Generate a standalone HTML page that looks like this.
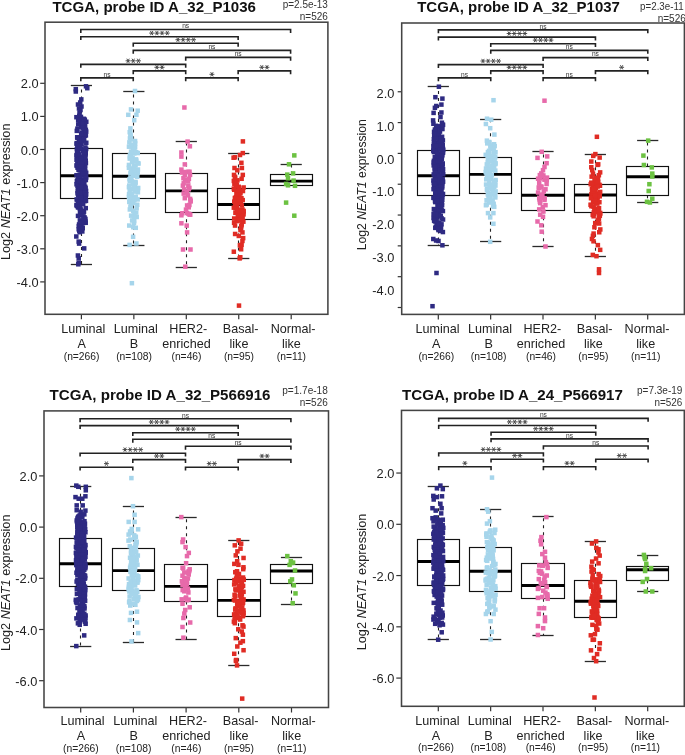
<!DOCTYPE html>
<html><head><meta charset="utf-8"><style>
html,body{margin:0;padding:0;background:#fff;}
body{width:685px;height:755px;overflow:hidden;}
svg{display:block;font-family:"Liberation Sans",sans-serif;filter:blur(0.3px);}
</style></head><body>
<svg width="685" height="755" viewBox="0 0 685 755">
<rect width="685" height="755" fill="#fff"/>
<line x1="40.2" y1="83.3" x2="45" y2="83.3" stroke="#333" stroke-width="1.2" />
<text x="38.6" y="88.3" font-size="12.8" text-anchor="end" fill="#222" >2.0</text>
<line x1="40.2" y1="116.4" x2="45" y2="116.4" stroke="#333" stroke-width="1.2" />
<text x="38.6" y="121.4" font-size="12.8" text-anchor="end" fill="#222" >1.0</text>
<line x1="40.2" y1="149.5" x2="45" y2="149.5" stroke="#333" stroke-width="1.2" />
<text x="38.6" y="154.5" font-size="12.8" text-anchor="end" fill="#222" >0.0</text>
<line x1="40.2" y1="182.6" x2="45" y2="182.6" stroke="#333" stroke-width="1.2" />
<text x="38.6" y="187.6" font-size="12.8" text-anchor="end" fill="#222" >-1.0</text>
<line x1="40.2" y1="215.7" x2="45" y2="215.7" stroke="#333" stroke-width="1.2" />
<text x="38.6" y="220.7" font-size="12.8" text-anchor="end" fill="#222" >-2.0</text>
<line x1="40.2" y1="248.8" x2="45" y2="248.8" stroke="#333" stroke-width="1.2" />
<text x="38.6" y="253.8" font-size="12.8" text-anchor="end" fill="#222" >-3.0</text>
<line x1="40.2" y1="281.9" x2="45" y2="281.9" stroke="#333" stroke-width="1.2" />
<text x="38.6" y="286.9" font-size="12.8" text-anchor="end" fill="#222" >-4.0</text>
<text transform="translate(10,191.8) rotate(-90)" font-size="12.3" text-anchor="middle" fill="#222" textLength="136.5" lengthAdjust="spacingAndGlyphs">Log2 <tspan font-style="italic">NEAT1</tspan> expression</text>
<line x1="81.4" y1="314.3" x2="81.4" y2="319.3" stroke="#333" stroke-width="1.2" />
<text x="83.3" y="332.9" font-size="12.6" text-anchor="middle" fill="#222" >Luminal</text>
<text x="81.6" y="348" font-size="12.6" text-anchor="middle" fill="#222" >A</text>
<text x="81.6" y="359.7" font-size="10.3" text-anchor="middle" fill="#222" >(n=266)</text>
<line x1="133.85" y1="314.3" x2="133.85" y2="319.3" stroke="#333" stroke-width="1.2" />
<text x="135.75" y="332.9" font-size="12.6" text-anchor="middle" fill="#222" >Luminal</text>
<text x="134.05" y="348" font-size="12.6" text-anchor="middle" fill="#222" >B</text>
<text x="134.05" y="359.7" font-size="10.3" text-anchor="middle" fill="#222" >(n=108)</text>
<line x1="186.3" y1="314.3" x2="186.3" y2="319.3" stroke="#333" stroke-width="1.2" />
<text x="188.2" y="332.9" font-size="12.6" text-anchor="middle" fill="#222" >HER2-</text>
<text x="186.5" y="348" font-size="12.6" text-anchor="middle" fill="#222" >enriched</text>
<text x="186.5" y="359.7" font-size="10.3" text-anchor="middle" fill="#222" >(n=46)</text>
<line x1="238.75" y1="314.3" x2="238.75" y2="319.3" stroke="#333" stroke-width="1.2" />
<text x="240.65" y="332.9" font-size="12.6" text-anchor="middle" fill="#222" >Basal-</text>
<text x="238.95" y="348" font-size="12.6" text-anchor="middle" fill="#222" >like</text>
<text x="238.95" y="359.7" font-size="10.3" text-anchor="middle" fill="#222" >(n=95)</text>
<line x1="291.2" y1="314.3" x2="291.2" y2="319.3" stroke="#333" stroke-width="1.2" />
<text x="293.1" y="332.9" font-size="12.6" text-anchor="middle" fill="#222" >Normal-</text>
<text x="291.4" y="348" font-size="12.6" text-anchor="middle" fill="#222" >like</text>
<text x="291.4" y="359.7" font-size="10.3" text-anchor="middle" fill="#222" >(n=11)</text>
<text x="52.4" y="11.8" font-size="14" text-anchor="start" font-weight="bold" fill="#111" textLength="203.6" lengthAdjust="spacingAndGlyphs" >TCGA, probe ID A_32_P1036</text>
<text x="327.9" y="7.6" font-size="10.6" text-anchor="end" fill="#333" textLength="45.2" lengthAdjust="spacingAndGlyphs" >p=2.5e-13</text>
<text x="327.9" y="19.6" font-size="10.6" text-anchor="end" fill="#333" textLength="28.1" lengthAdjust="spacingAndGlyphs" >n=526</text>
<path d="M80.8 32.9V29.5H290.6V32.9" fill="none" stroke="#222" stroke-width="1.6"/>
<text x="185.7" y="28.2" font-size="8" text-anchor="middle" fill="#333" textLength="7" lengthAdjust="spacingAndGlyphs" >ns</text>
<path d="M80.8 40.1V36.7H238.15V40.1" fill="none" stroke="#222" stroke-width="1.6"/>
<path d="M149.23 33.1H154.12M150.45 30.98L152.9 35.22M150.45 35.22L152.9 30.98M154.43 33.1H159.32M155.65 30.98L158.1 35.22M155.65 35.22L158.1 30.98M159.63 33.1H164.53M160.85 30.98L163.3 35.22M160.85 35.22L163.3 30.98M164.83 33.1H169.72M166.05 30.98L168.5 35.22M166.05 35.22L168.5 30.98" stroke="#444" stroke-width="0.95" fill="none"/>
<path d="M133.25 46.7V43.3H238.15V46.7" fill="none" stroke="#222" stroke-width="1.6"/>
<path d="M175.45 39.7H180.35M176.68 37.58L179.13 41.82M176.68 41.82L179.13 37.58M180.65 39.7H185.55M181.88 37.58L184.33 41.82M181.88 41.82L184.33 37.58M185.85 39.7H190.75M187.08 37.58L189.53 41.82M187.08 41.82L189.53 37.58M191.05 39.7H195.95M192.28 37.58L194.73 41.82M192.28 41.82L194.73 37.58" stroke="#444" stroke-width="0.95" fill="none"/>
<path d="M133.25 53.8V50.4H290.6V53.8" fill="none" stroke="#222" stroke-width="1.6"/>
<text x="211.93" y="49.1" font-size="8" text-anchor="middle" fill="#333" textLength="7" lengthAdjust="spacingAndGlyphs" >ns</text>
<path d="M185.7 60.8V57.4H290.6V60.8" fill="none" stroke="#222" stroke-width="1.6"/>
<text x="238.15" y="56.1" font-size="8" text-anchor="middle" fill="#333" textLength="7" lengthAdjust="spacingAndGlyphs" >ns</text>
<path d="M80.8 67.8V64.4H185.7V67.8" fill="none" stroke="#222" stroke-width="1.6"/>
<path d="M125.6 60.8H130.5M126.83 58.68L129.28 62.92M126.83 62.92L129.28 58.68M130.8 60.8H135.7M132.03 58.68L134.47 62.92M132.03 62.92L134.47 58.68M136 60.8H140.9M137.23 58.68L139.68 62.92M137.23 62.92L139.68 58.68" stroke="#444" stroke-width="0.95" fill="none"/>
<path d="M133.25 74.3V70.9H185.7V74.3" fill="none" stroke="#222" stroke-width="1.6"/>
<path d="M154.43 67.3H159.33M155.65 65.18L158.1 69.42M155.65 69.42L158.1 65.18M159.63 67.3H164.53M160.85 65.18L163.3 69.42M160.85 69.42L163.3 65.18" stroke="#444" stroke-width="0.95" fill="none"/>
<path d="M238.15 74.3V70.9H290.6V74.3" fill="none" stroke="#222" stroke-width="1.6"/>
<path d="M259.32 67.3H264.22M260.55 65.18L263 69.42M260.55 69.42L263 65.18M264.52 67.3H269.42M265.75 65.18L268.2 69.42M265.75 69.42L268.2 65.18" stroke="#444" stroke-width="0.95" fill="none"/>
<path d="M80.8 81.3V77.9H133.25V81.3" fill="none" stroke="#222" stroke-width="1.6"/>
<text x="107.03" y="76.6" font-size="8" text-anchor="middle" fill="#333" textLength="7" lengthAdjust="spacingAndGlyphs" >ns</text>
<path d="M185.7 81.3V77.9H238.15V81.3" fill="none" stroke="#222" stroke-width="1.6"/>
<path d="M209.48 74.3H214.38M210.7 72.18L213.15 76.42M210.7 76.42L213.15 72.18" stroke="#444" stroke-width="0.95" fill="none"/>
<line x1="81.5" y1="148.4" x2="81.5" y2="85.9" stroke="#222" stroke-width="1.1" stroke-dasharray="3 4"/>
<line x1="70.8" y1="85.5" x2="92" y2="85.5" stroke="#2a2a2a" stroke-width="1.3" />
<line x1="81.5" y1="198.1" x2="81.5" y2="264.4" stroke="#222" stroke-width="1.1" stroke-dasharray="3 4"/>
<line x1="70.8" y1="264.5" x2="92" y2="264.5" stroke="#2a2a2a" stroke-width="1.3" />
<rect x="60.5" y="148.5" width="42" height="50" fill="#fff" stroke="#111" stroke-width="1.15"/>
<line x1="60.5" y1="175.7" x2="102.5" y2="175.7" stroke="#000" stroke-width="2.9" />
<line x1="133.5" y1="153.4" x2="133.5" y2="91.5" stroke="#222" stroke-width="1.1" stroke-dasharray="3 4"/>
<line x1="123.25" y1="91.5" x2="144.45" y2="91.5" stroke="#2a2a2a" stroke-width="1.3" />
<line x1="133.5" y1="198.5" x2="133.5" y2="245.5" stroke="#222" stroke-width="1.1" stroke-dasharray="3 4"/>
<line x1="123.25" y1="245.5" x2="144.45" y2="245.5" stroke="#2a2a2a" stroke-width="1.3" />
<rect x="112.5" y="153.5" width="43" height="45" fill="#fff" stroke="#111" stroke-width="1.15"/>
<line x1="112.5" y1="176.2" x2="155.5" y2="176.2" stroke="#000" stroke-width="2.9" />
<line x1="186.5" y1="173.4" x2="186.5" y2="141.4" stroke="#222" stroke-width="1.1" stroke-dasharray="3 4"/>
<line x1="175.7" y1="141.5" x2="196.9" y2="141.5" stroke="#2a2a2a" stroke-width="1.3" />
<line x1="186.5" y1="212.2" x2="186.5" y2="267" stroke="#222" stroke-width="1.1" stroke-dasharray="3 4"/>
<line x1="175.7" y1="267.5" x2="196.9" y2="267.5" stroke="#2a2a2a" stroke-width="1.3" />
<rect x="165.5" y="173.5" width="42" height="39" fill="#fff" stroke="#111" stroke-width="1.15"/>
<line x1="165.5" y1="190.9" x2="207.5" y2="190.9" stroke="#000" stroke-width="2.9" />
<line x1="238.5" y1="188.6" x2="238.5" y2="153.8" stroke="#222" stroke-width="1.1" stroke-dasharray="3 4"/>
<line x1="228.15" y1="153.5" x2="249.35" y2="153.5" stroke="#2a2a2a" stroke-width="1.3" />
<line x1="238.5" y1="219.6" x2="238.5" y2="258.4" stroke="#222" stroke-width="1.1" stroke-dasharray="3 4"/>
<line x1="228.15" y1="258.5" x2="249.35" y2="258.5" stroke="#2a2a2a" stroke-width="1.3" />
<rect x="217.5" y="188.5" width="42" height="31" fill="#fff" stroke="#111" stroke-width="1.15"/>
<line x1="217.5" y1="204.5" x2="259.5" y2="204.5" stroke="#000" stroke-width="2.9" />
<line x1="291.5" y1="174.6" x2="291.5" y2="164.3" stroke="#222" stroke-width="1.1" stroke-dasharray="3 4"/>
<line x1="280.6" y1="164.5" x2="301.8" y2="164.5" stroke="#2a2a2a" stroke-width="1.3" />
<rect x="270.5" y="174.5" width="42" height="11" fill="#fff" stroke="#111" stroke-width="1.15"/>
<line x1="270.5" y1="181.1" x2="312.5" y2="181.1" stroke="#000" stroke-width="2.9" />
<g fill="#2e2a82">
<rect x="82.95" y="152.58" width="4.5" height="4.5"/>
<rect x="80.53" y="189.35" width="4.5" height="4.5"/>
<rect x="81.69" y="184.09" width="4.5" height="4.5"/>
<rect x="80.48" y="225.99" width="4.5" height="4.5"/>
<rect x="76.99" y="228.04" width="4.5" height="4.5"/>
<rect x="75.26" y="197.62" width="4.5" height="4.5"/>
<rect x="75.85" y="143.05" width="4.5" height="4.5"/>
<rect x="81.85" y="124.68" width="4.5" height="4.5"/>
<rect x="83.45" y="175.65" width="4.5" height="4.5"/>
<rect x="75.13" y="135.45" width="4.5" height="4.5"/>
<rect x="82.76" y="163.79" width="4.5" height="4.5"/>
<rect x="75.38" y="177.92" width="4.5" height="4.5"/>
<rect x="77.63" y="157.65" width="4.5" height="4.5"/>
<rect x="83.96" y="175.26" width="4.5" height="4.5"/>
<rect x="83.5" y="149.97" width="4.5" height="4.5"/>
<rect x="76.86" y="166.71" width="4.5" height="4.5"/>
<rect x="78.14" y="213.19" width="4.5" height="4.5"/>
<rect x="82.5" y="133.44" width="4.5" height="4.5"/>
<rect x="74.25" y="172.95" width="4.5" height="4.5"/>
<rect x="75.78" y="205.24" width="4.5" height="4.5"/>
<rect x="83.46" y="220.56" width="4.5" height="4.5"/>
<rect x="76.75" y="106.25" width="4.5" height="4.5"/>
<rect x="74.54" y="140.84" width="4.5" height="4.5"/>
<rect x="80.46" y="156.69" width="4.5" height="4.5"/>
<rect x="81.06" y="132.5" width="4.5" height="4.5"/>
<rect x="81.65" y="127.21" width="4.5" height="4.5"/>
<rect x="78.04" y="200.85" width="4.5" height="4.5"/>
<rect x="83.78" y="192.3" width="4.5" height="4.5"/>
<rect x="80.57" y="196.77" width="4.5" height="4.5"/>
<rect x="82.31" y="215.15" width="4.5" height="4.5"/>
<rect x="78.16" y="180.49" width="4.5" height="4.5"/>
<rect x="78.1" y="118.92" width="4.5" height="4.5"/>
<rect x="81.32" y="188.29" width="4.5" height="4.5"/>
<rect x="74.62" y="178.84" width="4.5" height="4.5"/>
<rect x="79.99" y="160.92" width="4.5" height="4.5"/>
<rect x="82.97" y="151.73" width="4.5" height="4.5"/>
<rect x="75.55" y="178.43" width="4.5" height="4.5"/>
<rect x="79.12" y="146.55" width="4.5" height="4.5"/>
<rect x="78.53" y="210.57" width="4.5" height="4.5"/>
<rect x="76.45" y="239.35" width="4.5" height="4.5"/>
<rect x="76.81" y="144.51" width="4.5" height="4.5"/>
<rect x="81.21" y="195.26" width="4.5" height="4.5"/>
<rect x="75.62" y="184.62" width="4.5" height="4.5"/>
<rect x="78.06" y="212.21" width="4.5" height="4.5"/>
<rect x="77.13" y="172.6" width="4.5" height="4.5"/>
<rect x="74.55" y="153.61" width="4.5" height="4.5"/>
<rect x="74.97" y="149.53" width="4.5" height="4.5"/>
<rect x="74.57" y="147.03" width="4.5" height="4.5"/>
<rect x="80.33" y="170.18" width="4.5" height="4.5"/>
<rect x="80.05" y="229.19" width="4.5" height="4.5"/>
<rect x="76.05" y="174.55" width="4.5" height="4.5"/>
<rect x="74.35" y="163.08" width="4.5" height="4.5"/>
<rect x="83.06" y="169.32" width="4.5" height="4.5"/>
<rect x="79.56" y="177.33" width="4.5" height="4.5"/>
<rect x="79.81" y="190.24" width="4.5" height="4.5"/>
<rect x="81.82" y="153.91" width="4.5" height="4.5"/>
<rect x="81.53" y="158.26" width="4.5" height="4.5"/>
<rect x="79.44" y="196.25" width="4.5" height="4.5"/>
<rect x="81.82" y="185.25" width="4.5" height="4.5"/>
<rect x="77.97" y="168.08" width="4.5" height="4.5"/>
<rect x="78.05" y="181.07" width="4.5" height="4.5"/>
<rect x="76.57" y="223.88" width="4.5" height="4.5"/>
<rect x="76.68" y="185.94" width="4.5" height="4.5"/>
<rect x="79.33" y="141.89" width="4.5" height="4.5"/>
<rect x="81.21" y="214.18" width="4.5" height="4.5"/>
<rect x="78.02" y="208.46" width="4.5" height="4.5"/>
<rect x="77.04" y="138.21" width="4.5" height="4.5"/>
<rect x="77.82" y="206.53" width="4.5" height="4.5"/>
<rect x="83.3" y="158.46" width="4.5" height="4.5"/>
<rect x="78.65" y="115.9" width="4.5" height="4.5"/>
<rect x="76.09" y="176.64" width="4.5" height="4.5"/>
<rect x="81.77" y="186.66" width="4.5" height="4.5"/>
<rect x="83.06" y="131.02" width="4.5" height="4.5"/>
<rect x="74.55" y="128.62" width="4.5" height="4.5"/>
<rect x="81.83" y="193.41" width="4.5" height="4.5"/>
<rect x="80.05" y="187.73" width="4.5" height="4.5"/>
<rect x="76.75" y="174.99" width="4.5" height="4.5"/>
<rect x="75.55" y="161.24" width="4.5" height="4.5"/>
<rect x="74.47" y="202.61" width="4.5" height="4.5"/>
<rect x="79.48" y="194.58" width="4.5" height="4.5"/>
<rect x="80.92" y="201.52" width="4.5" height="4.5"/>
<rect x="77.15" y="228.71" width="4.5" height="4.5"/>
<rect x="77.85" y="142.45" width="4.5" height="4.5"/>
<rect x="85.05" y="85.95" width="4.5" height="4.5"/>
<rect x="83.94" y="129.29" width="4.5" height="4.5"/>
<rect x="83.24" y="148.18" width="4.5" height="4.5"/>
<rect x="78.86" y="224.53" width="4.5" height="4.5"/>
<rect x="76.66" y="176.27" width="4.5" height="4.5"/>
<rect x="76.19" y="155.72" width="4.5" height="4.5"/>
<rect x="81.61" y="129.62" width="4.5" height="4.5"/>
<rect x="76.86" y="174.03" width="4.5" height="4.5"/>
<rect x="83.65" y="160.75" width="4.5" height="4.5"/>
<rect x="79.23" y="223.32" width="4.5" height="4.5"/>
<rect x="76.33" y="145.54" width="4.5" height="4.5"/>
<rect x="75.76" y="213.63" width="4.5" height="4.5"/>
<rect x="82.76" y="184.26" width="4.5" height="4.5"/>
<rect x="79.73" y="173.05" width="4.5" height="4.5"/>
<rect x="74.62" y="163.64" width="4.5" height="4.5"/>
<rect x="83.49" y="151.16" width="4.5" height="4.5"/>
<rect x="73.55" y="89.25" width="4.5" height="4.5"/>
<rect x="76.08" y="181.77" width="4.5" height="4.5"/>
<rect x="74.05" y="234.25" width="4.5" height="4.5"/>
<rect x="76.75" y="144.54" width="4.5" height="4.5"/>
<rect x="77.68" y="225.24" width="4.5" height="4.5"/>
<rect x="81.16" y="179.62" width="4.5" height="4.5"/>
<rect x="76.73" y="139.2" width="4.5" height="4.5"/>
<rect x="82.57" y="167.27" width="4.5" height="4.5"/>
<rect x="80.41" y="171.97" width="4.5" height="4.5"/>
<rect x="81.72" y="148.41" width="4.5" height="4.5"/>
<rect x="78.66" y="114.62" width="4.5" height="4.5"/>
<rect x="81.95" y="246.15" width="4.5" height="4.5"/>
<rect x="75.08" y="143.37" width="4.5" height="4.5"/>
<rect x="77.25" y="183.07" width="4.5" height="4.5"/>
<rect x="80.4" y="162.41" width="4.5" height="4.5"/>
<rect x="77.74" y="212.05" width="4.5" height="4.5"/>
<rect x="80.6" y="221.1" width="4.5" height="4.5"/>
<rect x="83.05" y="186.22" width="4.5" height="4.5"/>
<rect x="79.83" y="182.23" width="4.5" height="4.5"/>
<rect x="76.81" y="222.25" width="4.5" height="4.5"/>
<rect x="79.06" y="122.05" width="4.5" height="4.5"/>
<rect x="75.19" y="159.64" width="4.5" height="4.5"/>
<rect x="75.21" y="162.79" width="4.5" height="4.5"/>
<rect x="82.78" y="165.18" width="4.5" height="4.5"/>
<rect x="82.16" y="169.64" width="4.5" height="4.5"/>
<rect x="83.63" y="133.2" width="4.5" height="4.5"/>
<rect x="80.3" y="134.5" width="4.5" height="4.5"/>
<rect x="80.03" y="154.77" width="4.5" height="4.5"/>
<rect x="84.03" y="140.5" width="4.5" height="4.5"/>
<rect x="83.9" y="146.74" width="4.5" height="4.5"/>
<rect x="76.85" y="241.35" width="4.5" height="4.5"/>
<rect x="81.89" y="136.72" width="4.5" height="4.5"/>
<rect x="80.48" y="166.27" width="4.5" height="4.5"/>
<rect x="83.3" y="159.14" width="4.5" height="4.5"/>
<rect x="73.55" y="86.95" width="4.5" height="4.5"/>
<rect x="82.14" y="179.41" width="4.5" height="4.5"/>
<rect x="81.43" y="170.82" width="4.5" height="4.5"/>
<rect x="81.74" y="209.47" width="4.5" height="4.5"/>
<rect x="74.35" y="203.13" width="4.5" height="4.5"/>
<rect x="79.24" y="130.38" width="4.5" height="4.5"/>
<rect x="81.58" y="147.71" width="4.5" height="4.5"/>
<rect x="75.36" y="183.58" width="4.5" height="4.5"/>
<rect x="76.82" y="204.75" width="4.5" height="4.5"/>
<rect x="77.59" y="176.97" width="4.5" height="4.5"/>
<rect x="79.22" y="168.27" width="4.5" height="4.5"/>
<rect x="83.61" y="177.77" width="4.5" height="4.5"/>
<rect x="74.4" y="197.22" width="4.5" height="4.5"/>
<rect x="74.28" y="182.03" width="4.5" height="4.5"/>
<rect x="74.29" y="157.54" width="4.5" height="4.5"/>
<rect x="83.5" y="205.87" width="4.5" height="4.5"/>
<rect x="78.94" y="124.9" width="4.5" height="4.5"/>
<rect x="77.71" y="139.82" width="4.5" height="4.5"/>
<rect x="78.92" y="179.92" width="4.5" height="4.5"/>
<rect x="82.36" y="171.47" width="4.5" height="4.5"/>
<rect x="75.97" y="122.17" width="4.5" height="4.5"/>
<rect x="78.49" y="194.94" width="4.5" height="4.5"/>
<rect x="77.25" y="110.55" width="4.5" height="4.5"/>
<rect x="74.89" y="203.83" width="4.5" height="4.5"/>
<rect x="77.54" y="229.94" width="4.5" height="4.5"/>
<rect x="77.62" y="192.78" width="4.5" height="4.5"/>
<rect x="77.94" y="160.11" width="4.5" height="4.5"/>
<rect x="76.24" y="176.08" width="4.5" height="4.5"/>
<rect x="78.06" y="174.12" width="4.5" height="4.5"/>
<rect x="80.88" y="210.13" width="4.5" height="4.5"/>
<rect x="75.03" y="150.96" width="4.5" height="4.5"/>
<rect x="83.58" y="127.59" width="4.5" height="4.5"/>
<rect x="75.75" y="191.23" width="4.5" height="4.5"/>
<rect x="76.05" y="262.05" width="4.5" height="4.5"/>
<rect x="80.82" y="148.89" width="4.5" height="4.5"/>
<rect x="83.52" y="173.68" width="4.5" height="4.5"/>
<rect x="77.65" y="207.24" width="4.5" height="4.5"/>
<rect x="78.88" y="196.65" width="4.5" height="4.5"/>
<rect x="79.9" y="138.84" width="4.5" height="4.5"/>
<rect x="79.05" y="97.15" width="4.5" height="4.5"/>
<rect x="76.62" y="135.97" width="4.5" height="4.5"/>
<rect x="77.63" y="218.08" width="4.5" height="4.5"/>
<rect x="79.09" y="211.56" width="4.5" height="4.5"/>
<rect x="79.63" y="156.95" width="4.5" height="4.5"/>
<rect x="83.16" y="191.65" width="4.5" height="4.5"/>
<rect x="83.08" y="218.83" width="4.5" height="4.5"/>
<rect x="76.45" y="256.05" width="4.5" height="4.5"/>
<rect x="83.48" y="194.16" width="4.5" height="4.5"/>
<rect x="75.26" y="165.47" width="4.5" height="4.5"/>
<rect x="74.36" y="141.57" width="4.5" height="4.5"/>
<rect x="78.7" y="195.8" width="4.5" height="4.5"/>
<rect x="76.55" y="199.56" width="4.5" height="4.5"/>
<rect x="79.39" y="200.31" width="4.5" height="4.5"/>
<rect x="82.51" y="198.81" width="4.5" height="4.5"/>
<rect x="82.88" y="123.81" width="4.5" height="4.5"/>
<rect x="83.18" y="155.5" width="4.5" height="4.5"/>
<rect x="76.38" y="164.66" width="4.5" height="4.5"/>
<rect x="79.22" y="187.9" width="4.5" height="4.5"/>
<rect x="77.97" y="203.5" width="4.5" height="4.5"/>
<rect x="83.75" y="84.05" width="4.5" height="4.5"/>
<rect x="77.78" y="186.87" width="4.5" height="4.5"/>
<rect x="84.03" y="119.49" width="4.5" height="4.5"/>
<rect x="77.26" y="222.41" width="4.5" height="4.5"/>
<rect x="77.95" y="100.25" width="4.5" height="4.5"/>
<rect x="78.91" y="131.71" width="4.5" height="4.5"/>
<rect x="75.93" y="193.11" width="4.5" height="4.5"/>
<rect x="75.65" y="253.25" width="4.5" height="4.5"/>
<rect x="78.71" y="194.49" width="4.5" height="4.5"/>
<rect x="76.28" y="167.56" width="4.5" height="4.5"/>
<rect x="82.35" y="217.41" width="4.5" height="4.5"/>
<rect x="83.84" y="188.64" width="4.5" height="4.5"/>
<rect x="75.95" y="145.88" width="4.5" height="4.5"/>
<rect x="78.37" y="207.43" width="4.5" height="4.5"/>
<rect x="77.54" y="120.33" width="4.5" height="4.5"/>
<rect x="77.5" y="193.53" width="4.5" height="4.5"/>
<rect x="82.56" y="190.1" width="4.5" height="4.5"/>
<rect x="80.1" y="183.46" width="4.5" height="4.5"/>
<rect x="83.72" y="198.62" width="4.5" height="4.5"/>
<rect x="77.02" y="113.66" width="4.5" height="4.5"/>
<rect x="83.18" y="198.14" width="4.5" height="4.5"/>
<rect x="83.71" y="192.1" width="4.5" height="4.5"/>
<rect x="76.45" y="227.03" width="4.5" height="4.5"/>
<rect x="80.99" y="123.47" width="4.5" height="4.5"/>
<rect x="79.58" y="208.64" width="4.5" height="4.5"/>
<rect x="83.92" y="170.52" width="4.5" height="4.5"/>
<rect x="82.64" y="219.39" width="4.5" height="4.5"/>
<rect x="75.92" y="117.87" width="4.5" height="4.5"/>
<rect x="74.26" y="152.67" width="4.5" height="4.5"/>
<rect x="79.4" y="154.69" width="4.5" height="4.5"/>
<rect x="81.53" y="136.96" width="4.5" height="4.5"/>
<rect x="76.19" y="149.28" width="4.5" height="4.5"/>
<rect x="80" y="166.06" width="4.5" height="4.5"/>
<rect x="77.58" y="187.32" width="4.5" height="4.5"/>
<rect x="82.57" y="159.26" width="4.5" height="4.5"/>
<rect x="76.52" y="189.53" width="4.5" height="4.5"/>
<rect x="81.5" y="168.97" width="4.5" height="4.5"/>
<rect x="75.91" y="143.73" width="4.5" height="4.5"/>
<rect x="77.4" y="137.83" width="4.5" height="4.5"/>
<rect x="81.68" y="216.04" width="4.5" height="4.5"/>
<rect x="76.48" y="153.25" width="4.5" height="4.5"/>
<rect x="81.81" y="150.49" width="4.5" height="4.5"/>
<rect x="75.75" y="102.25" width="4.5" height="4.5"/>
<rect x="82.55" y="117.44" width="4.5" height="4.5"/>
<rect x="80.43" y="125.69" width="4.5" height="4.5"/>
<rect x="78.25" y="107.75" width="4.5" height="4.5"/>
<rect x="78.11" y="190.83" width="4.5" height="4.5"/>
<rect x="81.35" y="181.3" width="4.5" height="4.5"/>
<rect x="76.64" y="178.73" width="4.5" height="4.5"/>
<rect x="80.66" y="182.6" width="4.5" height="4.5"/>
<rect x="77.15" y="152.21" width="4.5" height="4.5"/>
<rect x="75.42" y="188.86" width="4.5" height="4.5"/>
<rect x="79.89" y="220.03" width="4.5" height="4.5"/>
<rect x="75.14" y="126.43" width="4.5" height="4.5"/>
<rect x="79.08" y="184.98" width="4.5" height="4.5"/>
<rect x="80.46" y="120.95" width="4.5" height="4.5"/>
<rect x="79.86" y="201.73" width="4.5" height="4.5"/>
<rect x="80.33" y="180.23" width="4.5" height="4.5"/>
<rect x="83.17" y="145.18" width="4.5" height="4.5"/>
<rect x="83.24" y="185.54" width="4.5" height="4.5"/>
<rect x="78.93" y="156.32" width="4.5" height="4.5"/>
<rect x="79.82" y="162" width="4.5" height="4.5"/>
<rect x="78.73" y="164.33" width="4.5" height="4.5"/>
<rect x="79.25" y="104.25" width="4.5" height="4.5"/>
<rect x="74.92" y="135.03" width="4.5" height="4.5"/>
<rect x="80.89" y="171.27" width="4.5" height="4.5"/>
<rect x="76.45" y="260.45" width="4.5" height="4.5"/>
<rect x="75.39" y="190.95" width="4.5" height="4.5"/>
<rect x="78.63" y="195.88" width="4.5" height="4.5"/>
<rect x="77.97" y="146.08" width="4.5" height="4.5"/>
<rect x="83.18" y="216.66" width="4.5" height="4.5"/>
<rect x="75.88" y="199.9" width="4.5" height="4.5"/>
<rect x="74.17" y="114.95" width="4.5" height="4.5"/>
<rect x="81.63" y="116.55" width="4.5" height="4.5"/>
</g>
<g fill="#a6d5eb">
<rect x="131.88" y="163.91" width="4.5" height="4.5"/>
<rect x="134.43" y="214.74" width="4.5" height="4.5"/>
<rect x="126.7" y="184.96" width="4.5" height="4.5"/>
<rect x="132.2" y="211.66" width="4.5" height="4.5"/>
<rect x="127.55" y="178.9" width="4.5" height="4.5"/>
<rect x="130.85" y="186.57" width="4.5" height="4.5"/>
<rect x="127.35" y="242.65" width="4.5" height="4.5"/>
<rect x="134.08" y="158.4" width="4.5" height="4.5"/>
<rect x="127.72" y="153.11" width="4.5" height="4.5"/>
<rect x="131.75" y="220.53" width="4.5" height="4.5"/>
<rect x="129.76" y="195.78" width="4.5" height="4.5"/>
<rect x="128.26" y="171.17" width="4.5" height="4.5"/>
<rect x="134.4" y="205.94" width="4.5" height="4.5"/>
<rect x="129.11" y="142.98" width="4.5" height="4.5"/>
<rect x="131.91" y="218.78" width="4.5" height="4.5"/>
<rect x="130.53" y="146.88" width="4.5" height="4.5"/>
<rect x="128.51" y="135.12" width="4.5" height="4.5"/>
<rect x="126.7" y="162.69" width="4.5" height="4.5"/>
<rect x="127.13" y="140.19" width="4.5" height="4.5"/>
<rect x="133.33" y="163.12" width="4.5" height="4.5"/>
<rect x="132.85" y="138.76" width="4.5" height="4.5"/>
<rect x="131.57" y="169.04" width="4.5" height="4.5"/>
<rect x="132.02" y="151.21" width="4.5" height="4.5"/>
<rect x="135.48" y="170.66" width="4.5" height="4.5"/>
<rect x="129.86" y="218.21" width="4.5" height="4.5"/>
<rect x="127.67" y="198.83" width="4.5" height="4.5"/>
<rect x="133.82" y="187.41" width="4.5" height="4.5"/>
<rect x="135.45" y="108.45" width="4.5" height="4.5"/>
<rect x="135.4" y="197.18" width="4.5" height="4.5"/>
<rect x="133.12" y="179.63" width="4.5" height="4.5"/>
<rect x="131.95" y="117.95" width="4.5" height="4.5"/>
<rect x="128.26" y="131.29" width="4.5" height="4.5"/>
<rect x="129.79" y="159.91" width="4.5" height="4.5"/>
<rect x="130.85" y="234.55" width="4.5" height="4.5"/>
<rect x="126.99" y="183.39" width="4.5" height="4.5"/>
<rect x="129.02" y="137.23" width="4.5" height="4.5"/>
<rect x="135.96" y="185.72" width="4.5" height="4.5"/>
<rect x="128.87" y="213.41" width="4.5" height="4.5"/>
<rect x="132.89" y="173.63" width="4.5" height="4.5"/>
<rect x="127.06" y="199.73" width="4.5" height="4.5"/>
<rect x="127.69" y="136.13" width="4.5" height="4.5"/>
<rect x="132.45" y="158.66" width="4.5" height="4.5"/>
<rect x="132.86" y="145.07" width="4.5" height="4.5"/>
<rect x="133.46" y="194.48" width="4.5" height="4.5"/>
<rect x="132.9" y="141.13" width="4.5" height="4.5"/>
<rect x="127.75" y="154.69" width="4.5" height="4.5"/>
<rect x="127.46" y="129.94" width="4.5" height="4.5"/>
<rect x="128.75" y="107.15" width="4.5" height="4.5"/>
<rect x="129.58" y="178.39" width="4.5" height="4.5"/>
<rect x="132.82" y="183.19" width="4.5" height="4.5"/>
<rect x="126.98" y="223.31" width="4.5" height="4.5"/>
<rect x="132.66" y="181.27" width="4.5" height="4.5"/>
<rect x="128.49" y="176.48" width="4.5" height="4.5"/>
<rect x="130.37" y="155.54" width="4.5" height="4.5"/>
<rect x="130.98" y="200.82" width="4.5" height="4.5"/>
<rect x="135.66" y="190.02" width="4.5" height="4.5"/>
<rect x="126.72" y="144.46" width="4.5" height="4.5"/>
<rect x="135.51" y="150.8" width="4.5" height="4.5"/>
<rect x="127.41" y="188.84" width="4.5" height="4.5"/>
<rect x="133.34" y="180.39" width="4.5" height="4.5"/>
<rect x="131.45" y="172.6" width="4.5" height="4.5"/>
<rect x="134.01" y="149.98" width="4.5" height="4.5"/>
<rect x="130.82" y="173.39" width="4.5" height="4.5"/>
<rect x="130.96" y="224.98" width="4.5" height="4.5"/>
<rect x="135" y="202.5" width="4.5" height="4.5"/>
<rect x="128.75" y="204.04" width="4.5" height="4.5"/>
<rect x="131.86" y="148.33" width="4.5" height="4.5"/>
<rect x="127.5" y="156.37" width="4.5" height="4.5"/>
<rect x="128.22" y="204.46" width="4.5" height="4.5"/>
<rect x="129.21" y="166.27" width="4.5" height="4.5"/>
<rect x="129.28" y="192.53" width="4.5" height="4.5"/>
<rect x="133.77" y="157.1" width="4.5" height="4.5"/>
<rect x="129.1" y="142.45" width="4.5" height="4.5"/>
<rect x="131.61" y="215.76" width="4.5" height="4.5"/>
<rect x="133.96" y="210.34" width="4.5" height="4.5"/>
<rect x="136.32" y="161.26" width="4.5" height="4.5"/>
<rect x="134.15" y="112.55" width="4.5" height="4.5"/>
<rect x="130.53" y="181.89" width="4.5" height="4.5"/>
<rect x="132.75" y="88.75" width="4.5" height="4.5"/>
<rect x="128.39" y="152.57" width="4.5" height="4.5"/>
<rect x="126.8" y="191.94" width="4.5" height="4.5"/>
<rect x="135.54" y="160.86" width="4.5" height="4.5"/>
<rect x="128.65" y="169.93" width="4.5" height="4.5"/>
<rect x="131.64" y="165.1" width="4.5" height="4.5"/>
<rect x="131.93" y="147.76" width="4.5" height="4.5"/>
<rect x="128.95" y="193.2" width="4.5" height="4.5"/>
<rect x="128.15" y="126.15" width="4.5" height="4.5"/>
<rect x="128.37" y="154.01" width="4.5" height="4.5"/>
<rect x="128.3" y="133.59" width="4.5" height="4.5"/>
<rect x="131.34" y="196.28" width="4.5" height="4.5"/>
<rect x="126.74" y="194.78" width="4.5" height="4.5"/>
<rect x="126.05" y="112.55" width="4.5" height="4.5"/>
<rect x="131.03" y="208.83" width="4.5" height="4.5"/>
<rect x="132.03" y="184.39" width="4.5" height="4.5"/>
<rect x="133.51" y="225.56" width="4.5" height="4.5"/>
<rect x="134.15" y="241.25" width="4.5" height="4.5"/>
<rect x="126.66" y="165.56" width="4.5" height="4.5"/>
<rect x="129.52" y="191.15" width="4.5" height="4.5"/>
<rect x="128.23" y="175.37" width="4.5" height="4.5"/>
<rect x="132.13" y="197.96" width="4.5" height="4.5"/>
<rect x="135.67" y="167.28" width="4.5" height="4.5"/>
<rect x="132.42" y="168.02" width="4.5" height="4.5"/>
<rect x="128.8" y="149.41" width="4.5" height="4.5"/>
<rect x="127.58" y="207.22" width="4.5" height="4.5"/>
<rect x="133.02" y="189.37" width="4.5" height="4.5"/>
<rect x="127.32" y="176.93" width="4.5" height="4.5"/>
<rect x="134.98" y="174.43" width="4.5" height="4.5"/>
<rect x="129.65" y="280.95" width="4.5" height="4.5"/>
</g>
<g fill="#e76aaa">
<rect x="182.15" y="105.25" width="4.5" height="4.5"/>
<rect x="187.98" y="212.43" width="4.5" height="4.5"/>
<rect x="184.85" y="210.75" width="4.5" height="4.5"/>
<rect x="184.61" y="189.4" width="4.5" height="4.5"/>
<rect x="187.79" y="172.63" width="4.5" height="4.5"/>
<rect x="182.89" y="177.72" width="4.5" height="4.5"/>
<rect x="184.85" y="230.15" width="4.5" height="4.5"/>
<rect x="187.65" y="144.05" width="4.5" height="4.5"/>
<rect x="186.65" y="176.55" width="4.5" height="4.5"/>
<rect x="181.45" y="191.35" width="4.5" height="4.5"/>
<rect x="187.94" y="196.66" width="4.5" height="4.5"/>
<rect x="187.15" y="202.75" width="4.5" height="4.5"/>
<rect x="179.15" y="167.35" width="4.5" height="4.5"/>
<rect x="179.15" y="221.05" width="4.5" height="4.5"/>
<rect x="179.15" y="213.05" width="4.5" height="4.5"/>
<rect x="186.5" y="205.08" width="4.5" height="4.5"/>
<rect x="187.29" y="169.52" width="4.5" height="4.5"/>
<rect x="186.45" y="187.03" width="4.5" height="4.5"/>
<rect x="186.05" y="183.35" width="4.5" height="4.5"/>
<rect x="188.42" y="199.14" width="4.5" height="4.5"/>
<rect x="186.51" y="211.6" width="4.5" height="4.5"/>
<rect x="184.45" y="223.35" width="4.5" height="4.5"/>
<rect x="182.55" y="173.05" width="4.5" height="4.5"/>
<rect x="180.09" y="211" width="4.5" height="4.5"/>
<rect x="179.74" y="170.28" width="4.5" height="4.5"/>
<rect x="185.74" y="193.09" width="4.5" height="4.5"/>
<rect x="181.19" y="175.93" width="4.5" height="4.5"/>
<rect x="185.35" y="139.35" width="4.5" height="4.5"/>
<rect x="183.05" y="264.45" width="4.5" height="4.5"/>
<rect x="187.01" y="212.09" width="4.5" height="4.5"/>
<rect x="187.15" y="185.65" width="4.5" height="4.5"/>
<rect x="181.92" y="187.13" width="4.5" height="4.5"/>
<rect x="184.85" y="203.19" width="4.5" height="4.5"/>
<rect x="182.55" y="195.95" width="4.5" height="4.5"/>
<rect x="182.55" y="162.15" width="4.5" height="4.5"/>
<rect x="179.15" y="154.35" width="4.5" height="4.5"/>
<rect x="183.75" y="207.35" width="4.5" height="4.5"/>
<rect x="185.87" y="179.05" width="4.5" height="4.5"/>
<rect x="179.15" y="150.25" width="4.5" height="4.5"/>
<rect x="188.25" y="198.25" width="4.5" height="4.5"/>
<rect x="186.05" y="169.65" width="4.5" height="4.5"/>
<rect x="180.63" y="183.4" width="4.5" height="4.5"/>
<rect x="181.45" y="181.05" width="4.5" height="4.5"/>
<rect x="180.75" y="247.25" width="4.5" height="4.5"/>
<rect x="183.02" y="169.76" width="4.5" height="4.5"/>
<rect x="188.25" y="247.25" width="4.5" height="4.5"/>
</g>
<g fill="#e02c24">
<rect x="237.7" y="211.24" width="4.5" height="4.5"/>
<rect x="234.97" y="206.87" width="4.5" height="4.5"/>
<rect x="238.87" y="247.01" width="4.5" height="4.5"/>
<rect x="238.68" y="217.44" width="4.5" height="4.5"/>
<rect x="234.6" y="189.12" width="4.5" height="4.5"/>
<rect x="238.27" y="207.85" width="4.5" height="4.5"/>
<rect x="232.25" y="165.75" width="4.5" height="4.5"/>
<rect x="240.18" y="238.71" width="4.5" height="4.5"/>
<rect x="238.73" y="218.2" width="4.5" height="4.5"/>
<rect x="233.4" y="206.21" width="4.5" height="4.5"/>
<rect x="237.9" y="189.9" width="4.5" height="4.5"/>
<rect x="233.27" y="198.99" width="4.5" height="4.5"/>
<rect x="235.85" y="193.5" width="4.5" height="4.5"/>
<rect x="232.86" y="175.6" width="4.5" height="4.5"/>
<rect x="233.18" y="210.56" width="4.5" height="4.5"/>
<rect x="239.58" y="203.19" width="4.5" height="4.5"/>
<rect x="240.37" y="215.32" width="4.5" height="4.5"/>
<rect x="237.07" y="193" width="4.5" height="4.5"/>
<rect x="238.21" y="227.86" width="4.5" height="4.5"/>
<rect x="235.8" y="217.38" width="4.5" height="4.5"/>
<rect x="236.51" y="217.68" width="4.5" height="4.5"/>
<rect x="232.63" y="195.78" width="4.5" height="4.5"/>
<rect x="237.39" y="256.15" width="4.5" height="4.5"/>
<rect x="235.2" y="178.12" width="4.5" height="4.5"/>
<rect x="237.75" y="152.75" width="4.5" height="4.5"/>
<rect x="231.96" y="187.53" width="4.5" height="4.5"/>
<rect x="236.55" y="212.61" width="4.5" height="4.5"/>
<rect x="239.6" y="214.11" width="4.5" height="4.5"/>
<rect x="232.99" y="204.23" width="4.5" height="4.5"/>
<rect x="232.8" y="223.31" width="4.5" height="4.5"/>
<rect x="239.46" y="222.26" width="4.5" height="4.5"/>
<rect x="239" y="223.86" width="4.5" height="4.5"/>
<rect x="233.54" y="203.32" width="4.5" height="4.5"/>
<rect x="232.13" y="181.63" width="4.5" height="4.5"/>
<rect x="233.49" y="183.55" width="4.5" height="4.5"/>
<rect x="236.9" y="186.11" width="4.5" height="4.5"/>
<rect x="234.41" y="204.74" width="4.5" height="4.5"/>
<rect x="240.48" y="197.86" width="4.5" height="4.5"/>
<rect x="234.69" y="217.04" width="4.5" height="4.5"/>
<rect x="234.51" y="218.87" width="4.5" height="4.5"/>
<rect x="236.55" y="233.7" width="4.5" height="4.5"/>
<rect x="236.97" y="197.71" width="4.5" height="4.5"/>
<rect x="234.42" y="194.39" width="4.5" height="4.5"/>
<rect x="240.92" y="235.88" width="4.5" height="4.5"/>
<rect x="236.49" y="184.57" width="4.5" height="4.5"/>
<rect x="240.2" y="230.16" width="4.5" height="4.5"/>
<rect x="234.47" y="202.55" width="4.5" height="4.5"/>
<rect x="231.58" y="186.38" width="4.5" height="4.5"/>
<rect x="240.55" y="172.65" width="4.5" height="4.5"/>
<rect x="235.58" y="213.01" width="4.5" height="4.5"/>
<rect x="231.75" y="172.65" width="4.5" height="4.5"/>
<rect x="241.09" y="209.83" width="4.5" height="4.5"/>
<rect x="241.31" y="212.14" width="4.5" height="4.5"/>
<rect x="238.77" y="214.56" width="4.5" height="4.5"/>
<rect x="239.37" y="242.51" width="4.5" height="4.5"/>
<rect x="239.2" y="195.99" width="4.5" height="4.5"/>
<rect x="231.6" y="205.4" width="4.5" height="4.5"/>
<rect x="237.66" y="243.07" width="4.5" height="4.5"/>
<rect x="241.14" y="219.42" width="4.5" height="4.5"/>
<rect x="234.62" y="182.88" width="4.5" height="4.5"/>
<rect x="239.44" y="215.48" width="4.5" height="4.5"/>
<rect x="233.29" y="179.54" width="4.5" height="4.5"/>
<rect x="231.57" y="249.46" width="4.5" height="4.5"/>
<rect x="236.76" y="200.18" width="4.5" height="4.5"/>
<rect x="238.84" y="225.9" width="4.5" height="4.5"/>
<rect x="239.37" y="176.54" width="4.5" height="4.5"/>
<rect x="232.75" y="155.05" width="4.5" height="4.5"/>
<rect x="238.6" y="200.87" width="4.5" height="4.5"/>
<rect x="238.18" y="191.1" width="4.5" height="4.5"/>
<rect x="233.65" y="195" width="4.5" height="4.5"/>
<rect x="233.16" y="201.24" width="4.5" height="4.5"/>
<rect x="231.95" y="216.26" width="4.5" height="4.5"/>
<rect x="236.37" y="190.45" width="4.5" height="4.5"/>
<rect x="237.44" y="217.93" width="4.5" height="4.5"/>
<rect x="234.23" y="192.02" width="4.5" height="4.5"/>
<rect x="240.7" y="188.78" width="4.5" height="4.5"/>
<rect x="240.55" y="150.85" width="4.5" height="4.5"/>
<rect x="231.84" y="220.59" width="4.5" height="4.5"/>
<rect x="238.04" y="255.02" width="4.5" height="4.5"/>
<rect x="234.19" y="180.95" width="4.5" height="4.5"/>
<rect x="239.65" y="165.75" width="4.5" height="4.5"/>
<rect x="235.9" y="209" width="4.5" height="4.5"/>
<rect x="239.15" y="160.55" width="4.5" height="4.5"/>
<rect x="241.38" y="185.24" width="4.5" height="4.5"/>
<rect x="231.58" y="178.69" width="4.5" height="4.5"/>
<rect x="240.21" y="207.28" width="4.5" height="4.5"/>
<rect x="231.35" y="155.45" width="4.5" height="4.5"/>
<rect x="235.72" y="188.21" width="4.5" height="4.5"/>
<rect x="232.72" y="174.55" width="4.5" height="4.5"/>
<rect x="235.05" y="168.05" width="4.5" height="4.5"/>
<rect x="236.91" y="196.68" width="4.5" height="4.5"/>
<rect x="232.86" y="231.72" width="4.5" height="4.5"/>
<rect x="232" y="199.37" width="4.5" height="4.5"/>
<rect x="241.41" y="208.71" width="4.5" height="4.5"/>
<rect x="240.65" y="139.15" width="4.5" height="4.5"/>
<rect x="236.75" y="303.35" width="4.5" height="4.5"/>
</g>
<g fill="#6cc242">
<rect x="292.05" y="153.15" width="4.5" height="4.5"/>
<rect x="286.75" y="162.05" width="4.5" height="4.5"/>
<rect x="285.05" y="172.35" width="4.5" height="4.5"/>
<rect x="290.85" y="171.15" width="4.5" height="4.5"/>
<rect x="285.75" y="176.05" width="4.5" height="4.5"/>
<rect x="291.35" y="178.35" width="4.5" height="4.5"/>
<rect x="283.85" y="181.65" width="4.5" height="4.5"/>
<rect x="285.75" y="183.05" width="4.5" height="4.5"/>
<rect x="292.75" y="183.55" width="4.5" height="4.5"/>
<rect x="283.85" y="200.35" width="4.5" height="4.5"/>
<rect x="292.05" y="213.45" width="4.5" height="4.5"/>
</g>
<rect x="45" y="22.2" width="282.9" height="292.1" fill="none" stroke="#444" stroke-width="1.55"/>
<line x1="397.7" y1="91.76" x2="401.7" y2="91.76" stroke="#333" stroke-width="1.2" />
<line x1="397.7" y1="122.58" x2="401.7" y2="122.58" stroke="#333" stroke-width="1.2" />
<line x1="397.7" y1="153.4" x2="401.7" y2="153.4" stroke="#333" stroke-width="1.2" />
<line x1="397.7" y1="184.22" x2="401.7" y2="184.22" stroke="#333" stroke-width="1.2" />
<line x1="397.7" y1="215.04" x2="401.7" y2="215.04" stroke="#333" stroke-width="1.2" />
<line x1="397.7" y1="245.86" x2="401.7" y2="245.86" stroke="#333" stroke-width="1.2" />
<line x1="397.7" y1="276.68" x2="401.7" y2="276.68" stroke="#333" stroke-width="1.2" />
<line x1="397.7" y1="307.5" x2="401.7" y2="307.5" stroke="#333" stroke-width="1.2" />
<text x="394.4" y="97.7" font-size="12.8" text-anchor="end" fill="#222" >2.0</text>
<text x="394.4" y="130.6" font-size="12.8" text-anchor="end" fill="#222" >1.0</text>
<text x="394.4" y="163.5" font-size="12.8" text-anchor="end" fill="#222" >0.0</text>
<text x="394.4" y="196.4" font-size="12.8" text-anchor="end" fill="#222" >-1.0</text>
<text x="394.4" y="229.3" font-size="12.8" text-anchor="end" fill="#222" >-2.0</text>
<text x="394.4" y="262.2" font-size="12.8" text-anchor="end" fill="#222" >-3.0</text>
<text x="394.4" y="295.1" font-size="12.8" text-anchor="end" fill="#222" >-4.0</text>
<text transform="translate(365.5,184.7) rotate(-90)" font-size="12.3" text-anchor="middle" fill="#222" textLength="131" lengthAdjust="spacingAndGlyphs">Log2 <tspan font-style="italic">NEAT1</tspan> expression</text>
<line x1="438.3" y1="314.4" x2="438.3" y2="319.4" stroke="#333" stroke-width="1.2" />
<text x="437.6" y="332.6" font-size="12.6" text-anchor="middle" fill="#222" >Luminal</text>
<text x="436.3" y="348" font-size="12.6" text-anchor="middle" fill="#222" >A</text>
<text x="436.3" y="359.8" font-size="10.3" text-anchor="middle" fill="#222" >(n=266)</text>
<line x1="490.65" y1="314.4" x2="490.65" y2="319.4" stroke="#333" stroke-width="1.2" />
<text x="489.95" y="332.6" font-size="12.6" text-anchor="middle" fill="#222" >Luminal</text>
<text x="488.65" y="348" font-size="12.6" text-anchor="middle" fill="#222" >B</text>
<text x="488.65" y="359.8" font-size="10.3" text-anchor="middle" fill="#222" >(n=108)</text>
<line x1="543" y1="314.4" x2="543" y2="319.4" stroke="#333" stroke-width="1.2" />
<text x="542.3" y="332.6" font-size="12.6" text-anchor="middle" fill="#222" >HER2-</text>
<text x="541" y="348" font-size="12.6" text-anchor="middle" fill="#222" >enriched</text>
<text x="541" y="359.8" font-size="10.3" text-anchor="middle" fill="#222" >(n=46)</text>
<line x1="595.35" y1="314.4" x2="595.35" y2="319.4" stroke="#333" stroke-width="1.2" />
<text x="594.65" y="332.6" font-size="12.6" text-anchor="middle" fill="#222" >Basal-</text>
<text x="593.35" y="348" font-size="12.6" text-anchor="middle" fill="#222" >like</text>
<text x="593.35" y="359.8" font-size="10.3" text-anchor="middle" fill="#222" >(n=95)</text>
<line x1="647.7" y1="314.4" x2="647.7" y2="319.4" stroke="#333" stroke-width="1.2" />
<text x="647" y="332.6" font-size="12.6" text-anchor="middle" fill="#222" >Normal-</text>
<text x="645.7" y="348" font-size="12.6" text-anchor="middle" fill="#222" >like</text>
<text x="645.7" y="359.8" font-size="10.3" text-anchor="middle" fill="#222" >(n=11)</text>
<text x="417.2" y="12.4" font-size="14" text-anchor="start" font-weight="bold" fill="#111" textLength="202.7" lengthAdjust="spacingAndGlyphs" >TCGA, probe ID A_32_P1037</text>
<text x="683.6" y="9.5" font-size="10.6" text-anchor="end" fill="#333" textLength="43.5" lengthAdjust="spacingAndGlyphs" >p=2.3e-11</text>
<text x="685.8" y="21.6" font-size="10.6" text-anchor="end" fill="#333" textLength="28.1" lengthAdjust="spacingAndGlyphs" >n=526</text>
<path d="M438.4 33.3V29.9H647.8V33.3" fill="none" stroke="#222" stroke-width="1.6"/>
<text x="543.1" y="28.6" font-size="8" text-anchor="middle" fill="#333" textLength="7" lengthAdjust="spacingAndGlyphs" >ns</text>
<path d="M438.4 40.5V37.1H595.45V40.5" fill="none" stroke="#222" stroke-width="1.6"/>
<path d="M506.68 33.5H511.58M507.9 31.38L510.35 35.62M507.9 35.62L510.35 31.38M511.88 33.5H516.78M513.1 31.38L515.55 35.62M513.1 35.62L515.55 31.38M517.08 33.5H521.98M518.3 31.38L520.75 35.62M518.3 35.62L520.75 31.38M522.27 33.5H527.18M523.5 31.38L525.95 35.62M523.5 35.62L525.95 31.38" stroke="#444" stroke-width="0.95" fill="none"/>
<path d="M490.75 47.1V43.7H595.45V47.1" fill="none" stroke="#222" stroke-width="1.6"/>
<path d="M532.85 40.1H537.75M534.08 37.98L536.53 42.22M534.08 42.22L536.53 37.98M538.05 40.1H542.95M539.28 37.98L541.73 42.22M539.28 42.22L541.73 37.98M543.25 40.1H548.15M544.48 37.98L546.93 42.22M544.48 42.22L546.93 37.98M548.45 40.1H553.35M549.68 37.98L552.13 42.22M549.68 42.22L552.13 37.98" stroke="#444" stroke-width="0.95" fill="none"/>
<path d="M490.75 53.8V50.4H647.8V53.8" fill="none" stroke="#222" stroke-width="1.6"/>
<text x="569.28" y="49.1" font-size="8" text-anchor="middle" fill="#333" textLength="7" lengthAdjust="spacingAndGlyphs" >ns</text>
<path d="M543.1 61V57.6H647.8V61" fill="none" stroke="#222" stroke-width="1.6"/>
<text x="595.45" y="56.3" font-size="8" text-anchor="middle" fill="#333" textLength="7" lengthAdjust="spacingAndGlyphs" >ns</text>
<path d="M438.4 68V64.6H543.1V68" fill="none" stroke="#222" stroke-width="1.6"/>
<path d="M480.5 61H485.4M481.72 58.88L484.18 63.12M481.72 63.12L484.18 58.88M485.7 61H490.6M486.92 58.88L489.38 63.12M486.92 63.12L489.38 58.88M490.9 61H495.8M492.12 58.88L494.57 63.12M492.12 63.12L494.57 58.88M496.1 61H501M497.32 58.88L499.78 63.12M497.32 63.12L499.78 58.88" stroke="#444" stroke-width="0.95" fill="none"/>
<path d="M490.75 74.3V70.9H543.1V74.3" fill="none" stroke="#222" stroke-width="1.6"/>
<path d="M506.68 67.3H511.58M507.9 65.18L510.35 69.42M507.9 69.42L510.35 65.18M511.88 67.3H516.78M513.1 65.18L515.55 69.42M513.1 69.42L515.55 65.18M517.08 67.3H521.98M518.3 65.18L520.75 69.42M518.3 69.42L520.75 65.18M522.27 67.3H527.18M523.5 65.18L525.95 69.42M523.5 69.42L525.95 65.18" stroke="#444" stroke-width="0.95" fill="none"/>
<path d="M595.45 74.3V70.9H647.8V74.3" fill="none" stroke="#222" stroke-width="1.6"/>
<path d="M619.17 67.3H624.08M620.4 65.18L622.85 69.42M620.4 69.42L622.85 65.18" stroke="#444" stroke-width="0.95" fill="none"/>
<path d="M438.4 81.3V77.9H490.75V81.3" fill="none" stroke="#222" stroke-width="1.6"/>
<text x="464.58" y="76.6" font-size="8" text-anchor="middle" fill="#333" textLength="7" lengthAdjust="spacingAndGlyphs" >ns</text>
<path d="M543.1 81.3V77.9H595.45V81.3" fill="none" stroke="#222" stroke-width="1.6"/>
<text x="569.28" y="76.6" font-size="8" text-anchor="middle" fill="#333" textLength="7" lengthAdjust="spacingAndGlyphs" >ns</text>
<line x1="438.5" y1="150" x2="438.5" y2="86.8" stroke="#222" stroke-width="1.1" stroke-dasharray="3 4"/>
<line x1="427.7" y1="86.5" x2="448.9" y2="86.5" stroke="#2a2a2a" stroke-width="1.3" />
<line x1="438.5" y1="195.5" x2="438.5" y2="245.1" stroke="#222" stroke-width="1.1" stroke-dasharray="3 4"/>
<line x1="427.7" y1="245.5" x2="448.9" y2="245.5" stroke="#2a2a2a" stroke-width="1.3" />
<rect x="417.5" y="150.5" width="42" height="45" fill="#fff" stroke="#111" stroke-width="1.15"/>
<line x1="417.5" y1="175.7" x2="459.5" y2="175.7" stroke="#000" stroke-width="2.9" />
<line x1="490.5" y1="157.3" x2="490.5" y2="119" stroke="#222" stroke-width="1.1" stroke-dasharray="3 4"/>
<line x1="480.05" y1="119.5" x2="501.25" y2="119.5" stroke="#2a2a2a" stroke-width="1.3" />
<line x1="490.5" y1="193.8" x2="490.5" y2="241.5" stroke="#222" stroke-width="1.1" stroke-dasharray="3 4"/>
<line x1="480.05" y1="241.5" x2="501.25" y2="241.5" stroke="#2a2a2a" stroke-width="1.3" />
<rect x="469.5" y="157.5" width="42" height="36" fill="#fff" stroke="#111" stroke-width="1.15"/>
<line x1="469.5" y1="174.4" x2="511.5" y2="174.4" stroke="#000" stroke-width="2.9" />
<line x1="543.5" y1="178.4" x2="543.5" y2="151.2" stroke="#222" stroke-width="1.1" stroke-dasharray="3 4"/>
<line x1="532.4" y1="151.5" x2="553.6" y2="151.5" stroke="#2a2a2a" stroke-width="1.3" />
<line x1="543.5" y1="210.3" x2="543.5" y2="246.7" stroke="#222" stroke-width="1.1" stroke-dasharray="3 4"/>
<line x1="532.4" y1="246.5" x2="553.6" y2="246.5" stroke="#2a2a2a" stroke-width="1.3" />
<rect x="521.5" y="178.5" width="43" height="32" fill="#fff" stroke="#111" stroke-width="1.15"/>
<line x1="521.5" y1="195.3" x2="564.5" y2="195.3" stroke="#000" stroke-width="2.9" />
<line x1="595.5" y1="184.2" x2="595.5" y2="154.1" stroke="#222" stroke-width="1.1" stroke-dasharray="3 4"/>
<line x1="584.75" y1="154.5" x2="605.95" y2="154.5" stroke="#2a2a2a" stroke-width="1.3" />
<line x1="595.5" y1="212.8" x2="595.5" y2="256.2" stroke="#222" stroke-width="1.1" stroke-dasharray="3 4"/>
<line x1="584.75" y1="256.5" x2="605.95" y2="256.5" stroke="#2a2a2a" stroke-width="1.3" />
<rect x="574.5" y="184.5" width="42" height="28" fill="#fff" stroke="#111" stroke-width="1.15"/>
<line x1="574.5" y1="195" x2="616.5" y2="195" stroke="#000" stroke-width="2.9" />
<line x1="647.5" y1="166.4" x2="647.5" y2="140.6" stroke="#222" stroke-width="1.1" stroke-dasharray="3 4"/>
<line x1="637.1" y1="140.5" x2="658.3" y2="140.5" stroke="#2a2a2a" stroke-width="1.3" />
<line x1="647.5" y1="195.3" x2="647.5" y2="202.5" stroke="#222" stroke-width="1.1" stroke-dasharray="3 4"/>
<line x1="637.1" y1="202.5" x2="658.3" y2="202.5" stroke="#2a2a2a" stroke-width="1.3" />
<rect x="626.5" y="166.5" width="42" height="29" fill="#fff" stroke="#111" stroke-width="1.15"/>
<line x1="626.5" y1="176.8" x2="668.5" y2="176.8" stroke="#000" stroke-width="2.9" />
<g fill="#2e2a82">
<rect x="436.57" y="133.82" width="4.5" height="4.5"/>
<rect x="435.41" y="193.26" width="4.5" height="4.5"/>
<rect x="431.05" y="236.75" width="4.5" height="4.5"/>
<rect x="438.77" y="225.24" width="4.5" height="4.5"/>
<rect x="435.2" y="194.48" width="4.5" height="4.5"/>
<rect x="436.25" y="238.75" width="4.5" height="4.5"/>
<rect x="433.27" y="192.29" width="4.5" height="4.5"/>
<rect x="432.57" y="218.89" width="4.5" height="4.5"/>
<rect x="439.58" y="156.65" width="4.5" height="4.5"/>
<rect x="439.71" y="138.98" width="4.5" height="4.5"/>
<rect x="438.32" y="146.82" width="4.5" height="4.5"/>
<rect x="439.14" y="201.15" width="4.5" height="4.5"/>
<rect x="437.92" y="197.29" width="4.5" height="4.5"/>
<rect x="432.53" y="175.53" width="4.5" height="4.5"/>
<rect x="438.21" y="222.98" width="4.5" height="4.5"/>
<rect x="437.89" y="146.19" width="4.5" height="4.5"/>
<rect x="435.7" y="170.03" width="4.5" height="4.5"/>
<rect x="435.25" y="203.48" width="4.5" height="4.5"/>
<rect x="438.67" y="141.62" width="4.5" height="4.5"/>
<rect x="432.33" y="195.73" width="4.5" height="4.5"/>
<rect x="433.32" y="161.96" width="4.5" height="4.5"/>
<rect x="436.65" y="84.45" width="4.5" height="4.5"/>
<rect x="431.17" y="195.6" width="4.5" height="4.5"/>
<rect x="437.81" y="173.33" width="4.5" height="4.5"/>
<rect x="438.6" y="155.96" width="4.5" height="4.5"/>
<rect x="439.97" y="152.41" width="4.5" height="4.5"/>
<rect x="437.58" y="178.82" width="4.5" height="4.5"/>
<rect x="438.01" y="124.38" width="4.5" height="4.5"/>
<rect x="434.68" y="185.83" width="4.5" height="4.5"/>
<rect x="431.5" y="148.59" width="4.5" height="4.5"/>
<rect x="440.4" y="161.54" width="4.5" height="4.5"/>
<rect x="436.64" y="133.2" width="4.5" height="4.5"/>
<rect x="431.35" y="110.65" width="4.5" height="4.5"/>
<rect x="440.76" y="191.69" width="4.5" height="4.5"/>
<rect x="433.37" y="164.85" width="4.5" height="4.5"/>
<rect x="430.85" y="118.15" width="4.5" height="4.5"/>
<rect x="440.42" y="176.65" width="4.5" height="4.5"/>
<rect x="436.86" y="210.43" width="4.5" height="4.5"/>
<rect x="434.24" y="178.88" width="4.5" height="4.5"/>
<rect x="432.49" y="211.13" width="4.5" height="4.5"/>
<rect x="437.41" y="202.6" width="4.5" height="4.5"/>
<rect x="436.34" y="135.52" width="4.5" height="4.5"/>
<rect x="440.05" y="163.46" width="4.5" height="4.5"/>
<rect x="435.6" y="172.5" width="4.5" height="4.5"/>
<rect x="436.76" y="205.85" width="4.5" height="4.5"/>
<rect x="436.31" y="152.72" width="4.5" height="4.5"/>
<rect x="434.44" y="166.52" width="4.5" height="4.5"/>
<rect x="438.43" y="182.21" width="4.5" height="4.5"/>
<rect x="434.02" y="157.49" width="4.5" height="4.5"/>
<rect x="438.97" y="182.81" width="4.5" height="4.5"/>
<rect x="439.62" y="178.06" width="4.5" height="4.5"/>
<rect x="436.82" y="160.64" width="4.5" height="4.5"/>
<rect x="436.14" y="214.08" width="4.5" height="4.5"/>
<rect x="433.91" y="123.55" width="4.5" height="4.5"/>
<rect x="440.21" y="122.45" width="4.5" height="4.5"/>
<rect x="433" y="193.08" width="4.5" height="4.5"/>
<rect x="432.48" y="168.54" width="4.5" height="4.5"/>
<rect x="440.67" y="208.81" width="4.5" height="4.5"/>
<rect x="435.59" y="140.35" width="4.5" height="4.5"/>
<rect x="440.49" y="142.92" width="4.5" height="4.5"/>
<rect x="432.98" y="191.43" width="4.5" height="4.5"/>
<rect x="440.43" y="150.56" width="4.5" height="4.5"/>
<rect x="431.92" y="133.42" width="4.5" height="4.5"/>
<rect x="438.06" y="204.13" width="4.5" height="4.5"/>
<rect x="440.15" y="126.8" width="4.5" height="4.5"/>
<rect x="436.21" y="145.47" width="4.5" height="4.5"/>
<rect x="436.31" y="227.86" width="4.5" height="4.5"/>
<rect x="433.31" y="214.99" width="4.5" height="4.5"/>
<rect x="432.24" y="132.3" width="4.5" height="4.5"/>
<rect x="437.49" y="151.39" width="4.5" height="4.5"/>
<rect x="436.92" y="163.82" width="4.5" height="4.5"/>
<rect x="431.62" y="180.54" width="4.5" height="4.5"/>
<rect x="431.71" y="186.6" width="4.5" height="4.5"/>
<rect x="431.81" y="139.75" width="4.5" height="4.5"/>
<rect x="436.55" y="173.85" width="4.5" height="4.5"/>
<rect x="440.79" y="217.27" width="4.5" height="4.5"/>
<rect x="439.29" y="222.07" width="4.5" height="4.5"/>
<rect x="433.8" y="207.63" width="4.5" height="4.5"/>
<rect x="435.2" y="211.97" width="4.5" height="4.5"/>
<rect x="433.85" y="238.25" width="4.5" height="4.5"/>
<rect x="436.36" y="158.15" width="4.5" height="4.5"/>
<rect x="433.46" y="172.77" width="4.5" height="4.5"/>
<rect x="440.76" y="146.67" width="4.5" height="4.5"/>
<rect x="433.44" y="165.56" width="4.5" height="4.5"/>
<rect x="435.17" y="169.53" width="4.5" height="4.5"/>
<rect x="439.81" y="185.3" width="4.5" height="4.5"/>
<rect x="434.47" y="221.36" width="4.5" height="4.5"/>
<rect x="439.84" y="134.56" width="4.5" height="4.5"/>
<rect x="440.64" y="229.81" width="4.5" height="4.5"/>
<rect x="437.65" y="177.27" width="4.5" height="4.5"/>
<rect x="440.25" y="145.2" width="4.5" height="4.5"/>
<rect x="436.22" y="162.86" width="4.5" height="4.5"/>
<rect x="436.35" y="144.6" width="4.5" height="4.5"/>
<rect x="440.63" y="138.14" width="4.5" height="4.5"/>
<rect x="433.25" y="175.83" width="4.5" height="4.5"/>
<rect x="431.16" y="121.52" width="4.5" height="4.5"/>
<rect x="435.51" y="181.88" width="4.5" height="4.5"/>
<rect x="436.34" y="220.39" width="4.5" height="4.5"/>
<rect x="435.44" y="171.21" width="4.5" height="4.5"/>
<rect x="434.36" y="216.64" width="4.5" height="4.5"/>
<rect x="435.52" y="174.84" width="4.5" height="4.5"/>
<rect x="432.76" y="130.13" width="4.5" height="4.5"/>
<rect x="438.83" y="153.13" width="4.5" height="4.5"/>
<rect x="437.2" y="196.96" width="4.5" height="4.5"/>
<rect x="431.46" y="160.17" width="4.5" height="4.5"/>
<rect x="433.64" y="224.54" width="4.5" height="4.5"/>
<rect x="439.62" y="200.46" width="4.5" height="4.5"/>
<rect x="431.89" y="184.55" width="4.5" height="4.5"/>
<rect x="439.78" y="195.1" width="4.5" height="4.5"/>
<rect x="439.79" y="193.72" width="4.5" height="4.5"/>
<rect x="435.02" y="146" width="4.5" height="4.5"/>
<rect x="437.97" y="191.96" width="4.5" height="4.5"/>
<rect x="431.48" y="148.16" width="4.5" height="4.5"/>
<rect x="433.9" y="209.63" width="4.5" height="4.5"/>
<rect x="440.24" y="162.27" width="4.5" height="4.5"/>
<rect x="435.5" y="193.83" width="4.5" height="4.5"/>
<rect x="437.84" y="176.36" width="4.5" height="4.5"/>
<rect x="433.04" y="225.62" width="4.5" height="4.5"/>
<rect x="437.9" y="186.3" width="4.5" height="4.5"/>
<rect x="440.91" y="147.74" width="4.5" height="4.5"/>
<rect x="436.78" y="124.13" width="4.5" height="4.5"/>
<rect x="437.94" y="180.79" width="4.5" height="4.5"/>
<rect x="436.26" y="227.09" width="4.5" height="4.5"/>
<rect x="436.98" y="151.98" width="4.5" height="4.5"/>
<rect x="432.41" y="142.44" width="4.5" height="4.5"/>
<rect x="433.79" y="168.99" width="4.5" height="4.5"/>
<rect x="440.56" y="170.45" width="4.5" height="4.5"/>
<rect x="434.1" y="155.53" width="4.5" height="4.5"/>
<rect x="439.01" y="165.19" width="4.5" height="4.5"/>
<rect x="439.89" y="181.26" width="4.5" height="4.5"/>
<rect x="432.77" y="198.85" width="4.5" height="4.5"/>
<rect x="440.85" y="150.24" width="4.5" height="4.5"/>
<rect x="434.05" y="103.75" width="4.5" height="4.5"/>
<rect x="431.46" y="172.17" width="4.5" height="4.5"/>
<rect x="434.38" y="155.56" width="4.5" height="4.5"/>
<rect x="431.96" y="149.44" width="4.5" height="4.5"/>
<rect x="431.69" y="141.91" width="4.5" height="4.5"/>
<rect x="432.24" y="183.4" width="4.5" height="4.5"/>
<rect x="435.28" y="188.64" width="4.5" height="4.5"/>
<rect x="439.64" y="144.84" width="4.5" height="4.5"/>
<rect x="433.74" y="170.85" width="4.5" height="4.5"/>
<rect x="438.18" y="159.58" width="4.5" height="4.5"/>
<rect x="432.84" y="182.71" width="4.5" height="4.5"/>
<rect x="434.51" y="187.69" width="4.5" height="4.5"/>
<rect x="435.69" y="188.15" width="4.5" height="4.5"/>
<rect x="434.51" y="184.24" width="4.5" height="4.5"/>
<rect x="437.42" y="190.45" width="4.5" height="4.5"/>
<rect x="437.68" y="192.51" width="4.5" height="4.5"/>
<rect x="438.1" y="187.54" width="4.5" height="4.5"/>
<rect x="440.98" y="171.87" width="4.5" height="4.5"/>
<rect x="434.27" y="128.9" width="4.5" height="4.5"/>
<rect x="435.74" y="154.8" width="4.5" height="4.5"/>
<rect x="437.7" y="189.15" width="4.5" height="4.5"/>
<rect x="436.01" y="201.71" width="4.5" height="4.5"/>
<rect x="440.27" y="169.56" width="4.5" height="4.5"/>
<rect x="437.43" y="167.51" width="4.5" height="4.5"/>
<rect x="437.82" y="174.45" width="4.5" height="4.5"/>
<rect x="437.74" y="188.33" width="4.5" height="4.5"/>
<rect x="431.43" y="163.15" width="4.5" height="4.5"/>
<rect x="437.88" y="184.64" width="4.5" height="4.5"/>
<rect x="432.56" y="154.68" width="4.5" height="4.5"/>
<rect x="435.2" y="223.66" width="4.5" height="4.5"/>
<rect x="431.61" y="149.76" width="4.5" height="4.5"/>
<rect x="434.69" y="174.14" width="4.5" height="4.5"/>
<rect x="431.8" y="129.57" width="4.5" height="4.5"/>
<rect x="435.89" y="200.91" width="4.5" height="4.5"/>
<rect x="436.4" y="176.88" width="4.5" height="4.5"/>
<rect x="436.46" y="141.17" width="4.5" height="4.5"/>
<rect x="439.28" y="189.62" width="4.5" height="4.5"/>
<rect x="438.78" y="125.87" width="4.5" height="4.5"/>
<rect x="439.48" y="208.2" width="4.5" height="4.5"/>
<rect x="439.06" y="205.33" width="4.5" height="4.5"/>
<rect x="434.47" y="175.21" width="4.5" height="4.5"/>
<rect x="435.22" y="165.77" width="4.5" height="4.5"/>
<rect x="435.73" y="207.32" width="4.5" height="4.5"/>
<rect x="439.63" y="168.1" width="4.5" height="4.5"/>
<rect x="431.63" y="206.82" width="4.5" height="4.5"/>
<rect x="440.29" y="192.66" width="4.5" height="4.5"/>
<rect x="431.16" y="143.93" width="4.5" height="4.5"/>
<rect x="439.35" y="139.91" width="4.5" height="4.5"/>
<rect x="433.15" y="94.95" width="4.5" height="4.5"/>
<rect x="431.29" y="215.8" width="4.5" height="4.5"/>
<rect x="435.06" y="175.88" width="4.5" height="4.5"/>
<rect x="436.05" y="132.13" width="4.5" height="4.5"/>
<rect x="436.74" y="177.81" width="4.5" height="4.5"/>
<rect x="439.68" y="126.49" width="4.5" height="4.5"/>
<rect x="435.44" y="154.31" width="4.5" height="4.5"/>
<rect x="440.15" y="243.05" width="4.5" height="4.5"/>
<rect x="439.75" y="185.06" width="4.5" height="4.5"/>
<rect x="433.26" y="219.22" width="4.5" height="4.5"/>
<rect x="439.81" y="183.67" width="4.5" height="4.5"/>
<rect x="435.3" y="131.03" width="4.5" height="4.5"/>
<rect x="439.89" y="153.62" width="4.5" height="4.5"/>
<rect x="438.25" y="114.85" width="4.5" height="4.5"/>
<rect x="440.22" y="147.37" width="4.5" height="4.5"/>
<rect x="433.06" y="199.85" width="4.5" height="4.5"/>
<rect x="436.51" y="173.71" width="4.5" height="4.5"/>
<rect x="434.55" y="125.14" width="4.5" height="4.5"/>
<rect x="433.92" y="135.08" width="4.5" height="4.5"/>
<rect x="431.73" y="181.15" width="4.5" height="4.5"/>
<rect x="438.68" y="137.53" width="4.5" height="4.5"/>
<rect x="438.52" y="213.53" width="4.5" height="4.5"/>
<rect x="436.89" y="136.53" width="4.5" height="4.5"/>
<rect x="438.61" y="153.3" width="4.5" height="4.5"/>
<rect x="439.3" y="216.05" width="4.5" height="4.5"/>
<rect x="432.65" y="105.55" width="4.5" height="4.5"/>
<rect x="439.84" y="202.87" width="4.5" height="4.5"/>
<rect x="431.65" y="158.6" width="4.5" height="4.5"/>
<rect x="438.75" y="191.12" width="4.5" height="4.5"/>
<rect x="431.08" y="148.12" width="4.5" height="4.5"/>
<rect x="435.8" y="185.55" width="4.5" height="4.5"/>
<rect x="440.8" y="122.58" width="4.5" height="4.5"/>
<rect x="436.69" y="187.25" width="4.5" height="4.5"/>
<rect x="434.76" y="149.05" width="4.5" height="4.5"/>
<rect x="433.15" y="194.42" width="4.5" height="4.5"/>
<rect x="432.52" y="166.16" width="4.5" height="4.5"/>
<rect x="437.28" y="143.14" width="4.5" height="4.5"/>
<rect x="440.15" y="96.35" width="4.5" height="4.5"/>
<rect x="435.11" y="196.35" width="4.5" height="4.5"/>
<rect x="434.7" y="198.99" width="4.5" height="4.5"/>
<rect x="440.36" y="161.25" width="4.5" height="4.5"/>
<rect x="433.09" y="179.67" width="4.5" height="4.5"/>
<rect x="436.63" y="156.94" width="4.5" height="4.5"/>
<rect x="438.54" y="228.68" width="4.5" height="4.5"/>
<rect x="432.34" y="160.41" width="4.5" height="4.5"/>
<rect x="433.35" y="128.25" width="4.5" height="4.5"/>
<rect x="431.4" y="186.9" width="4.5" height="4.5"/>
<rect x="434.74" y="150.99" width="4.5" height="4.5"/>
<rect x="431.17" y="178.28" width="4.5" height="4.5"/>
<rect x="438.79" y="183.14" width="4.5" height="4.5"/>
<rect x="433.44" y="177.41" width="4.5" height="4.5"/>
<rect x="439.15" y="110.25" width="4.5" height="4.5"/>
<rect x="437.43" y="204.48" width="4.5" height="4.5"/>
<rect x="434.09" y="189.82" width="4.5" height="4.5"/>
<rect x="439.28" y="198.39" width="4.5" height="4.5"/>
<rect x="436.85" y="220.8" width="4.5" height="4.5"/>
<rect x="439.15" y="102.35" width="4.5" height="4.5"/>
<rect x="431.6" y="136.95" width="4.5" height="4.5"/>
<rect x="438.28" y="157.39" width="4.5" height="4.5"/>
<rect x="439.3" y="180.27" width="4.5" height="4.5"/>
<rect x="435.94" y="226.3" width="4.5" height="4.5"/>
<rect x="435.77" y="190.74" width="4.5" height="4.5"/>
<rect x="435.08" y="158.66" width="4.5" height="4.5"/>
<rect x="435" y="188.79" width="4.5" height="4.5"/>
<rect x="438.19" y="138.46" width="4.5" height="4.5"/>
<rect x="432.64" y="127.27" width="4.5" height="4.5"/>
<rect x="433.91" y="143.53" width="4.5" height="4.5"/>
<rect x="431.86" y="218.44" width="4.5" height="4.5"/>
<rect x="432.63" y="164.42" width="4.5" height="4.5"/>
<rect x="440.86" y="179.42" width="4.5" height="4.5"/>
<rect x="432.46" y="131.5" width="4.5" height="4.5"/>
<rect x="437.74" y="129.32" width="4.5" height="4.5"/>
<rect x="433.88" y="212.7" width="4.5" height="4.5"/>
<rect x="440" y="197.57" width="4.5" height="4.5"/>
<rect x="433.13" y="190.13" width="4.5" height="4.5"/>
<rect x="439.65" y="120.45" width="4.5" height="4.5"/>
<rect x="437.07" y="159.05" width="4.5" height="4.5"/>
<rect x="440.42" y="180.02" width="4.5" height="4.5"/>
<rect x="437.97" y="167.97" width="4.5" height="4.5"/>
<rect x="433.6" y="136.39" width="4.5" height="4.5"/>
<rect x="437.93" y="147.28" width="4.5" height="4.5"/>
<rect x="440.82" y="166.95" width="4.5" height="4.5"/>
<rect x="432.44" y="181.58" width="4.5" height="4.5"/>
<rect x="431.33" y="211.65" width="4.5" height="4.5"/>
<rect x="434.25" y="270.75" width="4.5" height="4.5"/>
<rect x="430.25" y="303.95" width="4.5" height="4.5"/>
</g>
<g fill="#a6d5eb">
<rect x="491.69" y="165.31" width="4.5" height="4.5"/>
<rect x="491.78" y="156.73" width="4.5" height="4.5"/>
<rect x="483.49" y="152.57" width="4.5" height="4.5"/>
<rect x="489.7" y="153.5" width="4.5" height="4.5"/>
<rect x="492.73" y="192.71" width="4.5" height="4.5"/>
<rect x="483.98" y="177.11" width="4.5" height="4.5"/>
<rect x="491.78" y="164.39" width="4.5" height="4.5"/>
<rect x="489.29" y="167.95" width="4.5" height="4.5"/>
<rect x="489.56" y="172.68" width="4.5" height="4.5"/>
<rect x="489.63" y="163.21" width="4.5" height="4.5"/>
<rect x="493.22" y="149.9" width="4.5" height="4.5"/>
<rect x="486.75" y="150.96" width="4.5" height="4.5"/>
<rect x="492.93" y="154.36" width="4.5" height="4.5"/>
<rect x="493.37" y="177.76" width="4.5" height="4.5"/>
<rect x="483.7" y="202.99" width="4.5" height="4.5"/>
<rect x="489.33" y="186.67" width="4.5" height="4.5"/>
<rect x="493.18" y="183.25" width="4.5" height="4.5"/>
<rect x="486.93" y="139.74" width="4.5" height="4.5"/>
<rect x="491.94" y="179.38" width="4.5" height="4.5"/>
<rect x="485.33" y="153.82" width="4.5" height="4.5"/>
<rect x="492" y="184.55" width="4.5" height="4.5"/>
<rect x="487.95" y="239.55" width="4.5" height="4.5"/>
<rect x="488.95" y="117.45" width="4.5" height="4.5"/>
<rect x="485.67" y="149.85" width="4.5" height="4.5"/>
<rect x="487.95" y="215.15" width="4.5" height="4.5"/>
<rect x="491.18" y="165.89" width="4.5" height="4.5"/>
<rect x="491.81" y="141.97" width="4.5" height="4.5"/>
<rect x="485.75" y="210.85" width="4.5" height="4.5"/>
<rect x="487.44" y="172" width="4.5" height="4.5"/>
<rect x="484.65" y="138.4" width="4.5" height="4.5"/>
<rect x="487.95" y="125.95" width="4.5" height="4.5"/>
<rect x="493.32" y="189.17" width="4.5" height="4.5"/>
<rect x="487.86" y="197.23" width="4.5" height="4.5"/>
<rect x="488.55" y="144.97" width="4.5" height="4.5"/>
<rect x="491.23" y="160.13" width="4.5" height="4.5"/>
<rect x="487.15" y="178.63" width="4.5" height="4.5"/>
<rect x="487.04" y="140.65" width="4.5" height="4.5"/>
<rect x="488.48" y="173.69" width="4.5" height="4.5"/>
<rect x="485.62" y="159.36" width="4.5" height="4.5"/>
<rect x="483.65" y="121.75" width="4.5" height="4.5"/>
<rect x="484.94" y="175.55" width="4.5" height="4.5"/>
<rect x="489.07" y="176.48" width="4.5" height="4.5"/>
<rect x="491.99" y="204.57" width="4.5" height="4.5"/>
<rect x="486.01" y="154.89" width="4.5" height="4.5"/>
<rect x="485.6" y="192.2" width="4.5" height="4.5"/>
<rect x="486.12" y="155.5" width="4.5" height="4.5"/>
<rect x="490.31" y="164.08" width="4.5" height="4.5"/>
<rect x="487.15" y="181.63" width="4.5" height="4.5"/>
<rect x="493.04" y="179.73" width="4.5" height="4.5"/>
<rect x="484.45" y="202.3" width="4.5" height="4.5"/>
<rect x="487.53" y="192.58" width="4.5" height="4.5"/>
<rect x="484.91" y="186.53" width="4.5" height="4.5"/>
<rect x="492.15" y="132.35" width="4.5" height="4.5"/>
<rect x="490.38" y="198.23" width="4.5" height="4.5"/>
<rect x="487.33" y="174.26" width="4.5" height="4.5"/>
<rect x="483.98" y="168.86" width="4.5" height="4.5"/>
<rect x="491.49" y="191.19" width="4.5" height="4.5"/>
<rect x="484.57" y="171.26" width="4.5" height="4.5"/>
<rect x="485.74" y="159.76" width="4.5" height="4.5"/>
<rect x="487.78" y="166.94" width="4.5" height="4.5"/>
<rect x="484.72" y="187.47" width="4.5" height="4.5"/>
<rect x="487.19" y="194.51" width="4.5" height="4.5"/>
<rect x="487.27" y="200.29" width="4.5" height="4.5"/>
<rect x="488.18" y="143.21" width="4.5" height="4.5"/>
<rect x="493.06" y="168.34" width="4.5" height="4.5"/>
<rect x="489.16" y="145.58" width="4.5" height="4.5"/>
<rect x="491.41" y="201.54" width="4.5" height="4.5"/>
<rect x="489.49" y="158.47" width="4.5" height="4.5"/>
<rect x="492.19" y="157.31" width="4.5" height="4.5"/>
<rect x="488.33" y="146.54" width="4.5" height="4.5"/>
<rect x="489.52" y="199.53" width="4.5" height="4.5"/>
<rect x="486.23" y="193.75" width="4.5" height="4.5"/>
<rect x="493.29" y="160.96" width="4.5" height="4.5"/>
<rect x="492.42" y="143.88" width="4.5" height="4.5"/>
<rect x="483.75" y="166.29" width="4.5" height="4.5"/>
<rect x="487.95" y="196.66" width="4.5" height="4.5"/>
<rect x="486.8" y="148.54" width="4.5" height="4.5"/>
<rect x="486.15" y="190.78" width="4.5" height="4.5"/>
<rect x="484.75" y="116.45" width="4.5" height="4.5"/>
<rect x="489.78" y="191.58" width="4.5" height="4.5"/>
<rect x="491.15" y="210.85" width="4.5" height="4.5"/>
<rect x="492.84" y="189.8" width="4.5" height="4.5"/>
<rect x="491.38" y="151.91" width="4.5" height="4.5"/>
<rect x="490.58" y="188.32" width="4.5" height="4.5"/>
<rect x="486.65" y="170.3" width="4.5" height="4.5"/>
<rect x="487.01" y="199.32" width="4.5" height="4.5"/>
<rect x="485.06" y="175.12" width="4.5" height="4.5"/>
<rect x="487.91" y="195.88" width="4.5" height="4.5"/>
<rect x="484.55" y="162.13" width="4.5" height="4.5"/>
<rect x="491.44" y="148.02" width="4.5" height="4.5"/>
<rect x="485.46" y="163.1" width="4.5" height="4.5"/>
<rect x="483.84" y="182.3" width="4.5" height="4.5"/>
<rect x="488.59" y="182.87" width="4.5" height="4.5"/>
<rect x="485" y="141.12" width="4.5" height="4.5"/>
<rect x="492.76" y="155.89" width="4.5" height="4.5"/>
<rect x="483.47" y="169.85" width="4.5" height="4.5"/>
<rect x="493.12" y="161.79" width="4.5" height="4.5"/>
<rect x="492.04" y="180.53" width="4.5" height="4.5"/>
<rect x="488.21" y="193.27" width="4.5" height="4.5"/>
<rect x="487.59" y="184.11" width="4.5" height="4.5"/>
<rect x="484.37" y="171.17" width="4.5" height="4.5"/>
<rect x="489.02" y="185.34" width="4.5" height="4.5"/>
<rect x="493.07" y="195.21" width="4.5" height="4.5"/>
<rect x="487.97" y="158.07" width="4.5" height="4.5"/>
<rect x="484.35" y="197.94" width="4.5" height="4.5"/>
<rect x="491.15" y="221.55" width="4.5" height="4.5"/>
<rect x="490.83" y="203.96" width="4.5" height="4.5"/>
<rect x="491.25" y="97.95" width="4.5" height="4.5"/>
</g>
<g fill="#e76aaa">
<rect x="537.95" y="212.45" width="4.5" height="4.5"/>
<rect x="540.75" y="214.55" width="4.5" height="4.5"/>
<rect x="544.35" y="181.75" width="4.5" height="4.5"/>
<rect x="540.75" y="167.95" width="4.5" height="4.5"/>
<rect x="537.64" y="199.38" width="4.5" height="4.5"/>
<rect x="542.36" y="196.03" width="4.5" height="4.5"/>
<rect x="535.85" y="176.45" width="4.5" height="4.5"/>
<rect x="540.58" y="204.96" width="4.5" height="4.5"/>
<rect x="536.65" y="185.09" width="4.5" height="4.5"/>
<rect x="541.53" y="189.12" width="4.5" height="4.5"/>
<rect x="538.99" y="184.21" width="4.5" height="4.5"/>
<rect x="542.25" y="98.45" width="4.5" height="4.5"/>
<rect x="535.25" y="155.65" width="4.5" height="4.5"/>
<rect x="539.2" y="173.43" width="4.5" height="4.5"/>
<rect x="536.95" y="180.65" width="4.5" height="4.5"/>
<rect x="537.59" y="172.87" width="4.5" height="4.5"/>
<rect x="537.28" y="197.18" width="4.5" height="4.5"/>
<rect x="543.25" y="244.25" width="4.5" height="4.5"/>
<rect x="544.52" y="177.84" width="4.5" height="4.5"/>
<rect x="538.91" y="195.42" width="4.5" height="4.5"/>
<rect x="536.95" y="195.55" width="4.5" height="4.5"/>
<rect x="536.7" y="185.66" width="4.5" height="4.5"/>
<rect x="543.25" y="202.95" width="4.5" height="4.5"/>
<rect x="541.15" y="209.25" width="4.5" height="4.5"/>
<rect x="542.25" y="177.45" width="4.5" height="4.5"/>
<rect x="539.05" y="184.95" width="4.5" height="4.5"/>
<rect x="542.25" y="164.75" width="4.5" height="4.5"/>
<rect x="544.77" y="175.36" width="4.5" height="4.5"/>
<rect x="543.25" y="187.05" width="4.5" height="4.5"/>
<rect x="539.45" y="229.45" width="4.5" height="4.5"/>
<rect x="539.45" y="149.55" width="4.5" height="4.5"/>
<rect x="535.25" y="219.25" width="4.5" height="4.5"/>
<rect x="536.95" y="207.15" width="4.5" height="4.5"/>
<rect x="542.25" y="197.65" width="4.5" height="4.5"/>
<rect x="541.15" y="173.25" width="4.5" height="4.5"/>
<rect x="544.95" y="154.15" width="4.5" height="4.5"/>
<rect x="544.35" y="160.95" width="4.5" height="4.5"/>
<rect x="539.05" y="223.05" width="4.5" height="4.5"/>
<rect x="540.15" y="192.35" width="4.5" height="4.5"/>
<rect x="539.58" y="173.41" width="4.5" height="4.5"/>
<rect x="537.95" y="200.85" width="4.5" height="4.5"/>
<rect x="539.13" y="192.82" width="4.5" height="4.5"/>
<rect x="538.08" y="176.24" width="4.5" height="4.5"/>
<rect x="535.85" y="190.25" width="4.5" height="4.5"/>
<rect x="539.05" y="171.15" width="4.5" height="4.5"/>
</g>
<g fill="#e02c24">
<rect x="597.94" y="211.57" width="4.5" height="4.5"/>
<rect x="596.64" y="216.68" width="4.5" height="4.5"/>
<rect x="595.29" y="196.92" width="4.5" height="4.5"/>
<rect x="588.36" y="202.48" width="4.5" height="4.5"/>
<rect x="595.86" y="179.8" width="4.5" height="4.5"/>
<rect x="590" y="167.91" width="4.5" height="4.5"/>
<rect x="591.26" y="239.06" width="4.5" height="4.5"/>
<rect x="590.18" y="190.12" width="4.5" height="4.5"/>
<rect x="594.74" y="207.01" width="4.5" height="4.5"/>
<rect x="597.9" y="170.13" width="4.5" height="4.5"/>
<rect x="595.63" y="242.87" width="4.5" height="4.5"/>
<rect x="595.3" y="181.62" width="4.5" height="4.5"/>
<rect x="596.65" y="172.96" width="4.5" height="4.5"/>
<rect x="590.87" y="189.05" width="4.5" height="4.5"/>
<rect x="589.22" y="204.02" width="4.5" height="4.5"/>
<rect x="595.29" y="162.63" width="4.5" height="4.5"/>
<rect x="597.74" y="183.5" width="4.5" height="4.5"/>
<rect x="590.8" y="199.65" width="4.5" height="4.5"/>
<rect x="592.8" y="181.51" width="4.5" height="4.5"/>
<rect x="593.48" y="175.52" width="4.5" height="4.5"/>
<rect x="596.06" y="209.57" width="4.5" height="4.5"/>
<rect x="591.4" y="214.03" width="4.5" height="4.5"/>
<rect x="592.95" y="220.84" width="4.5" height="4.5"/>
<rect x="594.48" y="198.11" width="4.5" height="4.5"/>
<rect x="590.78" y="171.49" width="4.5" height="4.5"/>
<rect x="589.18" y="191.73" width="4.5" height="4.5"/>
<rect x="595.22" y="194.67" width="4.5" height="4.5"/>
<rect x="594.1" y="191.33" width="4.5" height="4.5"/>
<rect x="590.72" y="182.35" width="4.5" height="4.5"/>
<rect x="597" y="230" width="4.5" height="4.5"/>
<rect x="591.61" y="184.54" width="4.5" height="4.5"/>
<rect x="597.47" y="194.04" width="4.5" height="4.5"/>
<rect x="596.03" y="207.71" width="4.5" height="4.5"/>
<rect x="595.75" y="176.07" width="4.5" height="4.5"/>
<rect x="591.5" y="188.27" width="4.5" height="4.5"/>
<rect x="597.08" y="182.53" width="4.5" height="4.5"/>
<rect x="591.86" y="211.14" width="4.5" height="4.5"/>
<rect x="592.55" y="195.82" width="4.5" height="4.5"/>
<rect x="591" y="153.66" width="4.5" height="4.5"/>
<rect x="593.87" y="200.67" width="4.5" height="4.5"/>
<rect x="597" y="191.93" width="4.5" height="4.5"/>
<rect x="591.36" y="231.32" width="4.5" height="4.5"/>
<rect x="590.99" y="181.25" width="4.5" height="4.5"/>
<rect x="591.34" y="204.45" width="4.5" height="4.5"/>
<rect x="596.69" y="183.33" width="4.5" height="4.5"/>
<rect x="588.47" y="181.91" width="4.5" height="4.5"/>
<rect x="590.55" y="252.65" width="4.5" height="4.5"/>
<rect x="590.05" y="190.53" width="4.5" height="4.5"/>
<rect x="592.11" y="206.14" width="4.5" height="4.5"/>
<rect x="596.78" y="205.88" width="4.5" height="4.5"/>
<rect x="592.82" y="198.85" width="4.5" height="4.5"/>
<rect x="588.76" y="195.98" width="4.5" height="4.5"/>
<rect x="591.93" y="210.69" width="4.5" height="4.5"/>
<rect x="594.48" y="178.54" width="4.5" height="4.5"/>
<rect x="589.69" y="186.39" width="4.5" height="4.5"/>
<rect x="597.82" y="210.58" width="4.5" height="4.5"/>
<rect x="596.62" y="215.14" width="4.5" height="4.5"/>
<rect x="592.3" y="177.58" width="4.5" height="4.5"/>
<rect x="595.59" y="218.11" width="4.5" height="4.5"/>
<rect x="596.78" y="210.87" width="4.5" height="4.5"/>
<rect x="593.11" y="151.85" width="4.5" height="4.5"/>
<rect x="591.46" y="184.8" width="4.5" height="4.5"/>
<rect x="589.4" y="174.38" width="4.5" height="4.5"/>
<rect x="597.21" y="192.43" width="4.5" height="4.5"/>
<rect x="596.91" y="221.27" width="4.5" height="4.5"/>
<rect x="588.87" y="202.86" width="4.5" height="4.5"/>
<rect x="590.49" y="212.64" width="4.5" height="4.5"/>
<rect x="589.03" y="180.41" width="4.5" height="4.5"/>
<rect x="591.66" y="209.98" width="4.5" height="4.5"/>
<rect x="598.05" y="227.2" width="4.5" height="4.5"/>
<rect x="593.26" y="187.84" width="4.5" height="4.5"/>
<rect x="591.32" y="186.92" width="4.5" height="4.5"/>
<rect x="594.23" y="253.95" width="4.5" height="4.5"/>
<rect x="590.65" y="233.55" width="4.5" height="4.5"/>
<rect x="595.99" y="162.09" width="4.5" height="4.5"/>
<rect x="597.16" y="199.96" width="4.5" height="4.5"/>
<rect x="594.86" y="181.93" width="4.5" height="4.5"/>
<rect x="589.04" y="159.29" width="4.5" height="4.5"/>
<rect x="590.54" y="188.96" width="4.5" height="4.5"/>
<rect x="593.59" y="185.33" width="4.5" height="4.5"/>
<rect x="596.01" y="208.39" width="4.5" height="4.5"/>
<rect x="592.16" y="225.02" width="4.5" height="4.5"/>
<rect x="597.91" y="189.65" width="4.5" height="4.5"/>
<rect x="593.26" y="185.93" width="4.5" height="4.5"/>
<rect x="597.93" y="247.61" width="4.5" height="4.5"/>
<rect x="597.41" y="155.33" width="4.5" height="4.5"/>
<rect x="595.69" y="179.49" width="4.5" height="4.5"/>
<rect x="592.99" y="193.11" width="4.5" height="4.5"/>
<rect x="595.34" y="184.3" width="4.5" height="4.5"/>
<rect x="591.64" y="187.16" width="4.5" height="4.5"/>
<rect x="589.03" y="165.01" width="4.5" height="4.5"/>
<rect x="589.71" y="236.72" width="4.5" height="4.5"/>
<rect x="595.07" y="201.37" width="4.5" height="4.5"/>
<rect x="597.57" y="213.5" width="4.5" height="4.5"/>
<rect x="594.65" y="134.55" width="4.5" height="4.5"/>
<rect x="596.75" y="267.05" width="4.5" height="4.5"/>
<rect x="596.75" y="270.75" width="4.5" height="4.5"/>
</g>
<g fill="#6cc242">
<rect x="645.95" y="138.35" width="4.5" height="4.5"/>
<rect x="641.15" y="153.35" width="4.5" height="4.5"/>
<rect x="641.65" y="162.75" width="4.5" height="4.5"/>
<rect x="649.55" y="165.15" width="4.5" height="4.5"/>
<rect x="650.05" y="171.35" width="4.5" height="4.5"/>
<rect x="650.05" y="174.25" width="4.5" height="4.5"/>
<rect x="647.15" y="181.95" width="4.5" height="4.5"/>
<rect x="646.45" y="188.75" width="4.5" height="4.5"/>
<rect x="650.05" y="196.45" width="4.5" height="4.5"/>
<rect x="644.75" y="199.55" width="4.5" height="4.5"/>
<rect x="647.65" y="200.25" width="4.5" height="4.5"/>
</g>
<rect x="401.7" y="23" width="282.7" height="291.4" fill="none" stroke="#444" stroke-width="1.55"/>
<line x1="39.1" y1="475.9" x2="44" y2="475.9" stroke="#333" stroke-width="1.2" />
<text x="37.4" y="480.9" font-size="12.8" text-anchor="end" fill="#222" >2.0</text>
<line x1="39.1" y1="527.1" x2="44" y2="527.1" stroke="#333" stroke-width="1.2" />
<text x="37.4" y="532.1" font-size="12.8" text-anchor="end" fill="#222" >0.0</text>
<line x1="39.1" y1="578.3" x2="44" y2="578.3" stroke="#333" stroke-width="1.2" />
<text x="37.4" y="583.3" font-size="12.8" text-anchor="end" fill="#222" >-2.0</text>
<line x1="39.1" y1="629.5" x2="44" y2="629.5" stroke="#333" stroke-width="1.2" />
<text x="37.4" y="634.5" font-size="12.8" text-anchor="end" fill="#222" >-4.0</text>
<line x1="39.1" y1="680.7" x2="44" y2="680.7" stroke="#333" stroke-width="1.2" />
<text x="37.4" y="685.7" font-size="12.8" text-anchor="end" fill="#222" >-6.0</text>
<text transform="translate(10,582.8) rotate(-90)" font-size="12.3" text-anchor="middle" fill="#222" textLength="136.5" lengthAdjust="spacingAndGlyphs">Log2 <tspan font-style="italic">NEAT1</tspan> expression</text>
<line x1="80.7" y1="707.5" x2="80.7" y2="712.5" stroke="#333" stroke-width="1.2" />
<text x="82.6" y="724.9" font-size="12.6" text-anchor="middle" fill="#222" >Luminal</text>
<text x="80.9" y="740.3" font-size="12.6" text-anchor="middle" fill="#222" >A</text>
<text x="80.9" y="751.9" font-size="10.3" text-anchor="middle" fill="#222" >(n=266)</text>
<line x1="133.4" y1="707.5" x2="133.4" y2="712.5" stroke="#333" stroke-width="1.2" />
<text x="135.3" y="724.9" font-size="12.6" text-anchor="middle" fill="#222" >Luminal</text>
<text x="133.6" y="740.3" font-size="12.6" text-anchor="middle" fill="#222" >B</text>
<text x="133.6" y="751.9" font-size="10.3" text-anchor="middle" fill="#222" >(n=108)</text>
<line x1="186.1" y1="707.5" x2="186.1" y2="712.5" stroke="#333" stroke-width="1.2" />
<text x="188" y="724.9" font-size="12.6" text-anchor="middle" fill="#222" >HER2-</text>
<text x="186.3" y="740.3" font-size="12.6" text-anchor="middle" fill="#222" >enriched</text>
<text x="186.3" y="751.9" font-size="10.3" text-anchor="middle" fill="#222" >(n=46)</text>
<line x1="238.8" y1="707.5" x2="238.8" y2="712.5" stroke="#333" stroke-width="1.2" />
<text x="240.7" y="724.9" font-size="12.6" text-anchor="middle" fill="#222" >Basal-</text>
<text x="239" y="740.3" font-size="12.6" text-anchor="middle" fill="#222" >like</text>
<text x="239" y="751.9" font-size="10.3" text-anchor="middle" fill="#222" >(n=95)</text>
<line x1="291.5" y1="707.5" x2="291.5" y2="712.5" stroke="#333" stroke-width="1.2" />
<text x="293.4" y="724.9" font-size="12.6" text-anchor="middle" fill="#222" >Normal-</text>
<text x="291.7" y="740.3" font-size="12.6" text-anchor="middle" fill="#222" >like</text>
<text x="291.7" y="751.9" font-size="10.3" text-anchor="middle" fill="#222" >(n=11)</text>
<text x="49.6" y="400.1" font-size="14" text-anchor="start" font-weight="bold" fill="#111" textLength="220.9" lengthAdjust="spacingAndGlyphs" >TCGA, probe ID A_32_P566916</text>
<text x="327.8" y="394.4" font-size="10.6" text-anchor="end" fill="#333" textLength="45.6" lengthAdjust="spacingAndGlyphs" >p=1.7e-18</text>
<text x="327.8" y="406.2" font-size="10.6" text-anchor="end" fill="#333" textLength="28.1" lengthAdjust="spacingAndGlyphs" >n=526</text>
<path d="M80.1 422.2V418.8H290.9V422.2" fill="none" stroke="#222" stroke-width="1.6"/>
<text x="185.5" y="417.5" font-size="8" text-anchor="middle" fill="#333" textLength="7" lengthAdjust="spacingAndGlyphs" >ns</text>
<path d="M80.1 429V425.6H238.2V429" fill="none" stroke="#222" stroke-width="1.6"/>
<path d="M148.9 422H153.8M150.12 419.88L152.57 424.12M150.12 424.12L152.57 419.88M154.1 422H159M155.32 419.88L157.77 424.12M155.32 424.12L157.77 419.88M159.3 422H164.2M160.53 419.88L162.97 424.12M160.53 424.12L162.97 419.88M164.5 422H169.4M165.72 419.88L168.17 424.12M165.72 424.12L168.17 419.88" stroke="#444" stroke-width="0.95" fill="none"/>
<path d="M132.8 436.1V432.7H238.2V436.1" fill="none" stroke="#222" stroke-width="1.6"/>
<path d="M175.25 429.1H180.15M176.47 426.98L178.92 431.22M176.47 431.22L178.92 426.98M180.45 429.1H185.35M181.67 426.98L184.12 431.22M181.67 431.22L184.12 426.98M185.65 429.1H190.55M186.88 426.98L189.32 431.22M186.88 431.22L189.32 426.98M190.85 429.1H195.75M192.07 426.98L194.52 431.22M192.07 431.22L194.52 426.98" stroke="#444" stroke-width="0.95" fill="none"/>
<path d="M132.8 442.7V439.3H290.9V442.7" fill="none" stroke="#222" stroke-width="1.6"/>
<text x="211.85" y="438" font-size="8" text-anchor="middle" fill="#333" textLength="7" lengthAdjust="spacingAndGlyphs" >ns</text>
<path d="M185.5 449.7V446.3H290.9V449.7" fill="none" stroke="#222" stroke-width="1.6"/>
<text x="238.2" y="445" font-size="8" text-anchor="middle" fill="#333" textLength="7" lengthAdjust="spacingAndGlyphs" >ns</text>
<path d="M80.1 456.6V453.2H185.5V456.6" fill="none" stroke="#222" stroke-width="1.6"/>
<path d="M122.55 449.6H127.45M123.78 447.48L126.23 451.72M123.78 451.72L126.23 447.48M127.75 449.6H132.65M128.98 447.48L131.43 451.72M128.98 451.72L131.43 447.48M132.95 449.6H137.85M134.18 447.48L136.62 451.72M134.18 451.72L136.62 447.48M138.15 449.6H143.05M139.38 447.48L141.83 451.72M139.38 451.72L141.83 447.48" stroke="#444" stroke-width="0.95" fill="none"/>
<path d="M132.8 463V459.6H185.5V463" fill="none" stroke="#222" stroke-width="1.6"/>
<path d="M154.1 456H159M155.33 453.88L157.78 458.12M155.33 458.12L157.78 453.88M159.3 456H164.2M160.53 453.88L162.98 458.12M160.53 458.12L162.98 453.88" stroke="#444" stroke-width="0.95" fill="none"/>
<path d="M238.2 463V459.6H290.9V463" fill="none" stroke="#222" stroke-width="1.6"/>
<path d="M259.5 456H264.4M260.72 453.88L263.18 458.12M260.72 458.12L263.18 453.88M264.7 456H269.6M265.92 453.88L268.38 458.12M265.92 458.12L268.38 453.88" stroke="#444" stroke-width="0.95" fill="none"/>
<path d="M80.1 470.6V467.2H132.8V470.6" fill="none" stroke="#222" stroke-width="1.6"/>
<path d="M104 463.6H108.9M105.23 461.48L107.68 465.72M105.23 465.72L107.68 461.48" stroke="#444" stroke-width="0.95" fill="none"/>
<path d="M185.5 470.6V467.2H238.2V470.6" fill="none" stroke="#222" stroke-width="1.6"/>
<path d="M206.8 463.6H211.7M208.03 461.48L210.48 465.72M208.03 465.72L210.48 461.48M212 463.6H216.9M213.23 461.48L215.68 465.72M213.23 465.72L215.68 461.48" stroke="#444" stroke-width="0.95" fill="none"/>
<line x1="80.5" y1="538.8" x2="80.5" y2="486.3" stroke="#222" stroke-width="1.1" stroke-dasharray="3 4"/>
<line x1="70.1" y1="486.5" x2="91.3" y2="486.5" stroke="#2a2a2a" stroke-width="1.3" />
<line x1="80.5" y1="586.4" x2="80.5" y2="646.1" stroke="#222" stroke-width="1.1" stroke-dasharray="3 4"/>
<line x1="70.1" y1="646.5" x2="91.3" y2="646.5" stroke="#2a2a2a" stroke-width="1.3" />
<rect x="59.5" y="538.5" width="42" height="48" fill="#fff" stroke="#111" stroke-width="1.15"/>
<line x1="59.5" y1="563.7" x2="101.5" y2="563.7" stroke="#000" stroke-width="2.9" />
<line x1="133.5" y1="548.6" x2="133.5" y2="506.1" stroke="#222" stroke-width="1.1" stroke-dasharray="3 4"/>
<line x1="122.8" y1="506.5" x2="144" y2="506.5" stroke="#2a2a2a" stroke-width="1.3" />
<line x1="133.5" y1="590.1" x2="133.5" y2="642.3" stroke="#222" stroke-width="1.1" stroke-dasharray="3 4"/>
<line x1="122.8" y1="642.5" x2="144" y2="642.5" stroke="#2a2a2a" stroke-width="1.3" />
<rect x="112.5" y="548.5" width="42" height="42" fill="#fff" stroke="#111" stroke-width="1.15"/>
<line x1="112.5" y1="570.6" x2="154.5" y2="570.6" stroke="#000" stroke-width="2.9" />
<line x1="186.5" y1="564.2" x2="186.5" y2="517.1" stroke="#222" stroke-width="1.1" stroke-dasharray="3 4"/>
<line x1="175.5" y1="517.5" x2="196.7" y2="517.5" stroke="#2a2a2a" stroke-width="1.3" />
<line x1="186.5" y1="601.6" x2="186.5" y2="639.3" stroke="#222" stroke-width="1.1" stroke-dasharray="3 4"/>
<line x1="175.5" y1="639.5" x2="196.7" y2="639.5" stroke="#2a2a2a" stroke-width="1.3" />
<rect x="164.5" y="564.5" width="43" height="37" fill="#fff" stroke="#111" stroke-width="1.15"/>
<line x1="164.5" y1="586.4" x2="207.5" y2="586.4" stroke="#000" stroke-width="2.9" />
<line x1="238.5" y1="579.9" x2="238.5" y2="540.4" stroke="#222" stroke-width="1.1" stroke-dasharray="3 4"/>
<line x1="228.2" y1="540.5" x2="249.4" y2="540.5" stroke="#2a2a2a" stroke-width="1.3" />
<line x1="238.5" y1="616.2" x2="238.5" y2="665.4" stroke="#222" stroke-width="1.1" stroke-dasharray="3 4"/>
<line x1="228.2" y1="665.5" x2="249.4" y2="665.5" stroke="#2a2a2a" stroke-width="1.3" />
<rect x="217.5" y="579.5" width="43" height="37" fill="#fff" stroke="#111" stroke-width="1.15"/>
<line x1="217.5" y1="600.4" x2="260.5" y2="600.4" stroke="#000" stroke-width="2.9" />
<line x1="291.5" y1="564.2" x2="291.5" y2="557.4" stroke="#222" stroke-width="1.1" stroke-dasharray="3 4"/>
<line x1="280.9" y1="557.5" x2="302.1" y2="557.5" stroke="#2a2a2a" stroke-width="1.3" />
<line x1="291.5" y1="583.4" x2="291.5" y2="604" stroke="#222" stroke-width="1.1" stroke-dasharray="3 4"/>
<line x1="280.9" y1="604.5" x2="302.1" y2="604.5" stroke="#2a2a2a" stroke-width="1.3" />
<rect x="270.5" y="564.5" width="42" height="19" fill="#fff" stroke="#111" stroke-width="1.15"/>
<line x1="270.5" y1="571" x2="312.5" y2="571" stroke="#000" stroke-width="2.9" />
<g fill="#2e2a82">
<rect x="74.67" y="591.66" width="4.5" height="4.5"/>
<rect x="81.24" y="523.67" width="4.5" height="4.5"/>
<rect x="81.59" y="547.05" width="4.5" height="4.5"/>
<rect x="74.26" y="570.52" width="4.5" height="4.5"/>
<rect x="74.25" y="600.2" width="4.5" height="4.5"/>
<rect x="77.19" y="535.1" width="4.5" height="4.5"/>
<rect x="74.51" y="518.18" width="4.5" height="4.5"/>
<rect x="78.26" y="594.42" width="4.5" height="4.5"/>
<rect x="80.72" y="563.22" width="4.5" height="4.5"/>
<rect x="76.34" y="514.13" width="4.5" height="4.5"/>
<rect x="78.98" y="556.26" width="4.5" height="4.5"/>
<rect x="75.25" y="528.09" width="4.5" height="4.5"/>
<rect x="82.76" y="592.11" width="4.5" height="4.5"/>
<rect x="74.05" y="643.85" width="4.5" height="4.5"/>
<rect x="75.05" y="524.71" width="4.5" height="4.5"/>
<rect x="82.03" y="572.94" width="4.5" height="4.5"/>
<rect x="74.12" y="555.08" width="4.5" height="4.5"/>
<rect x="76.63" y="569.44" width="4.5" height="4.5"/>
<rect x="76.69" y="517.75" width="4.5" height="4.5"/>
<rect x="81.3" y="539.49" width="4.5" height="4.5"/>
<rect x="83.38" y="621.54" width="4.5" height="4.5"/>
<rect x="79.34" y="577.64" width="4.5" height="4.5"/>
<rect x="78.82" y="541.38" width="4.5" height="4.5"/>
<rect x="80.28" y="575.05" width="4.5" height="4.5"/>
<rect x="81.58" y="541.6" width="4.5" height="4.5"/>
<rect x="82.67" y="585.4" width="4.5" height="4.5"/>
<rect x="77.99" y="560.74" width="4.5" height="4.5"/>
<rect x="80.88" y="568.46" width="4.5" height="4.5"/>
<rect x="80.05" y="602.05" width="4.5" height="4.5"/>
<rect x="80.02" y="608.96" width="4.5" height="4.5"/>
<rect x="82.03" y="545.52" width="4.5" height="4.5"/>
<rect x="81.01" y="586.38" width="4.5" height="4.5"/>
<rect x="81.89" y="605.48" width="4.5" height="4.5"/>
<rect x="79.41" y="535.79" width="4.5" height="4.5"/>
<rect x="80.39" y="584.96" width="4.5" height="4.5"/>
<rect x="80.82" y="601.03" width="4.5" height="4.5"/>
<rect x="80.8" y="581.82" width="4.5" height="4.5"/>
<rect x="79.97" y="610.91" width="4.5" height="4.5"/>
<rect x="82.17" y="606.28" width="4.5" height="4.5"/>
<rect x="77.27" y="609.82" width="4.5" height="4.5"/>
<rect x="74.96" y="569.88" width="4.5" height="4.5"/>
<rect x="83.16" y="530.01" width="4.5" height="4.5"/>
<rect x="75.77" y="514.96" width="4.5" height="4.5"/>
<rect x="79.71" y="575.53" width="4.5" height="4.5"/>
<rect x="75.72" y="581.65" width="4.5" height="4.5"/>
<rect x="78.02" y="520.48" width="4.5" height="4.5"/>
<rect x="74.3" y="546.11" width="4.5" height="4.5"/>
<rect x="83.12" y="565.91" width="4.5" height="4.5"/>
<rect x="80.34" y="543.31" width="4.5" height="4.5"/>
<rect x="82.11" y="604" width="4.5" height="4.5"/>
<rect x="73.84" y="535.34" width="4.5" height="4.5"/>
<rect x="79.33" y="595.53" width="4.5" height="4.5"/>
<rect x="79.65" y="596.6" width="4.5" height="4.5"/>
<rect x="75.46" y="521.28" width="4.5" height="4.5"/>
<rect x="75.87" y="532.75" width="4.5" height="4.5"/>
<rect x="77.69" y="603.07" width="4.5" height="4.5"/>
<rect x="76.83" y="585.91" width="4.5" height="4.5"/>
<rect x="81.55" y="581.4" width="4.5" height="4.5"/>
<rect x="82.09" y="512.13" width="4.5" height="4.5"/>
<rect x="78.68" y="540.61" width="4.5" height="4.5"/>
<rect x="74.05" y="562.85" width="4.5" height="4.5"/>
<rect x="78.75" y="580.35" width="4.5" height="4.5"/>
<rect x="75.58" y="571.63" width="4.5" height="4.5"/>
<rect x="79.63" y="512.9" width="4.5" height="4.5"/>
<rect x="80.08" y="571.46" width="4.5" height="4.5"/>
<rect x="78.25" y="570.89" width="4.5" height="4.5"/>
<rect x="80.96" y="555.84" width="4.5" height="4.5"/>
<rect x="73.59" y="597.57" width="4.5" height="4.5"/>
<rect x="77.68" y="614.81" width="4.5" height="4.5"/>
<rect x="83.13" y="615.45" width="4.5" height="4.5"/>
<rect x="79.54" y="580.87" width="4.5" height="4.5"/>
<rect x="77.35" y="566.26" width="4.5" height="4.5"/>
<rect x="82.48" y="557.26" width="4.5" height="4.5"/>
<rect x="80.05" y="496.45" width="4.5" height="4.5"/>
<rect x="80.88" y="574.87" width="4.5" height="4.5"/>
<rect x="82.87" y="587.93" width="4.5" height="4.5"/>
<rect x="81.79" y="524.98" width="4.5" height="4.5"/>
<rect x="75.12" y="577.74" width="4.5" height="4.5"/>
<rect x="78.29" y="559.25" width="4.5" height="4.5"/>
<rect x="74.82" y="600.8" width="4.5" height="4.5"/>
<rect x="80.15" y="579.53" width="4.5" height="4.5"/>
<rect x="75.16" y="541.91" width="4.5" height="4.5"/>
<rect x="80.18" y="614.21" width="4.5" height="4.5"/>
<rect x="77.13" y="533.66" width="4.5" height="4.5"/>
<rect x="77.33" y="532.15" width="4.5" height="4.5"/>
<rect x="76.45" y="496.45" width="4.5" height="4.5"/>
<rect x="82.86" y="617.78" width="4.5" height="4.5"/>
<rect x="77.09" y="620.41" width="4.5" height="4.5"/>
<rect x="79.64" y="534.11" width="4.5" height="4.5"/>
<rect x="81.58" y="548.3" width="4.5" height="4.5"/>
<rect x="83.05" y="564.26" width="4.5" height="4.5"/>
<rect x="77.78" y="577.16" width="4.5" height="4.5"/>
<rect x="80.82" y="538.08" width="4.5" height="4.5"/>
<rect x="76.05" y="484.55" width="4.5" height="4.5"/>
<rect x="77.3" y="536.85" width="4.5" height="4.5"/>
<rect x="79.47" y="524.16" width="4.5" height="4.5"/>
<rect x="77.6" y="571.2" width="4.5" height="4.5"/>
<rect x="82.72" y="521.43" width="4.5" height="4.5"/>
<rect x="78.65" y="582.25" width="4.5" height="4.5"/>
<rect x="76.74" y="529.54" width="4.5" height="4.5"/>
<rect x="77.59" y="569" width="4.5" height="4.5"/>
<rect x="82.82" y="619.54" width="4.5" height="4.5"/>
<rect x="77.43" y="578.24" width="4.5" height="4.5"/>
<rect x="80.05" y="514.54" width="4.5" height="4.5"/>
<rect x="76.42" y="597.14" width="4.5" height="4.5"/>
<rect x="76.77" y="536.39" width="4.5" height="4.5"/>
<rect x="80.69" y="537.06" width="4.5" height="4.5"/>
<rect x="78.26" y="593.21" width="4.5" height="4.5"/>
<rect x="75.85" y="552.92" width="4.5" height="4.5"/>
<rect x="81.74" y="529.2" width="4.5" height="4.5"/>
<rect x="82.02" y="538.64" width="4.5" height="4.5"/>
<rect x="79.23" y="607.09" width="4.5" height="4.5"/>
<rect x="78.73" y="573.66" width="4.5" height="4.5"/>
<rect x="79.79" y="546.27" width="4.5" height="4.5"/>
<rect x="81.38" y="592.84" width="4.5" height="4.5"/>
<rect x="79.28" y="560.33" width="4.5" height="4.5"/>
<rect x="78.33" y="604.7" width="4.5" height="4.5"/>
<rect x="76.74" y="515.51" width="4.5" height="4.5"/>
<rect x="77.29" y="572.33" width="4.5" height="4.5"/>
<rect x="77.94" y="618.8" width="4.5" height="4.5"/>
<rect x="82.6" y="546.7" width="4.5" height="4.5"/>
<rect x="83" y="561.49" width="4.5" height="4.5"/>
<rect x="83.55" y="484.55" width="4.5" height="4.5"/>
<rect x="78.1" y="568.16" width="4.5" height="4.5"/>
<rect x="79.21" y="617.35" width="4.5" height="4.5"/>
<rect x="74.37" y="579.32" width="4.5" height="4.5"/>
<rect x="82.34" y="576.47" width="4.5" height="4.5"/>
<rect x="81" y="558.57" width="4.5" height="4.5"/>
<rect x="74.59" y="586.94" width="4.5" height="4.5"/>
<rect x="79.61" y="584.1" width="4.5" height="4.5"/>
<rect x="82.6" y="574.46" width="4.5" height="4.5"/>
<rect x="73.63" y="550.67" width="4.5" height="4.5"/>
<rect x="74.45" y="503.15" width="4.5" height="4.5"/>
<rect x="79.11" y="582.92" width="4.5" height="4.5"/>
<rect x="74.45" y="507.95" width="4.5" height="4.5"/>
<rect x="80.95" y="589.48" width="4.5" height="4.5"/>
<rect x="79.84" y="576.08" width="4.5" height="4.5"/>
<rect x="74.18" y="616.12" width="4.5" height="4.5"/>
<rect x="75.14" y="530.18" width="4.5" height="4.5"/>
<rect x="77.34" y="585.24" width="4.5" height="4.5"/>
<rect x="82.34" y="588.21" width="4.5" height="4.5"/>
<rect x="74.79" y="561.32" width="4.5" height="4.5"/>
<rect x="77.29" y="583.27" width="4.5" height="4.5"/>
<rect x="75.33" y="568.82" width="4.5" height="4.5"/>
<rect x="79.46" y="527.05" width="4.5" height="4.5"/>
<rect x="73.79" y="599.25" width="4.5" height="4.5"/>
<rect x="80.29" y="572.21" width="4.5" height="4.5"/>
<rect x="75.28" y="605.77" width="4.5" height="4.5"/>
<rect x="75" y="536.18" width="4.5" height="4.5"/>
<rect x="82.46" y="527.42" width="4.5" height="4.5"/>
<rect x="82.49" y="590.41" width="4.5" height="4.5"/>
<rect x="75.9" y="542.23" width="4.5" height="4.5"/>
<rect x="75.86" y="526.35" width="4.5" height="4.5"/>
<rect x="78.16" y="557.51" width="4.5" height="4.5"/>
<rect x="77.03" y="553.47" width="4.5" height="4.5"/>
<rect x="74.34" y="551.53" width="4.5" height="4.5"/>
<rect x="75.72" y="566.99" width="4.5" height="4.5"/>
<rect x="79.66" y="580.04" width="4.5" height="4.5"/>
<rect x="81.75" y="567.61" width="4.5" height="4.5"/>
<rect x="80.96" y="520.12" width="4.5" height="4.5"/>
<rect x="81.88" y="567.39" width="4.5" height="4.5"/>
<rect x="75.03" y="532.56" width="4.5" height="4.5"/>
<rect x="76.84" y="553.97" width="4.5" height="4.5"/>
<rect x="78.27" y="561.92" width="4.5" height="4.5"/>
<rect x="79.91" y="613" width="4.5" height="4.5"/>
<rect x="76.28" y="540.85" width="4.5" height="4.5"/>
<rect x="75.06" y="522.64" width="4.5" height="4.5"/>
<rect x="81.94" y="588.71" width="4.5" height="4.5"/>
<rect x="76.19" y="563.54" width="4.5" height="4.5"/>
<rect x="83.23" y="554.69" width="4.5" height="4.5"/>
<rect x="83.15" y="494.05" width="4.5" height="4.5"/>
<rect x="78.17" y="549.54" width="4.5" height="4.5"/>
<rect x="77.36" y="548.87" width="4.5" height="4.5"/>
<rect x="75.5" y="552.72" width="4.5" height="4.5"/>
<rect x="80.03" y="607.99" width="4.5" height="4.5"/>
<rect x="81.66" y="543.73" width="4.5" height="4.5"/>
<rect x="83.17" y="549.73" width="4.5" height="4.5"/>
<rect x="78.16" y="539.12" width="4.5" height="4.5"/>
<rect x="82.22" y="518.95" width="4.5" height="4.5"/>
<rect x="82.93" y="575.86" width="4.5" height="4.5"/>
<rect x="83.34" y="549.99" width="4.5" height="4.5"/>
<rect x="77.94" y="548.65" width="4.5" height="4.5"/>
<rect x="82.83" y="573.51" width="4.5" height="4.5"/>
<rect x="77.94" y="590.69" width="4.5" height="4.5"/>
<rect x="73.76" y="558.12" width="4.5" height="4.5"/>
<rect x="83.37" y="613.23" width="4.5" height="4.5"/>
<rect x="80.87" y="534.28" width="4.5" height="4.5"/>
<rect x="76.7" y="537.93" width="4.5" height="4.5"/>
<rect x="81.52" y="531.33" width="4.5" height="4.5"/>
<rect x="82.67" y="564.6" width="4.5" height="4.5"/>
<rect x="82.75" y="544.82" width="4.5" height="4.5"/>
<rect x="77.35" y="517.07" width="4.5" height="4.5"/>
<rect x="81.95" y="633.15" width="4.5" height="4.5"/>
<rect x="78.79" y="574.11" width="4.5" height="4.5"/>
<rect x="75.14" y="522" width="4.5" height="4.5"/>
<rect x="80.58" y="583.75" width="4.5" height="4.5"/>
<rect x="78.32" y="552.03" width="4.5" height="4.5"/>
<rect x="78.46" y="580.61" width="4.5" height="4.5"/>
<rect x="81.97" y="591.04" width="4.5" height="4.5"/>
<rect x="80.79" y="530.94" width="4.5" height="4.5"/>
<rect x="78.45" y="509.55" width="4.5" height="4.5"/>
<rect x="81.99" y="584.25" width="4.5" height="4.5"/>
<rect x="82.66" y="542.7" width="4.5" height="4.5"/>
<rect x="80.45" y="503.15" width="4.5" height="4.5"/>
<rect x="75.52" y="555.26" width="4.5" height="4.5"/>
<rect x="80.35" y="552.49" width="4.5" height="4.5"/>
<rect x="78.47" y="536.14" width="4.5" height="4.5"/>
<rect x="78.2" y="563.94" width="4.5" height="4.5"/>
<rect x="74.12" y="558.87" width="4.5" height="4.5"/>
<rect x="79.01" y="557.92" width="4.5" height="4.5"/>
<rect x="80.39" y="556.22" width="4.5" height="4.5"/>
<rect x="82.24" y="528.67" width="4.5" height="4.5"/>
<rect x="77.86" y="576.85" width="4.5" height="4.5"/>
<rect x="75.21" y="516.21" width="4.5" height="4.5"/>
<rect x="79.01" y="559.86" width="4.5" height="4.5"/>
<rect x="82.59" y="595.37" width="4.5" height="4.5"/>
<rect x="75.17" y="572.99" width="4.5" height="4.5"/>
<rect x="74.95" y="570.13" width="4.5" height="4.5"/>
<rect x="83.4" y="550.5" width="4.5" height="4.5"/>
<rect x="74.83" y="560.61" width="4.5" height="4.5"/>
<rect x="78.75" y="582.78" width="4.5" height="4.5"/>
<rect x="77.46" y="622.55" width="4.5" height="4.5"/>
<rect x="82.93" y="526.57" width="4.5" height="4.5"/>
<rect x="77.96" y="562.42" width="4.5" height="4.5"/>
<rect x="74.05" y="483.35" width="4.5" height="4.5"/>
<rect x="73.25" y="494.85" width="4.5" height="4.5"/>
<rect x="75.66" y="621.08" width="4.5" height="4.5"/>
<rect x="82.29" y="554.3" width="4.5" height="4.5"/>
<rect x="80.93" y="578.56" width="4.5" height="4.5"/>
<rect x="78.55" y="537.36" width="4.5" height="4.5"/>
<rect x="82.86" y="587.37" width="4.5" height="4.5"/>
<rect x="80.33" y="551.4" width="4.5" height="4.5"/>
<rect x="77.76" y="609.12" width="4.5" height="4.5"/>
<rect x="75.64" y="544.29" width="4.5" height="4.5"/>
<rect x="82.08" y="611.53" width="4.5" height="4.5"/>
<rect x="80.62" y="602.76" width="4.5" height="4.5"/>
<rect x="75.97" y="612.5" width="4.5" height="4.5"/>
<rect x="78.14" y="565.54" width="4.5" height="4.5"/>
<rect x="81.49" y="547.58" width="4.5" height="4.5"/>
<rect x="83.55" y="488.05" width="4.5" height="4.5"/>
<rect x="73.69" y="544.65" width="4.5" height="4.5"/>
<rect x="83.17" y="542.88" width="4.5" height="4.5"/>
<rect x="76.76" y="517" width="4.5" height="4.5"/>
<rect x="80.46" y="556.66" width="4.5" height="4.5"/>
<rect x="83.15" y="508.35" width="4.5" height="4.5"/>
<rect x="82.38" y="523.21" width="4.5" height="4.5"/>
<rect x="75.15" y="566.84" width="4.5" height="4.5"/>
<rect x="79.94" y="565.1" width="4.5" height="4.5"/>
<rect x="79.9" y="531.85" width="4.5" height="4.5"/>
<rect x="77.63" y="525.59" width="4.5" height="4.5"/>
<rect x="81.89" y="534.62" width="4.5" height="4.5"/>
<rect x="76.1" y="545.14" width="4.5" height="4.5"/>
<rect x="74.76" y="519.6" width="4.5" height="4.5"/>
<rect x="80.24" y="539.75" width="4.5" height="4.5"/>
<rect x="79.08" y="598.38" width="4.5" height="4.5"/>
<rect x="76.21" y="565.51" width="4.5" height="4.5"/>
<rect x="82.72" y="584.62" width="4.5" height="4.5"/>
<rect x="79.94" y="533.38" width="4.5" height="4.5"/>
<rect x="74.42" y="540.14" width="4.5" height="4.5"/>
<rect x="82.95" y="562.74" width="4.5" height="4.5"/>
<rect x="75.76" y="547.71" width="4.5" height="4.5"/>
<rect x="77.2" y="589.41" width="4.5" height="4.5"/>
<rect x="82.86" y="598.61" width="4.5" height="4.5"/>
<rect x="77.39" y="513.2" width="4.5" height="4.5"/>
<rect x="80.33" y="578.96" width="4.5" height="4.5"/>
<rect x="81.17" y="594.16" width="4.5" height="4.5"/>
</g>
<g fill="#a6d5eb">
<rect x="132.44" y="596.1" width="4.5" height="4.5"/>
<rect x="134.29" y="540.08" width="4.5" height="4.5"/>
<rect x="131.52" y="596.86" width="4.5" height="4.5"/>
<rect x="131.64" y="559.97" width="4.5" height="4.5"/>
<rect x="132.86" y="590.93" width="4.5" height="4.5"/>
<rect x="129.23" y="528.81" width="4.5" height="4.5"/>
<rect x="127.15" y="589.3" width="4.5" height="4.5"/>
<rect x="132.91" y="566.15" width="4.5" height="4.5"/>
<rect x="133.92" y="549.94" width="4.5" height="4.5"/>
<rect x="135.15" y="580.44" width="4.5" height="4.5"/>
<rect x="128.88" y="530.68" width="4.5" height="4.5"/>
<rect x="128.88" y="548.87" width="4.5" height="4.5"/>
<rect x="134.24" y="588.08" width="4.5" height="4.5"/>
<rect x="133.59" y="544.63" width="4.5" height="4.5"/>
<rect x="130.39" y="551.42" width="4.5" height="4.5"/>
<rect x="134.75" y="620.15" width="4.5" height="4.5"/>
<rect x="130.29" y="560.98" width="4.5" height="4.5"/>
<rect x="126.79" y="585.63" width="4.5" height="4.5"/>
<rect x="127.86" y="565.44" width="4.5" height="4.5"/>
<rect x="128.75" y="610.65" width="4.5" height="4.5"/>
<rect x="126.72" y="584.39" width="4.5" height="4.5"/>
<rect x="136" y="577.89" width="4.5" height="4.5"/>
<rect x="135.05" y="579.63" width="4.5" height="4.5"/>
<rect x="136.13" y="594.73" width="4.5" height="4.5"/>
<rect x="129.53" y="571.69" width="4.5" height="4.5"/>
<rect x="126.26" y="538.37" width="4.5" height="4.5"/>
<rect x="129.72" y="548.33" width="4.5" height="4.5"/>
<rect x="132.49" y="567.35" width="4.5" height="4.5"/>
<rect x="128" y="603.29" width="4.5" height="4.5"/>
<rect x="135.59" y="553.31" width="4.5" height="4.5"/>
<rect x="135.68" y="574" width="4.5" height="4.5"/>
<rect x="134.38" y="573.21" width="4.5" height="4.5"/>
<rect x="133.82" y="562.11" width="4.5" height="4.5"/>
<rect x="131.08" y="552.13" width="4.5" height="4.5"/>
<rect x="132.6" y="545.29" width="4.5" height="4.5"/>
<rect x="134.42" y="557.96" width="4.5" height="4.5"/>
<rect x="131.89" y="570.91" width="4.5" height="4.5"/>
<rect x="134.75" y="609.45" width="4.5" height="4.5"/>
<rect x="130.91" y="575.44" width="4.5" height="4.5"/>
<rect x="132.89" y="583.28" width="4.5" height="4.5"/>
<rect x="131.45" y="558.37" width="4.5" height="4.5"/>
<rect x="127.39" y="594.28" width="4.5" height="4.5"/>
<rect x="135.88" y="527.08" width="4.5" height="4.5"/>
<rect x="133.67" y="541.39" width="4.5" height="4.5"/>
<rect x="135.75" y="597.3" width="4.5" height="4.5"/>
<rect x="128.77" y="550.54" width="4.5" height="4.5"/>
<rect x="129.92" y="588.44" width="4.5" height="4.5"/>
<rect x="130.95" y="576.9" width="4.5" height="4.5"/>
<rect x="131.66" y="563.99" width="4.5" height="4.5"/>
<rect x="130.67" y="590" width="4.5" height="4.5"/>
<rect x="129.35" y="553.93" width="4.5" height="4.5"/>
<rect x="135.95" y="630.85" width="4.5" height="4.5"/>
<rect x="126.42" y="587.26" width="4.5" height="4.5"/>
<rect x="126.39" y="576.2" width="4.5" height="4.5"/>
<rect x="127.56" y="543.9" width="4.5" height="4.5"/>
<rect x="131.07" y="601.41" width="4.5" height="4.5"/>
<rect x="133.3" y="542.95" width="4.5" height="4.5"/>
<rect x="129.5" y="526.7" width="4.5" height="4.5"/>
<rect x="126.36" y="532.34" width="4.5" height="4.5"/>
<rect x="132.26" y="568.59" width="4.5" height="4.5"/>
<rect x="128.85" y="559.54" width="4.5" height="4.5"/>
<rect x="130.75" y="503.95" width="4.5" height="4.5"/>
<rect x="133.59" y="534.6" width="4.5" height="4.5"/>
<rect x="130.12" y="582.62" width="4.5" height="4.5"/>
<rect x="129.12" y="592.03" width="4.5" height="4.5"/>
<rect x="132.35" y="519.65" width="4.5" height="4.5"/>
<rect x="127.81" y="555.47" width="4.5" height="4.5"/>
<rect x="129.26" y="545.91" width="4.5" height="4.5"/>
<rect x="129.49" y="556.51" width="4.5" height="4.5"/>
<rect x="132.1" y="535.77" width="4.5" height="4.5"/>
<rect x="131.33" y="566.68" width="4.5" height="4.5"/>
<rect x="133.16" y="602.55" width="4.5" height="4.5"/>
<rect x="128.07" y="537.26" width="4.5" height="4.5"/>
<rect x="127.65" y="617.75" width="4.5" height="4.5"/>
<rect x="132.91" y="545.92" width="4.5" height="4.5"/>
<rect x="131.97" y="533.07" width="4.5" height="4.5"/>
<rect x="132.03" y="578.31" width="4.5" height="4.5"/>
<rect x="131.62" y="581.27" width="4.5" height="4.5"/>
<rect x="127.8" y="529.24" width="4.5" height="4.5"/>
<rect x="128.22" y="569.63" width="4.5" height="4.5"/>
<rect x="134.26" y="539.46" width="4.5" height="4.5"/>
<rect x="126.85" y="600.1" width="4.5" height="4.5"/>
<rect x="134.69" y="598.69" width="4.5" height="4.5"/>
<rect x="131.54" y="570.62" width="4.5" height="4.5"/>
<rect x="132.35" y="512.55" width="4.5" height="4.5"/>
<rect x="133.88" y="592.59" width="4.5" height="4.5"/>
<rect x="135.05" y="589.58" width="4.5" height="4.5"/>
<rect x="129.94" y="572.69" width="4.5" height="4.5"/>
<rect x="136.03" y="574.48" width="4.5" height="4.5"/>
<rect x="126.45" y="519.65" width="4.5" height="4.5"/>
<rect x="133.05" y="593.22" width="4.5" height="4.5"/>
<rect x="128.95" y="584.26" width="4.5" height="4.5"/>
<rect x="130.37" y="547.06" width="4.5" height="4.5"/>
<rect x="126.78" y="585.97" width="4.5" height="4.5"/>
<rect x="129.11" y="587.08" width="4.5" height="4.5"/>
<rect x="135.18" y="562.54" width="4.5" height="4.5"/>
<rect x="133.84" y="554.68" width="4.5" height="4.5"/>
<rect x="130.25" y="569.02" width="4.5" height="4.5"/>
<rect x="126.77" y="581.89" width="4.5" height="4.5"/>
<rect x="131.02" y="556.89" width="4.5" height="4.5"/>
<rect x="133.82" y="541.66" width="4.5" height="4.5"/>
<rect x="128.38" y="563.5" width="4.5" height="4.5"/>
<rect x="127.22" y="599.02" width="4.5" height="4.5"/>
<rect x="128.43" y="579.3" width="4.5" height="4.5"/>
<rect x="133.06" y="534.65" width="4.5" height="4.5"/>
<rect x="129.25" y="639.15" width="4.5" height="4.5"/>
<rect x="132.56" y="547.56" width="4.5" height="4.5"/>
<rect x="129.15" y="475.85" width="4.5" height="4.5"/>
</g>
<g fill="#e76aaa">
<rect x="186.4" y="597.33" width="4.5" height="4.5"/>
<rect x="180.32" y="565.49" width="4.5" height="4.5"/>
<rect x="183.46" y="596.16" width="4.5" height="4.5"/>
<rect x="183.85" y="560.95" width="4.5" height="4.5"/>
<rect x="180.25" y="601.55" width="4.5" height="4.5"/>
<rect x="180.25" y="582.75" width="4.5" height="4.5"/>
<rect x="187.45" y="605.05" width="4.5" height="4.5"/>
<rect x="186.09" y="570.46" width="4.5" height="4.5"/>
<rect x="183.17" y="584.87" width="4.5" height="4.5"/>
<rect x="183.85" y="595.25" width="4.5" height="4.5"/>
<rect x="182.05" y="570.25" width="4.5" height="4.5"/>
<rect x="179.44" y="597.08" width="4.5" height="4.5"/>
<rect x="186.3" y="569.13" width="4.5" height="4.5"/>
<rect x="184.75" y="597.95" width="4.5" height="4.5"/>
<rect x="183.35" y="544.85" width="4.5" height="4.5"/>
<rect x="181.9" y="581.08" width="4.5" height="4.5"/>
<rect x="184.75" y="580.05" width="4.5" height="4.5"/>
<rect x="180.25" y="624.75" width="4.5" height="4.5"/>
<rect x="186.15" y="590.25" width="4.5" height="4.5"/>
<rect x="186.49" y="570.88" width="4.5" height="4.5"/>
<rect x="180.25" y="539.85" width="4.5" height="4.5"/>
<rect x="187" y="568.86" width="4.5" height="4.5"/>
<rect x="182.95" y="607.75" width="4.5" height="4.5"/>
<rect x="182.05" y="575.65" width="4.5" height="4.5"/>
<rect x="179.66" y="579" width="4.5" height="4.5"/>
<rect x="186.55" y="550.65" width="4.5" height="4.5"/>
<rect x="179.05" y="514.85" width="4.5" height="4.5"/>
<rect x="183.47" y="579" width="4.5" height="4.5"/>
<rect x="180.41" y="587.86" width="4.5" height="4.5"/>
<rect x="180.25" y="573.45" width="4.5" height="4.5"/>
<rect x="181.15" y="635.45" width="4.5" height="4.5"/>
<rect x="186.5" y="572.21" width="4.5" height="4.5"/>
<rect x="181.15" y="615.75" width="4.5" height="4.5"/>
<rect x="182.05" y="611.35" width="4.5" height="4.5"/>
<rect x="184.75" y="553.85" width="4.5" height="4.5"/>
<rect x="182.95" y="584.55" width="4.5" height="4.5"/>
<rect x="187.95" y="620.25" width="4.5" height="4.5"/>
<rect x="185.65" y="586.35" width="4.5" height="4.5"/>
<rect x="180.96" y="566.19" width="4.5" height="4.5"/>
<rect x="182.9" y="586.91" width="4.5" height="4.5"/>
<rect x="185.66" y="576.23" width="4.5" height="4.5"/>
<rect x="184.62" y="581.94" width="4.5" height="4.5"/>
<rect x="187.45" y="567.05" width="4.5" height="4.5"/>
<rect x="183.14" y="577.84" width="4.5" height="4.5"/>
<rect x="182.05" y="589.05" width="4.5" height="4.5"/>
<rect x="180.85" y="537.25" width="4.5" height="4.5"/>
</g>
<g fill="#e02c24">
<rect x="234.89" y="613.64" width="4.5" height="4.5"/>
<rect x="235.17" y="549.12" width="4.5" height="4.5"/>
<rect x="238.45" y="586.07" width="4.5" height="4.5"/>
<rect x="234.77" y="569.04" width="4.5" height="4.5"/>
<rect x="233.53" y="611.53" width="4.5" height="4.5"/>
<rect x="238.25" y="546.41" width="4.5" height="4.5"/>
<rect x="232.58" y="620.94" width="4.5" height="4.5"/>
<rect x="231.98" y="651.54" width="4.5" height="4.5"/>
<rect x="234.92" y="558.94" width="4.5" height="4.5"/>
<rect x="241.47" y="577.47" width="4.5" height="4.5"/>
<rect x="240.62" y="638.92" width="4.5" height="4.5"/>
<rect x="238.53" y="594.74" width="4.5" height="4.5"/>
<rect x="238.91" y="541.47" width="4.5" height="4.5"/>
<rect x="239.59" y="592.12" width="4.5" height="4.5"/>
<rect x="239.4" y="607.72" width="4.5" height="4.5"/>
<rect x="239.55" y="629.31" width="4.5" height="4.5"/>
<rect x="241.19" y="577.63" width="4.5" height="4.5"/>
<rect x="237.26" y="602.85" width="4.5" height="4.5"/>
<rect x="237.08" y="579.11" width="4.5" height="4.5"/>
<rect x="233.88" y="576.4" width="4.5" height="4.5"/>
<rect x="240.82" y="575.28" width="4.5" height="4.5"/>
<rect x="233.82" y="588.17" width="4.5" height="4.5"/>
<rect x="235.77" y="609.45" width="4.5" height="4.5"/>
<rect x="241.2" y="608.13" width="4.5" height="4.5"/>
<rect x="235.61" y="603.61" width="4.5" height="4.5"/>
<rect x="241.26" y="589.56" width="4.5" height="4.5"/>
<rect x="236.35" y="615.83" width="4.5" height="4.5"/>
<rect x="237.91" y="617.3" width="4.5" height="4.5"/>
<rect x="237.98" y="590.34" width="4.5" height="4.5"/>
<rect x="239.58" y="585.11" width="4.5" height="4.5"/>
<rect x="232.61" y="618.03" width="4.5" height="4.5"/>
<rect x="236.56" y="604.36" width="4.5" height="4.5"/>
<rect x="241.23" y="624.37" width="4.5" height="4.5"/>
<rect x="234.27" y="615.49" width="4.5" height="4.5"/>
<rect x="233.49" y="580.47" width="4.5" height="4.5"/>
<rect x="241.34" y="597.19" width="4.5" height="4.5"/>
<rect x="232.31" y="592.59" width="4.5" height="4.5"/>
<rect x="236.72" y="571.71" width="4.5" height="4.5"/>
<rect x="233.03" y="569.94" width="4.5" height="4.5"/>
<rect x="236.02" y="627.04" width="4.5" height="4.5"/>
<rect x="236.41" y="583.53" width="4.5" height="4.5"/>
<rect x="235.04" y="644.23" width="4.5" height="4.5"/>
<rect x="240.22" y="601.32" width="4.5" height="4.5"/>
<rect x="240.27" y="623.04" width="4.5" height="4.5"/>
<rect x="233.28" y="606.1" width="4.5" height="4.5"/>
<rect x="233.07" y="593.9" width="4.5" height="4.5"/>
<rect x="237.66" y="576.11" width="4.5" height="4.5"/>
<rect x="232.07" y="561.64" width="4.5" height="4.5"/>
<rect x="240.83" y="600.4" width="4.5" height="4.5"/>
<rect x="232.54" y="543.09" width="4.5" height="4.5"/>
<rect x="237.7" y="593.26" width="4.5" height="4.5"/>
<rect x="233.14" y="587.07" width="4.5" height="4.5"/>
<rect x="239.99" y="605.35" width="4.5" height="4.5"/>
<rect x="240.98" y="566.93" width="4.5" height="4.5"/>
<rect x="234.58" y="572.77" width="4.5" height="4.5"/>
<rect x="241.28" y="610.62" width="4.5" height="4.5"/>
<rect x="240.63" y="632.45" width="4.5" height="4.5"/>
<rect x="239.18" y="599.71" width="4.5" height="4.5"/>
<rect x="241.17" y="612.72" width="4.5" height="4.5"/>
<rect x="233.52" y="635.87" width="4.5" height="4.5"/>
<rect x="239.63" y="579.58" width="4.5" height="4.5"/>
<rect x="235.05" y="574.64" width="4.5" height="4.5"/>
<rect x="232.14" y="577.85" width="4.5" height="4.5"/>
<rect x="241.29" y="555.72" width="4.5" height="4.5"/>
<rect x="241.22" y="565.04" width="4.5" height="4.5"/>
<rect x="233.36" y="614.4" width="4.5" height="4.5"/>
<rect x="238.12" y="640.45" width="4.5" height="4.5"/>
<rect x="232.79" y="598.25" width="4.5" height="4.5"/>
<rect x="232.94" y="607.3" width="4.5" height="4.5"/>
<rect x="235" y="608.99" width="4.5" height="4.5"/>
<rect x="240.93" y="577.26" width="4.5" height="4.5"/>
<rect x="234.94" y="601.82" width="4.5" height="4.5"/>
<rect x="234.78" y="663.15" width="4.5" height="4.5"/>
<rect x="233.52" y="553.11" width="4.5" height="4.5"/>
<rect x="238.4" y="591.17" width="4.5" height="4.5"/>
<rect x="239.32" y="581.91" width="4.5" height="4.5"/>
<rect x="237.42" y="586.64" width="4.5" height="4.5"/>
<rect x="239.63" y="596.42" width="4.5" height="4.5"/>
<rect x="231.64" y="597.62" width="4.5" height="4.5"/>
<rect x="236.18" y="562.58" width="4.5" height="4.5"/>
<rect x="231.64" y="619.36" width="4.5" height="4.5"/>
<rect x="235.83" y="602.25" width="4.5" height="4.5"/>
<rect x="239.77" y="610.95" width="4.5" height="4.5"/>
<rect x="231.86" y="612.16" width="4.5" height="4.5"/>
<rect x="234.49" y="577.07" width="4.5" height="4.5"/>
<rect x="232.44" y="614.74" width="4.5" height="4.5"/>
<rect x="231.91" y="582.19" width="4.5" height="4.5"/>
<rect x="240.54" y="613.97" width="4.5" height="4.5"/>
<rect x="233.68" y="658.64" width="4.5" height="4.5"/>
<rect x="233.85" y="657.73" width="4.5" height="4.5"/>
<rect x="236.37" y="538.15" width="4.5" height="4.5"/>
<rect x="241.3" y="647.98" width="4.5" height="4.5"/>
<rect x="240.86" y="583.65" width="4.5" height="4.5"/>
<rect x="236.55" y="599.09" width="4.5" height="4.5"/>
<rect x="238.86" y="605.57" width="4.5" height="4.5"/>
<rect x="235.38" y="614.04" width="4.5" height="4.5"/>
<rect x="239.95" y="696.35" width="4.5" height="4.5"/>
</g>
<g fill="#6cc242">
<rect x="285.05" y="553.85" width="4.5" height="4.5"/>
<rect x="288.55" y="558.95" width="4.5" height="4.5"/>
<rect x="290.85" y="560.35" width="4.5" height="4.5"/>
<rect x="287.35" y="562.65" width="4.5" height="4.5"/>
<rect x="292.75" y="568.25" width="4.5" height="4.5"/>
<rect x="289.75" y="577.15" width="4.5" height="4.5"/>
<rect x="288.05" y="579.05" width="4.5" height="4.5"/>
<rect x="291.55" y="583.05" width="4.5" height="4.5"/>
<rect x="293.25" y="591.15" width="4.5" height="4.5"/>
<rect x="290.45" y="600.95" width="4.5" height="4.5"/>
<rect x="289.05" y="560.75" width="4.5" height="4.5"/>
</g>
<rect x="44" y="410.9" width="284.5" height="296.6" fill="none" stroke="#444" stroke-width="1.55"/>
<line x1="396.3" y1="473.04" x2="401.5" y2="473.04" stroke="#333" stroke-width="1.2" />
<text x="394.4" y="478.04" font-size="12.8" text-anchor="end" fill="#222" >2.0</text>
<line x1="396.3" y1="524.3" x2="401.5" y2="524.3" stroke="#333" stroke-width="1.2" />
<text x="394.4" y="529.3" font-size="12.8" text-anchor="end" fill="#222" >0.0</text>
<line x1="396.3" y1="575.56" x2="401.5" y2="575.56" stroke="#333" stroke-width="1.2" />
<text x="394.4" y="580.56" font-size="12.8" text-anchor="end" fill="#222" >-2.0</text>
<line x1="396.3" y1="626.82" x2="401.5" y2="626.82" stroke="#333" stroke-width="1.2" />
<text x="394.4" y="631.82" font-size="12.8" text-anchor="end" fill="#222" >-4.0</text>
<line x1="396.3" y1="678.08" x2="401.5" y2="678.08" stroke="#333" stroke-width="1.2" />
<text x="394.4" y="683.08" font-size="12.8" text-anchor="end" fill="#222" >-6.0</text>
<text transform="translate(366,582) rotate(-90)" font-size="12.3" text-anchor="middle" fill="#222" textLength="136.5" lengthAdjust="spacingAndGlyphs">Log2 <tspan font-style="italic">NEAT1</tspan> expression</text>
<line x1="438.3" y1="706.3" x2="438.3" y2="711.3" stroke="#333" stroke-width="1.2" />
<text x="437.4" y="725.1" font-size="12.6" text-anchor="middle" fill="#222" >Luminal</text>
<text x="436" y="740.1" font-size="12.6" text-anchor="middle" fill="#222" >A</text>
<text x="436" y="751.3" font-size="10.3" text-anchor="middle" fill="#222" >(n=266)</text>
<line x1="490.65" y1="706.3" x2="490.65" y2="711.3" stroke="#333" stroke-width="1.2" />
<text x="489.75" y="725.1" font-size="12.6" text-anchor="middle" fill="#222" >Luminal</text>
<text x="488.35" y="740.1" font-size="12.6" text-anchor="middle" fill="#222" >B</text>
<text x="488.35" y="751.3" font-size="10.3" text-anchor="middle" fill="#222" >(n=108)</text>
<line x1="543" y1="706.3" x2="543" y2="711.3" stroke="#333" stroke-width="1.2" />
<text x="542.1" y="725.1" font-size="12.6" text-anchor="middle" fill="#222" >HER2-</text>
<text x="540.7" y="740.1" font-size="12.6" text-anchor="middle" fill="#222" >enriched</text>
<text x="540.7" y="751.3" font-size="10.3" text-anchor="middle" fill="#222" >(n=46)</text>
<line x1="595.35" y1="706.3" x2="595.35" y2="711.3" stroke="#333" stroke-width="1.2" />
<text x="594.45" y="725.1" font-size="12.6" text-anchor="middle" fill="#222" >Basal-</text>
<text x="593.05" y="740.1" font-size="12.6" text-anchor="middle" fill="#222" >like</text>
<text x="593.05" y="751.3" font-size="10.3" text-anchor="middle" fill="#222" >(n=95)</text>
<line x1="647.7" y1="706.3" x2="647.7" y2="711.3" stroke="#333" stroke-width="1.2" />
<text x="646.8" y="725.1" font-size="12.6" text-anchor="middle" fill="#222" >Normal-</text>
<text x="645.4" y="740.1" font-size="12.6" text-anchor="middle" fill="#222" >like</text>
<text x="645.4" y="751.3" font-size="10.3" text-anchor="middle" fill="#222" >(n=11)</text>
<text x="402.1" y="400.1" font-size="14" text-anchor="start" font-weight="bold" fill="#111" textLength="220.8" lengthAdjust="spacingAndGlyphs" >TCGA, probe ID A_24_P566917</text>
<text x="682.4" y="394.4" font-size="10.6" text-anchor="end" fill="#333" textLength="45.4" lengthAdjust="spacingAndGlyphs" >p=7.3e-19</text>
<text x="682.2" y="406.2" font-size="10.6" text-anchor="end" fill="#333" textLength="27.8" lengthAdjust="spacingAndGlyphs" >n=526</text>
<path d="M438.7 421.8V418.4H648.1V421.8" fill="none" stroke="#222" stroke-width="1.6"/>
<text x="543.4" y="417.1" font-size="8" text-anchor="middle" fill="#333" textLength="7" lengthAdjust="spacingAndGlyphs" >ns</text>
<path d="M438.7 428.9V425.5H595.75V428.9" fill="none" stroke="#222" stroke-width="1.6"/>
<path d="M506.98 421.9H511.88M508.2 419.78L510.65 424.02M508.2 424.02L510.65 419.78M512.17 421.9H517.08M513.4 419.78L515.85 424.02M513.4 424.02L515.85 419.78M517.38 421.9H522.28M518.6 419.78L521.05 424.02M518.6 424.02L521.05 419.78M522.57 421.9H527.48M523.8 419.78L526.25 424.02M523.8 424.02L526.25 419.78" stroke="#444" stroke-width="0.95" fill="none"/>
<path d="M491.05 435.7V432.3H595.75V435.7" fill="none" stroke="#222" stroke-width="1.6"/>
<path d="M533.15 428.7H538.05M534.38 426.58L536.83 430.82M534.38 430.82L536.83 426.58M538.35 428.7H543.25M539.58 426.58L542.03 430.82M539.58 430.82L542.03 426.58M543.55 428.7H548.45M544.77 426.58L547.23 430.82M544.77 430.82L547.23 426.58M548.75 428.7H553.65M549.98 426.58L552.43 430.82M549.98 430.82L552.43 426.58" stroke="#444" stroke-width="0.95" fill="none"/>
<path d="M491.05 442.3V438.9H648.1V442.3" fill="none" stroke="#222" stroke-width="1.6"/>
<text x="569.58" y="437.6" font-size="8" text-anchor="middle" fill="#333" textLength="7" lengthAdjust="spacingAndGlyphs" >ns</text>
<path d="M543.4 449.4V446H648.1V449.4" fill="none" stroke="#222" stroke-width="1.6"/>
<text x="595.75" y="444.7" font-size="8" text-anchor="middle" fill="#333" textLength="7" lengthAdjust="spacingAndGlyphs" >ns</text>
<path d="M438.7 456.4V453H543.4V456.4" fill="none" stroke="#222" stroke-width="1.6"/>
<path d="M480.8 449.4H485.7M482.02 447.28L484.47 451.52M482.02 451.52L484.47 447.28M486 449.4H490.9M487.22 447.28L489.67 451.52M487.22 451.52L489.67 447.28M491.2 449.4H496.1M492.42 447.28L494.87 451.52M492.42 451.52L494.87 447.28M496.4 449.4H501.3M497.62 447.28L500.07 451.52M497.62 451.52L500.07 447.28" stroke="#444" stroke-width="0.95" fill="none"/>
<path d="M491.05 462.6V459.2H543.4V462.6" fill="none" stroke="#222" stroke-width="1.6"/>
<path d="M512.17 455.6H517.08M513.4 453.48L515.85 457.72M513.4 457.72L515.85 453.48M517.38 455.6H522.28M518.6 453.48L521.05 457.72M518.6 457.72L521.05 453.48" stroke="#444" stroke-width="0.95" fill="none"/>
<path d="M595.75 462.6V459.2H648.1V462.6" fill="none" stroke="#222" stroke-width="1.6"/>
<path d="M616.87 455.6H621.77M618.1 453.48L620.55 457.72M618.1 457.72L620.55 453.48M622.07 455.6H626.98M623.3 453.48L625.75 457.72M623.3 457.72L625.75 453.48" stroke="#444" stroke-width="0.95" fill="none"/>
<path d="M438.7 470.2V466.8H491.05V470.2" fill="none" stroke="#222" stroke-width="1.6"/>
<path d="M462.43 463.2H467.32M463.65 461.08L466.1 465.32M463.65 465.32L466.1 461.08" stroke="#444" stroke-width="0.95" fill="none"/>
<path d="M543.4 470.2V466.8H595.75V470.2" fill="none" stroke="#222" stroke-width="1.6"/>
<path d="M564.52 463.2H569.43M565.75 461.08L568.2 465.32M565.75 465.32L568.2 461.08M569.73 463.2H574.63M570.95 461.08L573.4 465.32M570.95 465.32L573.4 461.08" stroke="#444" stroke-width="0.95" fill="none"/>
<line x1="438.5" y1="539.2" x2="438.5" y2="486.3" stroke="#222" stroke-width="1.1" stroke-dasharray="3 4"/>
<line x1="427.7" y1="486.5" x2="448.9" y2="486.5" stroke="#2a2a2a" stroke-width="1.3" />
<line x1="438.5" y1="585.5" x2="438.5" y2="639.7" stroke="#222" stroke-width="1.1" stroke-dasharray="3 4"/>
<line x1="427.7" y1="639.5" x2="448.9" y2="639.5" stroke="#2a2a2a" stroke-width="1.3" />
<rect x="417.5" y="539.5" width="42" height="46" fill="#fff" stroke="#111" stroke-width="1.15"/>
<line x1="417.5" y1="561.5" x2="459.5" y2="561.5" stroke="#000" stroke-width="2.9" />
<line x1="490.5" y1="547.6" x2="490.5" y2="509.4" stroke="#222" stroke-width="1.1" stroke-dasharray="3 4"/>
<line x1="480.05" y1="509.5" x2="501.25" y2="509.5" stroke="#2a2a2a" stroke-width="1.3" />
<line x1="490.5" y1="591.2" x2="490.5" y2="639.7" stroke="#222" stroke-width="1.1" stroke-dasharray="3 4"/>
<line x1="480.05" y1="639.5" x2="501.25" y2="639.5" stroke="#2a2a2a" stroke-width="1.3" />
<rect x="469.5" y="547.5" width="42" height="44" fill="#fff" stroke="#111" stroke-width="1.15"/>
<line x1="469.5" y1="571.3" x2="511.5" y2="571.3" stroke="#000" stroke-width="2.9" />
<line x1="543.5" y1="563.3" x2="543.5" y2="516.9" stroke="#222" stroke-width="1.1" stroke-dasharray="3 4"/>
<line x1="532.4" y1="516.5" x2="553.6" y2="516.5" stroke="#2a2a2a" stroke-width="1.3" />
<line x1="543.5" y1="598.7" x2="543.5" y2="635.6" stroke="#222" stroke-width="1.1" stroke-dasharray="3 4"/>
<line x1="532.4" y1="635.5" x2="553.6" y2="635.5" stroke="#2a2a2a" stroke-width="1.3" />
<rect x="521.5" y="563.5" width="43" height="35" fill="#fff" stroke="#111" stroke-width="1.15"/>
<line x1="521.5" y1="585.5" x2="564.5" y2="585.5" stroke="#000" stroke-width="2.9" />
<line x1="595.5" y1="580.7" x2="595.5" y2="541.4" stroke="#222" stroke-width="1.1" stroke-dasharray="3 4"/>
<line x1="584.75" y1="541.5" x2="605.95" y2="541.5" stroke="#2a2a2a" stroke-width="1.3" />
<line x1="595.5" y1="617.1" x2="595.5" y2="661.2" stroke="#222" stroke-width="1.1" stroke-dasharray="3 4"/>
<line x1="584.75" y1="661.5" x2="605.95" y2="661.5" stroke="#2a2a2a" stroke-width="1.3" />
<rect x="574.5" y="580.5" width="42" height="37" fill="#fff" stroke="#111" stroke-width="1.15"/>
<line x1="574.5" y1="601.2" x2="616.5" y2="601.2" stroke="#000" stroke-width="2.9" />
<line x1="647.5" y1="566.2" x2="647.5" y2="555.9" stroke="#222" stroke-width="1.1" stroke-dasharray="3 4"/>
<line x1="637.1" y1="555.5" x2="658.3" y2="555.5" stroke="#2a2a2a" stroke-width="1.3" />
<line x1="647.5" y1="580.2" x2="647.5" y2="591.5" stroke="#222" stroke-width="1.1" stroke-dasharray="3 4"/>
<line x1="637.1" y1="591.5" x2="658.3" y2="591.5" stroke="#2a2a2a" stroke-width="1.3" />
<rect x="626.5" y="566.5" width="42" height="14" fill="#fff" stroke="#111" stroke-width="1.15"/>
<line x1="626.5" y1="569.8" x2="668.5" y2="569.8" stroke="#000" stroke-width="2.9" />
<g fill="#2e2a82">
<rect x="438.52" y="527.48" width="4.5" height="4.5"/>
<rect x="432.12" y="554.28" width="4.5" height="4.5"/>
<rect x="440.68" y="587.78" width="4.5" height="4.5"/>
<rect x="431.05" y="493.65" width="4.5" height="4.5"/>
<rect x="436.19" y="555.04" width="4.5" height="4.5"/>
<rect x="438.23" y="521.19" width="4.5" height="4.5"/>
<rect x="432.02" y="574.32" width="4.5" height="4.5"/>
<rect x="437.12" y="551.94" width="4.5" height="4.5"/>
<rect x="437.41" y="546.61" width="4.5" height="4.5"/>
<rect x="440.66" y="530.6" width="4.5" height="4.5"/>
<rect x="435.53" y="538.24" width="4.5" height="4.5"/>
<rect x="436.46" y="517.84" width="4.5" height="4.5"/>
<rect x="434.68" y="567.07" width="4.5" height="4.5"/>
<rect x="437.57" y="539.68" width="4.5" height="4.5"/>
<rect x="432.83" y="525.89" width="4.5" height="4.5"/>
<rect x="438.4" y="582.63" width="4.5" height="4.5"/>
<rect x="438.5" y="546.33" width="4.5" height="4.5"/>
<rect x="439.48" y="523.09" width="4.5" height="4.5"/>
<rect x="434.77" y="612.15" width="4.5" height="4.5"/>
<rect x="431.51" y="600.63" width="4.5" height="4.5"/>
<rect x="437.08" y="539.37" width="4.5" height="4.5"/>
<rect x="434.91" y="569.91" width="4.5" height="4.5"/>
<rect x="435.7" y="599.59" width="4.5" height="4.5"/>
<rect x="440.55" y="486.85" width="4.5" height="4.5"/>
<rect x="435.17" y="547.02" width="4.5" height="4.5"/>
<rect x="435.95" y="637.45" width="4.5" height="4.5"/>
<rect x="434.91" y="533.97" width="4.5" height="4.5"/>
<rect x="432.27" y="581.96" width="4.5" height="4.5"/>
<rect x="433.39" y="524.87" width="4.5" height="4.5"/>
<rect x="438.82" y="540.64" width="4.5" height="4.5"/>
<rect x="434.66" y="544.09" width="4.5" height="4.5"/>
<rect x="437.02" y="572.31" width="4.5" height="4.5"/>
<rect x="431.1" y="531.56" width="4.5" height="4.5"/>
<rect x="431.48" y="544.72" width="4.5" height="4.5"/>
<rect x="439.2" y="601.89" width="4.5" height="4.5"/>
<rect x="435.82" y="569.14" width="4.5" height="4.5"/>
<rect x="437.58" y="533.32" width="4.5" height="4.5"/>
<rect x="436.83" y="528.92" width="4.5" height="4.5"/>
<rect x="431.27" y="552.83" width="4.5" height="4.5"/>
<rect x="439.76" y="566.19" width="4.5" height="4.5"/>
<rect x="436.92" y="521.03" width="4.5" height="4.5"/>
<rect x="439.1" y="557" width="4.5" height="4.5"/>
<rect x="438.49" y="539.19" width="4.5" height="4.5"/>
<rect x="438.32" y="608.3" width="4.5" height="4.5"/>
<rect x="431.53" y="537.25" width="4.5" height="4.5"/>
<rect x="439.37" y="587.57" width="4.5" height="4.5"/>
<rect x="437.63" y="545.95" width="4.5" height="4.5"/>
<rect x="433.51" y="556.84" width="4.5" height="4.5"/>
<rect x="431.68" y="533.09" width="4.5" height="4.5"/>
<rect x="438.78" y="586.99" width="4.5" height="4.5"/>
<rect x="433.05" y="535" width="4.5" height="4.5"/>
<rect x="437.86" y="561.08" width="4.5" height="4.5"/>
<rect x="432.69" y="517.3" width="4.5" height="4.5"/>
<rect x="439.54" y="567.96" width="4.5" height="4.5"/>
<rect x="431.24" y="560.15" width="4.5" height="4.5"/>
<rect x="437.18" y="554.16" width="4.5" height="4.5"/>
<rect x="437.44" y="518.48" width="4.5" height="4.5"/>
<rect x="437.51" y="569.43" width="4.5" height="4.5"/>
<rect x="439.8" y="593.32" width="4.5" height="4.5"/>
<rect x="436.5" y="593.02" width="4.5" height="4.5"/>
<rect x="432.35" y="592.69" width="4.5" height="4.5"/>
<rect x="434.28" y="606.04" width="4.5" height="4.5"/>
<rect x="432.7" y="588.56" width="4.5" height="4.5"/>
<rect x="439.87" y="564.97" width="4.5" height="4.5"/>
<rect x="440.51" y="613.22" width="4.5" height="4.5"/>
<rect x="438.01" y="535.26" width="4.5" height="4.5"/>
<rect x="439.73" y="541.87" width="4.5" height="4.5"/>
<rect x="437.82" y="559.44" width="4.5" height="4.5"/>
<rect x="435.8" y="603.57" width="4.5" height="4.5"/>
<rect x="440.69" y="622.35" width="4.5" height="4.5"/>
<rect x="433.67" y="543.93" width="4.5" height="4.5"/>
<rect x="431.38" y="566.48" width="4.5" height="4.5"/>
<rect x="433.79" y="550.36" width="4.5" height="4.5"/>
<rect x="438.89" y="557.3" width="4.5" height="4.5"/>
<rect x="432.68" y="564.4" width="4.5" height="4.5"/>
<rect x="438.13" y="575.9" width="4.5" height="4.5"/>
<rect x="437.03" y="583.49" width="4.5" height="4.5"/>
<rect x="435.66" y="544.6" width="4.5" height="4.5"/>
<rect x="435.66" y="553.28" width="4.5" height="4.5"/>
<rect x="433.03" y="551.47" width="4.5" height="4.5"/>
<rect x="439.75" y="494.05" width="4.5" height="4.5"/>
<rect x="438.15" y="483.35" width="4.5" height="4.5"/>
<rect x="431.45" y="497.25" width="4.5" height="4.5"/>
<rect x="434.62" y="551.82" width="4.5" height="4.5"/>
<rect x="438.42" y="535.84" width="4.5" height="4.5"/>
<rect x="434.74" y="578.15" width="4.5" height="4.5"/>
<rect x="435.87" y="575.62" width="4.5" height="4.5"/>
<rect x="435.25" y="575.32" width="4.5" height="4.5"/>
<rect x="438.77" y="573.02" width="4.5" height="4.5"/>
<rect x="432.03" y="589.54" width="4.5" height="4.5"/>
<rect x="432.59" y="527" width="4.5" height="4.5"/>
<rect x="441.04" y="525.58" width="4.5" height="4.5"/>
<rect x="433.98" y="542.2" width="4.5" height="4.5"/>
<rect x="440.91" y="576.72" width="4.5" height="4.5"/>
<rect x="435.52" y="607.8" width="4.5" height="4.5"/>
<rect x="435.53" y="603.74" width="4.5" height="4.5"/>
<rect x="436.53" y="604.43" width="4.5" height="4.5"/>
<rect x="433.41" y="540.51" width="4.5" height="4.5"/>
<rect x="435.74" y="619.28" width="4.5" height="4.5"/>
<rect x="438.29" y="598.26" width="4.5" height="4.5"/>
<rect x="438.33" y="522.31" width="4.5" height="4.5"/>
<rect x="437.27" y="570.15" width="4.5" height="4.5"/>
<rect x="432.12" y="580.3" width="4.5" height="4.5"/>
<rect x="435.05" y="620.25" width="4.5" height="4.5"/>
<rect x="433.45" y="515.15" width="4.5" height="4.5"/>
<rect x="432.66" y="584.17" width="4.5" height="4.5"/>
<rect x="440.85" y="567.65" width="4.5" height="4.5"/>
<rect x="439.45" y="630.05" width="4.5" height="4.5"/>
<rect x="439.25" y="548.09" width="4.5" height="4.5"/>
<rect x="435.51" y="540.1" width="4.5" height="4.5"/>
<rect x="431.62" y="589.09" width="4.5" height="4.5"/>
<rect x="436.49" y="537.46" width="4.5" height="4.5"/>
<rect x="439.77" y="560.85" width="4.5" height="4.5"/>
<rect x="431.15" y="617.3" width="4.5" height="4.5"/>
<rect x="437.07" y="591.9" width="4.5" height="4.5"/>
<rect x="436.71" y="529.49" width="4.5" height="4.5"/>
<rect x="435.61" y="582.9" width="4.5" height="4.5"/>
<rect x="437.48" y="601.52" width="4.5" height="4.5"/>
<rect x="435.14" y="579.6" width="4.5" height="4.5"/>
<rect x="440.11" y="610.42" width="4.5" height="4.5"/>
<rect x="437.46" y="547.7" width="4.5" height="4.5"/>
<rect x="438.73" y="556.44" width="4.5" height="4.5"/>
<rect x="435.82" y="555.73" width="4.5" height="4.5"/>
<rect x="434.42" y="536.52" width="4.5" height="4.5"/>
<rect x="440.74" y="586.38" width="4.5" height="4.5"/>
<rect x="439.44" y="620.69" width="4.5" height="4.5"/>
<rect x="438.8" y="561.71" width="4.5" height="4.5"/>
<rect x="433.8" y="531.91" width="4.5" height="4.5"/>
<rect x="439.95" y="581.68" width="4.5" height="4.5"/>
<rect x="432.15" y="545.51" width="4.5" height="4.5"/>
<rect x="440.16" y="526.46" width="4.5" height="4.5"/>
<rect x="437.42" y="538.62" width="4.5" height="4.5"/>
<rect x="434.24" y="536.94" width="4.5" height="4.5"/>
<rect x="433.57" y="563.08" width="4.5" height="4.5"/>
<rect x="438.71" y="583.38" width="4.5" height="4.5"/>
<rect x="438.62" y="555.99" width="4.5" height="4.5"/>
<rect x="435.69" y="540.99" width="4.5" height="4.5"/>
<rect x="433.97" y="572.61" width="4.5" height="4.5"/>
<rect x="435.8" y="577.3" width="4.5" height="4.5"/>
<rect x="430.25" y="515.95" width="4.5" height="4.5"/>
<rect x="433.91" y="563.6" width="4.5" height="4.5"/>
<rect x="431.72" y="565.11" width="4.5" height="4.5"/>
<rect x="435.08" y="532.34" width="4.5" height="4.5"/>
<rect x="436.54" y="595.59" width="4.5" height="4.5"/>
<rect x="433.45" y="508.35" width="4.5" height="4.5"/>
<rect x="436.12" y="617.79" width="4.5" height="4.5"/>
<rect x="439.95" y="602.41" width="4.5" height="4.5"/>
<rect x="435.25" y="561.83" width="4.5" height="4.5"/>
<rect x="436.28" y="579.98" width="4.5" height="4.5"/>
<rect x="431.83" y="582.46" width="4.5" height="4.5"/>
<rect x="440.84" y="554.68" width="4.5" height="4.5"/>
<rect x="439.35" y="505.95" width="4.5" height="4.5"/>
<rect x="433.27" y="581.07" width="4.5" height="4.5"/>
<rect x="440.51" y="577.67" width="4.5" height="4.5"/>
<rect x="435.5" y="571.41" width="4.5" height="4.5"/>
<rect x="436.39" y="606.87" width="4.5" height="4.5"/>
<rect x="438.64" y="590.88" width="4.5" height="4.5"/>
<rect x="437.67" y="548.44" width="4.5" height="4.5"/>
<rect x="432.92" y="585.51" width="4.5" height="4.5"/>
<rect x="431.94" y="530.05" width="4.5" height="4.5"/>
<rect x="437.87" y="565.72" width="4.5" height="4.5"/>
<rect x="439.24" y="572" width="4.5" height="4.5"/>
<rect x="438.84" y="591.51" width="4.5" height="4.5"/>
<rect x="440.25" y="567.38" width="4.5" height="4.5"/>
<rect x="431.43" y="524.38" width="4.5" height="4.5"/>
<rect x="440" y="576.13" width="4.5" height="4.5"/>
<rect x="438.3" y="543.31" width="4.5" height="4.5"/>
<rect x="437.38" y="524.02" width="4.5" height="4.5"/>
<rect x="438.54" y="571.63" width="4.5" height="4.5"/>
<rect x="434.45" y="594.32" width="4.5" height="4.5"/>
<rect x="436.27" y="552.33" width="4.5" height="4.5"/>
<rect x="435.31" y="545.62" width="4.5" height="4.5"/>
<rect x="436.11" y="529.36" width="4.5" height="4.5"/>
<rect x="431.3" y="580.45" width="4.5" height="4.5"/>
<rect x="433.86" y="577.07" width="4.5" height="4.5"/>
<rect x="439.44" y="598.35" width="4.5" height="4.5"/>
<rect x="435.59" y="550.82" width="4.5" height="4.5"/>
<rect x="432.47" y="547.59" width="4.5" height="4.5"/>
<rect x="435.05" y="562.65" width="4.5" height="4.5"/>
<rect x="440.4" y="536.16" width="4.5" height="4.5"/>
<rect x="440.7" y="548.83" width="4.5" height="4.5"/>
<rect x="436.34" y="557.61" width="4.5" height="4.5"/>
<rect x="436.59" y="568.8" width="4.5" height="4.5"/>
<rect x="433.75" y="543" width="4.5" height="4.5"/>
<rect x="440.61" y="542.51" width="4.5" height="4.5"/>
<rect x="431.26" y="519.08" width="4.5" height="4.5"/>
<rect x="437.71" y="549.82" width="4.5" height="4.5"/>
<rect x="434.81" y="528.49" width="4.5" height="4.5"/>
<rect x="440.39" y="522.75" width="4.5" height="4.5"/>
<rect x="433.47" y="559.85" width="4.5" height="4.5"/>
<rect x="436.12" y="585.34" width="4.5" height="4.5"/>
<rect x="437.01" y="520.4" width="4.5" height="4.5"/>
<rect x="440.55" y="517.45" width="4.5" height="4.5"/>
<rect x="436.16" y="586.04" width="4.5" height="4.5"/>
<rect x="437.75" y="549.23" width="4.5" height="4.5"/>
<rect x="438.95" y="511.15" width="4.5" height="4.5"/>
<rect x="434.37" y="565.57" width="4.5" height="4.5"/>
<rect x="436.48" y="570.4" width="4.5" height="4.5"/>
<rect x="434.1" y="527.94" width="4.5" height="4.5"/>
<rect x="438.28" y="579.05" width="4.5" height="4.5"/>
<rect x="436.42" y="608.72" width="4.5" height="4.5"/>
<rect x="433.94" y="564.11" width="4.5" height="4.5"/>
<rect x="435.09" y="521.69" width="4.5" height="4.5"/>
<rect x="434.71" y="534.47" width="4.5" height="4.5"/>
<rect x="437.28" y="623.02" width="4.5" height="4.5"/>
<rect x="438.15" y="501.55" width="4.5" height="4.5"/>
<rect x="434.74" y="532.78" width="4.5" height="4.5"/>
<rect x="434.65" y="494.85" width="4.5" height="4.5"/>
<rect x="430.25" y="505.95" width="4.5" height="4.5"/>
<rect x="437.01" y="612.44" width="4.5" height="4.5"/>
<rect x="438.68" y="596.44" width="4.5" height="4.5"/>
<rect x="439.99" y="545.19" width="4.5" height="4.5"/>
<rect x="438.49" y="563.29" width="4.5" height="4.5"/>
<rect x="431.57" y="553" width="4.5" height="4.5"/>
<rect x="438.05" y="574" width="4.5" height="4.5"/>
<rect x="438.32" y="537.75" width="4.5" height="4.5"/>
<rect x="434.29" y="550.12" width="4.5" height="4.5"/>
<rect x="439.93" y="615.23" width="4.5" height="4.5"/>
<rect x="438.06" y="520.14" width="4.5" height="4.5"/>
<rect x="437.72" y="555.52" width="4.5" height="4.5"/>
<rect x="435.12" y="618.91" width="4.5" height="4.5"/>
<rect x="436.1" y="596.3" width="4.5" height="4.5"/>
<rect x="432.92" y="621.55" width="4.5" height="4.5"/>
<rect x="434.1" y="611.49" width="4.5" height="4.5"/>
<rect x="432.05" y="574.92" width="4.5" height="4.5"/>
<rect x="433.43" y="535.84" width="4.5" height="4.5"/>
<rect x="432.24" y="581.15" width="4.5" height="4.5"/>
<rect x="438.91" y="578.8" width="4.5" height="4.5"/>
<rect x="432.43" y="534.16" width="4.5" height="4.5"/>
<rect x="434.33" y="568.32" width="4.5" height="4.5"/>
<rect x="437.65" y="615.35" width="4.5" height="4.5"/>
<rect x="433.66" y="558.96" width="4.5" height="4.5"/>
<rect x="431.57" y="558.21" width="4.5" height="4.5"/>
<rect x="436.25" y="605.15" width="4.5" height="4.5"/>
<rect x="435.05" y="549.56" width="4.5" height="4.5"/>
<rect x="440.92" y="573.22" width="4.5" height="4.5"/>
<rect x="438.42" y="519.48" width="4.5" height="4.5"/>
<rect x="431.14" y="560.35" width="4.5" height="4.5"/>
<rect x="438.18" y="526.6" width="4.5" height="4.5"/>
<rect x="436.77" y="597.17" width="4.5" height="4.5"/>
<rect x="435.08" y="517.18" width="4.5" height="4.5"/>
<rect x="433.38" y="538.38" width="4.5" height="4.5"/>
<rect x="431.37" y="614.42" width="4.5" height="4.5"/>
<rect x="439.02" y="531.4" width="4.5" height="4.5"/>
<rect x="436.33" y="583.9" width="4.5" height="4.5"/>
<rect x="435.55" y="589.88" width="4.5" height="4.5"/>
<rect x="433.89" y="553.7" width="4.5" height="4.5"/>
<rect x="434.65" y="486.05" width="4.5" height="4.5"/>
<rect x="437.52" y="571.05" width="4.5" height="4.5"/>
<rect x="432.48" y="536.76" width="4.5" height="4.5"/>
<rect x="436" y="609.46" width="4.5" height="4.5"/>
<rect x="440.13" y="523.48" width="4.5" height="4.5"/>
<rect x="432.64" y="616.42" width="4.5" height="4.5"/>
<rect x="441.04" y="558.91" width="4.5" height="4.5"/>
<rect x="434.09" y="530.74" width="4.5" height="4.5"/>
<rect x="436.96" y="541.38" width="4.5" height="4.5"/>
<rect x="435.9" y="573.9" width="4.5" height="4.5"/>
<rect x="435.82" y="595.01" width="4.5" height="4.5"/>
<rect x="434.46" y="584.77" width="4.5" height="4.5"/>
<rect x="439.32" y="578.39" width="4.5" height="4.5"/>
<rect x="432.03" y="534.88" width="4.5" height="4.5"/>
<rect x="434.33" y="562.26" width="4.5" height="4.5"/>
<rect x="437.55" y="551.23" width="4.5" height="4.5"/>
<rect x="436.55" y="558.32" width="4.5" height="4.5"/>
<rect x="435.69" y="599.78" width="4.5" height="4.5"/>
<rect x="433.02" y="542.72" width="4.5" height="4.5"/>
</g>
<g fill="#a6d5eb">
<rect x="492.67" y="597.07" width="4.5" height="4.5"/>
<rect x="485.16" y="565.83" width="4.5" height="4.5"/>
<rect x="490.22" y="537.2" width="4.5" height="4.5"/>
<rect x="484.26" y="534.51" width="4.5" height="4.5"/>
<rect x="488.39" y="589.23" width="4.5" height="4.5"/>
<rect x="490.38" y="552.36" width="4.5" height="4.5"/>
<rect x="486.66" y="556.29" width="4.5" height="4.5"/>
<rect x="491.43" y="585.19" width="4.5" height="4.5"/>
<rect x="491.08" y="559.49" width="4.5" height="4.5"/>
<rect x="489.22" y="589.71" width="4.5" height="4.5"/>
<rect x="489.93" y="587.49" width="4.5" height="4.5"/>
<rect x="490.5" y="544.32" width="4.5" height="4.5"/>
<rect x="493.18" y="607.37" width="4.5" height="4.5"/>
<rect x="485.07" y="609.64" width="4.5" height="4.5"/>
<rect x="487.4" y="568.07" width="4.5" height="4.5"/>
<rect x="484.96" y="558.56" width="4.5" height="4.5"/>
<rect x="490.21" y="569.42" width="4.5" height="4.5"/>
<rect x="484.59" y="555.41" width="4.5" height="4.5"/>
<rect x="493.3" y="592.48" width="4.5" height="4.5"/>
<rect x="491.12" y="577.85" width="4.5" height="4.5"/>
<rect x="484.75" y="507.05" width="4.5" height="4.5"/>
<rect x="488.72" y="585.96" width="4.5" height="4.5"/>
<rect x="485.08" y="544.91" width="4.5" height="4.5"/>
<rect x="484.75" y="521.35" width="4.5" height="4.5"/>
<rect x="492.55" y="574.2" width="4.5" height="4.5"/>
<rect x="484.22" y="531.18" width="4.5" height="4.5"/>
<rect x="483.59" y="577.26" width="4.5" height="4.5"/>
<rect x="489.89" y="563.8" width="4.5" height="4.5"/>
<rect x="491.45" y="611.75" width="4.5" height="4.5"/>
<rect x="484.41" y="582.76" width="4.5" height="4.5"/>
<rect x="490.81" y="556.66" width="4.5" height="4.5"/>
<rect x="490.02" y="545.65" width="4.5" height="4.5"/>
<rect x="488.01" y="571.63" width="4.5" height="4.5"/>
<rect x="487.22" y="580.93" width="4.5" height="4.5"/>
<rect x="487.31" y="590.72" width="4.5" height="4.5"/>
<rect x="492.7" y="561.98" width="4.5" height="4.5"/>
<rect x="486.3" y="600.42" width="4.5" height="4.5"/>
<rect x="491.1" y="538.93" width="4.5" height="4.5"/>
<rect x="487.24" y="603.03" width="4.5" height="4.5"/>
<rect x="492.22" y="530.73" width="4.5" height="4.5"/>
<rect x="483.42" y="578.36" width="4.5" height="4.5"/>
<rect x="489.49" y="536.32" width="4.5" height="4.5"/>
<rect x="488.1" y="550.39" width="4.5" height="4.5"/>
<rect x="493.04" y="583.92" width="4.5" height="4.5"/>
<rect x="484.04" y="588.79" width="4.5" height="4.5"/>
<rect x="491" y="560.48" width="4.5" height="4.5"/>
<rect x="488.35" y="618.95" width="4.5" height="4.5"/>
<rect x="493.12" y="561.71" width="4.5" height="4.5"/>
<rect x="485.85" y="547.68" width="4.5" height="4.5"/>
<rect x="490.66" y="582.12" width="4.5" height="4.5"/>
<rect x="486.9" y="580.03" width="4.5" height="4.5"/>
<rect x="489.87" y="594.13" width="4.5" height="4.5"/>
<rect x="485.34" y="595.86" width="4.5" height="4.5"/>
<rect x="484.03" y="532.35" width="4.5" height="4.5"/>
<rect x="483.73" y="587.71" width="4.5" height="4.5"/>
<rect x="487.71" y="553.67" width="4.5" height="4.5"/>
<rect x="492.79" y="573.12" width="4.5" height="4.5"/>
<rect x="493.03" y="567.33" width="4.5" height="4.5"/>
<rect x="484.82" y="565.14" width="4.5" height="4.5"/>
<rect x="491.37" y="548.06" width="4.5" height="4.5"/>
<rect x="488.29" y="528.17" width="4.5" height="4.5"/>
<rect x="483.87" y="557.82" width="4.5" height="4.5"/>
<rect x="487.08" y="605.85" width="4.5" height="4.5"/>
<rect x="486.11" y="546.99" width="4.5" height="4.5"/>
<rect x="485.94" y="540.4" width="4.5" height="4.5"/>
<rect x="489.48" y="549.34" width="4.5" height="4.5"/>
<rect x="483.58" y="570.38" width="4.5" height="4.5"/>
<rect x="488.32" y="535.11" width="4.5" height="4.5"/>
<rect x="489.77" y="550.6" width="4.5" height="4.5"/>
<rect x="487.51" y="529.44" width="4.5" height="4.5"/>
<rect x="488.35" y="637.25" width="4.5" height="4.5"/>
<rect x="492.99" y="527.46" width="4.5" height="4.5"/>
<rect x="485.03" y="601.64" width="4.5" height="4.5"/>
<rect x="485.65" y="552.12" width="4.5" height="4.5"/>
<rect x="487.65" y="518.95" width="4.5" height="4.5"/>
<rect x="490.87" y="545.18" width="4.5" height="4.5"/>
<rect x="486.11" y="570.87" width="4.5" height="4.5"/>
<rect x="490.71" y="583.8" width="4.5" height="4.5"/>
<rect x="486.52" y="594.53" width="4.5" height="4.5"/>
<rect x="491.45" y="603.71" width="4.5" height="4.5"/>
<rect x="493.03" y="569.38" width="4.5" height="4.5"/>
<rect x="484.79" y="576.44" width="4.5" height="4.5"/>
<rect x="484.67" y="566.1" width="4.5" height="4.5"/>
<rect x="490.43" y="554.37" width="4.5" height="4.5"/>
<rect x="493.33" y="586.42" width="4.5" height="4.5"/>
<rect x="490.18" y="541.55" width="4.5" height="4.5"/>
<rect x="492.41" y="541.74" width="4.5" height="4.5"/>
<rect x="489.33" y="593.32" width="4.5" height="4.5"/>
<rect x="489.57" y="578.85" width="4.5" height="4.5"/>
<rect x="492.35" y="572.34" width="4.5" height="4.5"/>
<rect x="492.42" y="599.16" width="4.5" height="4.5"/>
<rect x="483.65" y="611.75" width="4.5" height="4.5"/>
<rect x="486.65" y="575.51" width="4.5" height="4.5"/>
<rect x="485.49" y="609.15" width="4.5" height="4.5"/>
<rect x="484.43" y="591.05" width="4.5" height="4.5"/>
<rect x="489.24" y="533.67" width="4.5" height="4.5"/>
<rect x="491.28" y="538.11" width="4.5" height="4.5"/>
<rect x="487.97" y="581.19" width="4.5" height="4.5"/>
<rect x="484.63" y="539.89" width="4.5" height="4.5"/>
<rect x="491.21" y="574.61" width="4.5" height="4.5"/>
<rect x="486.2" y="542.53" width="4.5" height="4.5"/>
<rect x="487.14" y="543.38" width="4.5" height="4.5"/>
<rect x="486.86" y="598.41" width="4.5" height="4.5"/>
<rect x="488.21" y="604.66" width="4.5" height="4.5"/>
<rect x="489.55" y="629.65" width="4.5" height="4.5"/>
<rect x="491.73" y="562.78" width="4.5" height="4.5"/>
<rect x="485.95" y="509.45" width="4.5" height="4.5"/>
<rect x="489.75" y="475.35" width="4.5" height="4.5"/>
</g>
<g fill="#e76aaa">
<rect x="541.98" y="579.23" width="4.5" height="4.5"/>
<rect x="539.15" y="534.85" width="4.5" height="4.5"/>
<rect x="541.85" y="577.75" width="4.5" height="4.5"/>
<rect x="544.86" y="561.94" width="4.5" height="4.5"/>
<rect x="543.19" y="590.38" width="4.5" height="4.5"/>
<rect x="542.38" y="574.37" width="4.5" height="4.5"/>
<rect x="535.65" y="595.65" width="4.5" height="4.5"/>
<rect x="542.75" y="618.85" width="4.5" height="4.5"/>
<rect x="545.45" y="565.65" width="4.5" height="4.5"/>
<rect x="545.45" y="596.55" width="4.5" height="4.5"/>
<rect x="538.25" y="538.45" width="4.5" height="4.5"/>
<rect x="539.81" y="571.42" width="4.5" height="4.5"/>
<rect x="536.43" y="585.64" width="4.5" height="4.5"/>
<rect x="542.75" y="549.55" width="4.5" height="4.5"/>
<rect x="540.05" y="551.85" width="4.5" height="4.5"/>
<rect x="542.75" y="615.25" width="4.5" height="4.5"/>
<rect x="540.05" y="581.35" width="4.5" height="4.5"/>
<rect x="537.35" y="605.95" width="4.5" height="4.5"/>
<rect x="542.86" y="579.86" width="4.5" height="4.5"/>
<rect x="540.44" y="563.58" width="4.5" height="4.5"/>
<rect x="535.65" y="632.75" width="4.5" height="4.5"/>
<rect x="535.65" y="586.65" width="4.5" height="4.5"/>
<rect x="540.33" y="563.27" width="4.5" height="4.5"/>
<rect x="544.15" y="514.85" width="4.5" height="4.5"/>
<rect x="544.55" y="573.25" width="4.5" height="4.5"/>
<rect x="535.65" y="623.85" width="4.5" height="4.5"/>
<rect x="536.55" y="576.85" width="4.5" height="4.5"/>
<rect x="540.95" y="625.95" width="4.5" height="4.5"/>
<rect x="543.65" y="559.85" width="4.5" height="4.5"/>
<rect x="540.05" y="594.75" width="4.5" height="4.5"/>
<rect x="536.55" y="611.65" width="4.5" height="4.5"/>
<rect x="538.57" y="580.88" width="4.5" height="4.5"/>
<rect x="544.55" y="584.85" width="4.5" height="4.5"/>
<rect x="544.54" y="584.49" width="4.5" height="4.5"/>
<rect x="544.55" y="592.05" width="4.5" height="4.5"/>
<rect x="538.85" y="569.15" width="4.5" height="4.5"/>
<rect x="540.95" y="588.45" width="4.5" height="4.5"/>
<rect x="537" y="563.17" width="4.5" height="4.5"/>
<rect x="542.75" y="555.45" width="4.5" height="4.5"/>
<rect x="538.85" y="542.05" width="4.5" height="4.5"/>
<rect x="541.85" y="605.95" width="4.5" height="4.5"/>
<rect x="545.19" y="592.38" width="4.5" height="4.5"/>
<rect x="545.04" y="594.04" width="4.5" height="4.5"/>
<rect x="536.56" y="568.65" width="4.5" height="4.5"/>
<rect x="539.87" y="581.74" width="4.5" height="4.5"/>
<rect x="537.58" y="570.64" width="4.5" height="4.5"/>
</g>
<g fill="#e02c24">
<rect x="589.15" y="615.32" width="4.5" height="4.5"/>
<rect x="594.83" y="586.36" width="4.5" height="4.5"/>
<rect x="590.65" y="614.91" width="4.5" height="4.5"/>
<rect x="589.46" y="596.47" width="4.5" height="4.5"/>
<rect x="591.5" y="567.84" width="4.5" height="4.5"/>
<rect x="590.69" y="613.12" width="4.5" height="4.5"/>
<rect x="593.49" y="583.87" width="4.5" height="4.5"/>
<rect x="593.61" y="612.45" width="4.5" height="4.5"/>
<rect x="590.27" y="576.39" width="4.5" height="4.5"/>
<rect x="589.17" y="564.44" width="4.5" height="4.5"/>
<rect x="595.99" y="603.68" width="4.5" height="4.5"/>
<rect x="593.31" y="581.35" width="4.5" height="4.5"/>
<rect x="591.57" y="594.44" width="4.5" height="4.5"/>
<rect x="591.71" y="655.8" width="4.5" height="4.5"/>
<rect x="593.63" y="577.11" width="4.5" height="4.5"/>
<rect x="588.49" y="599.89" width="4.5" height="4.5"/>
<rect x="590.24" y="609.63" width="4.5" height="4.5"/>
<rect x="588.88" y="584.51" width="4.5" height="4.5"/>
<rect x="597.24" y="578.45" width="4.5" height="4.5"/>
<rect x="596.32" y="561.07" width="4.5" height="4.5"/>
<rect x="591.41" y="605.45" width="4.5" height="4.5"/>
<rect x="588.36" y="583.14" width="4.5" height="4.5"/>
<rect x="593.45" y="605.74" width="4.5" height="4.5"/>
<rect x="596.37" y="616.46" width="4.5" height="4.5"/>
<rect x="595.21" y="627.43" width="4.5" height="4.5"/>
<rect x="595.9" y="577.76" width="4.5" height="4.5"/>
<rect x="594.88" y="611.79" width="4.5" height="4.5"/>
<rect x="598.01" y="573.76" width="4.5" height="4.5"/>
<rect x="594.87" y="651.89" width="4.5" height="4.5"/>
<rect x="593.91" y="658.95" width="4.5" height="4.5"/>
<rect x="597.6" y="641.01" width="4.5" height="4.5"/>
<rect x="593.75" y="578.35" width="4.5" height="4.5"/>
<rect x="590.18" y="622.58" width="4.5" height="4.5"/>
<rect x="595.36" y="601.96" width="4.5" height="4.5"/>
<rect x="595.16" y="614.88" width="4.5" height="4.5"/>
<rect x="590.7" y="611.31" width="4.5" height="4.5"/>
<rect x="595.22" y="591.07" width="4.5" height="4.5"/>
<rect x="591.93" y="589.81" width="4.5" height="4.5"/>
<rect x="596.28" y="547.03" width="4.5" height="4.5"/>
<rect x="593.86" y="539.15" width="4.5" height="4.5"/>
<rect x="594.03" y="545.66" width="4.5" height="4.5"/>
<rect x="590.72" y="578.06" width="4.5" height="4.5"/>
<rect x="594.63" y="610.82" width="4.5" height="4.5"/>
<rect x="590.49" y="615.52" width="4.5" height="4.5"/>
<rect x="588.56" y="633.06" width="4.5" height="4.5"/>
<rect x="595.47" y="618.35" width="4.5" height="4.5"/>
<rect x="594.36" y="617.47" width="4.5" height="4.5"/>
<rect x="593.95" y="623.63" width="4.5" height="4.5"/>
<rect x="596.08" y="615.88" width="4.5" height="4.5"/>
<rect x="589.28" y="569.3" width="4.5" height="4.5"/>
<rect x="597.3" y="578.78" width="4.5" height="4.5"/>
<rect x="590.98" y="588.63" width="4.5" height="4.5"/>
<rect x="593.8" y="556.35" width="4.5" height="4.5"/>
<rect x="590.48" y="637.56" width="4.5" height="4.5"/>
<rect x="596.77" y="588.78" width="4.5" height="4.5"/>
<rect x="591.62" y="637.43" width="4.5" height="4.5"/>
<rect x="592.1" y="597.51" width="4.5" height="4.5"/>
<rect x="588.18" y="580.55" width="4.5" height="4.5"/>
<rect x="588.74" y="648.1" width="4.5" height="4.5"/>
<rect x="590.25" y="567.05" width="4.5" height="4.5"/>
<rect x="589.57" y="609.31" width="4.5" height="4.5"/>
<rect x="597.34" y="575.57" width="4.5" height="4.5"/>
<rect x="589.52" y="614.36" width="4.5" height="4.5"/>
<rect x="594.06" y="626.72" width="4.5" height="4.5"/>
<rect x="588.68" y="601.43" width="4.5" height="4.5"/>
<rect x="591.81" y="606.68" width="4.5" height="4.5"/>
<rect x="597.81" y="594.88" width="4.5" height="4.5"/>
<rect x="589.72" y="541.29" width="4.5" height="4.5"/>
<rect x="595.24" y="595.71" width="4.5" height="4.5"/>
<rect x="597.09" y="646.69" width="4.5" height="4.5"/>
<rect x="590.15" y="593.42" width="4.5" height="4.5"/>
<rect x="593.2" y="585.53" width="4.5" height="4.5"/>
<rect x="594.96" y="599.53" width="4.5" height="4.5"/>
<rect x="597.45" y="553.35" width="4.5" height="4.5"/>
<rect x="589.93" y="559.35" width="4.5" height="4.5"/>
<rect x="596.94" y="621.29" width="4.5" height="4.5"/>
<rect x="590.25" y="576.89" width="4.5" height="4.5"/>
<rect x="591.85" y="602.46" width="4.5" height="4.5"/>
<rect x="591.22" y="603.56" width="4.5" height="4.5"/>
<rect x="597.82" y="579.69" width="4.5" height="4.5"/>
<rect x="595.12" y="582.65" width="4.5" height="4.5"/>
<rect x="596.33" y="591.82" width="4.5" height="4.5"/>
<rect x="592.02" y="600.8" width="4.5" height="4.5"/>
<rect x="594.17" y="598.31" width="4.5" height="4.5"/>
<rect x="592.96" y="607.6" width="4.5" height="4.5"/>
<rect x="594.9" y="608.31" width="4.5" height="4.5"/>
<rect x="591.99" y="613.85" width="4.5" height="4.5"/>
<rect x="596.18" y="550.23" width="4.5" height="4.5"/>
<rect x="590.45" y="572.63" width="4.5" height="4.5"/>
<rect x="593.07" y="592.59" width="4.5" height="4.5"/>
<rect x="593.2" y="607.39" width="4.5" height="4.5"/>
<rect x="596.45" y="587.37" width="4.5" height="4.5"/>
<rect x="595.88" y="619.76" width="4.5" height="4.5"/>
<rect x="594.18" y="604.37" width="4.5" height="4.5"/>
<rect x="592.71" y="631.87" width="4.5" height="4.5"/>
<rect x="596.39" y="571.85" width="4.5" height="4.5"/>
<rect x="592.25" y="695.25" width="4.5" height="4.5"/>
</g>
<g fill="#6cc242">
<rect x="641.65" y="552.65" width="4.5" height="4.5"/>
<rect x="642.85" y="556.75" width="4.5" height="4.5"/>
<rect x="644.05" y="561.55" width="4.5" height="4.5"/>
<rect x="642.85" y="566.35" width="4.5" height="4.5"/>
<rect x="648.85" y="565.95" width="4.5" height="4.5"/>
<rect x="642.85" y="568.75" width="4.5" height="4.5"/>
<rect x="644.75" y="576.75" width="4.5" height="4.5"/>
<rect x="640.45" y="579.65" width="4.5" height="4.5"/>
<rect x="643.55" y="589.25" width="4.5" height="4.5"/>
<rect x="650.05" y="589.25" width="4.5" height="4.5"/>
<rect x="642.35" y="555.05" width="4.5" height="4.5"/>
</g>
<rect x="401.5" y="410.4" width="282.8" height="295.9" fill="none" stroke="#444" stroke-width="1.55"/>
</svg>
</body></html>
